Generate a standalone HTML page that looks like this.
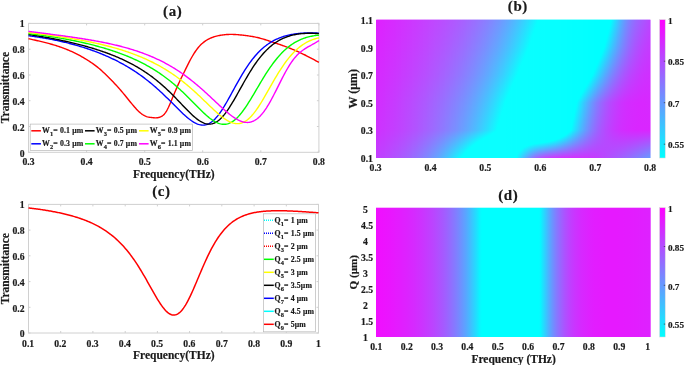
<!DOCTYPE html><html><head><meta charset="utf-8"><title>Figure</title><style>html,body{margin:0;padding:0;background:#fff;overflow:hidden}svg{display:block;will-change:transform}text{stroke:#1a1a1a;stroke-width:.18px;stroke-linejoin:round}</style></head><body><svg width="685" height="365" viewBox="0 0 685 365" style="display:block">
<rect width="685" height="365" fill="#fff"/>
<defs><linearGradient id="gd" x1="0" y1="0" x2="1" y2="0"><stop offset="0.0000" stop-color="#f10eff"/><stop offset="0.0071" stop-color="#f00fff"/><stop offset="0.0143" stop-color="#ef10ff"/><stop offset="0.0214" stop-color="#ee11ff"/><stop offset="0.0286" stop-color="#ed12ff"/><stop offset="0.0357" stop-color="#ec13ff"/><stop offset="0.0429" stop-color="#eb14ff"/><stop offset="0.0500" stop-color="#ea15ff"/><stop offset="0.0571" stop-color="#e817ff"/><stop offset="0.0643" stop-color="#e718ff"/><stop offset="0.0714" stop-color="#e51aff"/><stop offset="0.0786" stop-color="#e41bff"/><stop offset="0.0857" stop-color="#e31cff"/><stop offset="0.0929" stop-color="#e11eff"/><stop offset="0.1000" stop-color="#df20ff"/><stop offset="0.1071" stop-color="#de21ff"/><stop offset="0.1143" stop-color="#dc23ff"/><stop offset="0.1214" stop-color="#da25ff"/><stop offset="0.1286" stop-color="#d827ff"/><stop offset="0.1357" stop-color="#d629ff"/><stop offset="0.1429" stop-color="#d42bff"/><stop offset="0.1500" stop-color="#d12eff"/><stop offset="0.1571" stop-color="#cf30ff"/><stop offset="0.1643" stop-color="#cd32ff"/><stop offset="0.1714" stop-color="#ca35ff"/><stop offset="0.1786" stop-color="#c738ff"/><stop offset="0.1857" stop-color="#c43bff"/><stop offset="0.1929" stop-color="#c13eff"/><stop offset="0.2000" stop-color="#be41ff"/><stop offset="0.2071" stop-color="#bb44ff"/><stop offset="0.2143" stop-color="#b748ff"/><stop offset="0.2214" stop-color="#b34cff"/><stop offset="0.2286" stop-color="#af50ff"/><stop offset="0.2357" stop-color="#ab54ff"/><stop offset="0.2429" stop-color="#a758ff"/><stop offset="0.2500" stop-color="#a25dff"/><stop offset="0.2571" stop-color="#9d62ff"/><stop offset="0.2643" stop-color="#9768ff"/><stop offset="0.2714" stop-color="#926dff"/><stop offset="0.2786" stop-color="#8c73ff"/><stop offset="0.2857" stop-color="#8679ff"/><stop offset="0.2929" stop-color="#7f80ff"/><stop offset="0.3000" stop-color="#7887ff"/><stop offset="0.3071" stop-color="#708fff"/><stop offset="0.3143" stop-color="#6897ff"/><stop offset="0.3214" stop-color="#609fff"/><stop offset="0.3286" stop-color="#57a8ff"/><stop offset="0.3357" stop-color="#4db2ff"/><stop offset="0.3429" stop-color="#43bcff"/><stop offset="0.3500" stop-color="#38c7ff"/><stop offset="0.3571" stop-color="#2dd2ff"/><stop offset="0.3643" stop-color="#22ddff"/><stop offset="0.3714" stop-color="#15eaff"/><stop offset="0.3786" stop-color="#08f7ff"/><stop offset="0.3857" stop-color="#00ffff"/><stop offset="0.3929" stop-color="#00ffff"/><stop offset="0.4000" stop-color="#00ffff"/><stop offset="0.4071" stop-color="#00ffff"/><stop offset="0.4143" stop-color="#00ffff"/><stop offset="0.4214" stop-color="#00ffff"/><stop offset="0.4286" stop-color="#00ffff"/><stop offset="0.4357" stop-color="#00ffff"/><stop offset="0.4429" stop-color="#00ffff"/><stop offset="0.4500" stop-color="#00ffff"/><stop offset="0.4571" stop-color="#00ffff"/><stop offset="0.4643" stop-color="#00ffff"/><stop offset="0.4714" stop-color="#00ffff"/><stop offset="0.4786" stop-color="#00ffff"/><stop offset="0.4857" stop-color="#00ffff"/><stop offset="0.4929" stop-color="#00ffff"/><stop offset="0.5000" stop-color="#00ffff"/><stop offset="0.5071" stop-color="#00ffff"/><stop offset="0.5143" stop-color="#00ffff"/><stop offset="0.5214" stop-color="#00ffff"/><stop offset="0.5286" stop-color="#00ffff"/><stop offset="0.5357" stop-color="#00ffff"/><stop offset="0.5429" stop-color="#00ffff"/><stop offset="0.5500" stop-color="#00ffff"/><stop offset="0.5571" stop-color="#00ffff"/><stop offset="0.5643" stop-color="#00ffff"/><stop offset="0.5714" stop-color="#00ffff"/><stop offset="0.5786" stop-color="#00ffff"/><stop offset="0.5857" stop-color="#00ffff"/><stop offset="0.5929" stop-color="#00ffff"/><stop offset="0.6000" stop-color="#09f6ff"/><stop offset="0.6071" stop-color="#1ce3ff"/><stop offset="0.6143" stop-color="#2dd2ff"/><stop offset="0.6214" stop-color="#3ec1ff"/><stop offset="0.6286" stop-color="#4fb0ff"/><stop offset="0.6357" stop-color="#5ea1ff"/><stop offset="0.6429" stop-color="#6c93ff"/><stop offset="0.6500" stop-color="#7986ff"/><stop offset="0.6571" stop-color="#857aff"/><stop offset="0.6643" stop-color="#8f70ff"/><stop offset="0.6714" stop-color="#9966ff"/><stop offset="0.6786" stop-color="#a25dff"/><stop offset="0.6857" stop-color="#ab54ff"/><stop offset="0.6929" stop-color="#b24dff"/><stop offset="0.7000" stop-color="#b946ff"/><stop offset="0.7071" stop-color="#bf40ff"/><stop offset="0.7143" stop-color="#c43bff"/><stop offset="0.7214" stop-color="#c936ff"/><stop offset="0.7286" stop-color="#cd32ff"/><stop offset="0.7357" stop-color="#d02fff"/><stop offset="0.7429" stop-color="#d42bff"/><stop offset="0.7500" stop-color="#d728ff"/><stop offset="0.7571" stop-color="#d926ff"/><stop offset="0.7643" stop-color="#db24ff"/><stop offset="0.7714" stop-color="#dd22ff"/><stop offset="0.7786" stop-color="#df20ff"/><stop offset="0.7857" stop-color="#e01fff"/><stop offset="0.7929" stop-color="#e21dff"/><stop offset="0.8000" stop-color="#e31cff"/><stop offset="0.8071" stop-color="#e31cff"/><stop offset="0.8143" stop-color="#e41bff"/><stop offset="0.8214" stop-color="#e51aff"/><stop offset="0.8286" stop-color="#e51aff"/><stop offset="0.8357" stop-color="#e619ff"/><stop offset="0.8429" stop-color="#e619ff"/><stop offset="0.8500" stop-color="#e619ff"/><stop offset="0.8571" stop-color="#e619ff"/><stop offset="0.8643" stop-color="#e619ff"/><stop offset="0.8714" stop-color="#e619ff"/><stop offset="0.8786" stop-color="#e619ff"/><stop offset="0.8857" stop-color="#e51aff"/><stop offset="0.8929" stop-color="#e51aff"/><stop offset="0.9000" stop-color="#e51aff"/><stop offset="0.9071" stop-color="#e41bff"/><stop offset="0.9143" stop-color="#e41bff"/><stop offset="0.9214" stop-color="#e41bff"/><stop offset="0.9286" stop-color="#e31cff"/><stop offset="0.9357" stop-color="#e31cff"/><stop offset="0.9429" stop-color="#e21dff"/><stop offset="0.9500" stop-color="#e21dff"/><stop offset="0.9571" stop-color="#e11eff"/><stop offset="0.9643" stop-color="#e01fff"/><stop offset="0.9714" stop-color="#e01fff"/><stop offset="0.9786" stop-color="#df20ff"/><stop offset="0.9857" stop-color="#df20ff"/><stop offset="0.9929" stop-color="#de21ff"/><stop offset="1.0000" stop-color="#de21ff"/></linearGradient><linearGradient id="cb" x1="0" y1="0" x2="0" y2="1"><stop offset="0" stop-color="#ff00ff"/><stop offset="1" stop-color="#00ffff"/></linearGradient><linearGradient id="b0" x1="0" y1="0" x2="0" y2="1"><stop offset="0.000" stop-color="#df20ff"/><stop offset="0.200" stop-color="#da25ff"/><stop offset="0.400" stop-color="#d629ff"/><stop offset="0.600" stop-color="#d32cff"/><stop offset="0.800" stop-color="#ce31ff"/><stop offset="1.000" stop-color="#c23dff"/></linearGradient><linearGradient id="b1" x1="0" y1="0" x2="0" y2="1"><stop offset="0.000" stop-color="#df20ff"/><stop offset="0.200" stop-color="#da25ff"/><stop offset="0.400" stop-color="#d629ff"/><stop offset="0.600" stop-color="#d22dff"/><stop offset="0.800" stop-color="#cd32ff"/><stop offset="1.000" stop-color="#c13eff"/></linearGradient><linearGradient id="b2" x1="0" y1="0" x2="0" y2="1"><stop offset="0.000" stop-color="#de21ff"/><stop offset="0.200" stop-color="#d926ff"/><stop offset="0.400" stop-color="#d52aff"/><stop offset="0.600" stop-color="#d22dff"/><stop offset="0.800" stop-color="#cd32ff"/><stop offset="1.000" stop-color="#c03fff"/></linearGradient><linearGradient id="b3" x1="0" y1="0" x2="0" y2="1"><stop offset="0.000" stop-color="#de21ff"/><stop offset="0.200" stop-color="#d926ff"/><stop offset="0.400" stop-color="#d52aff"/><stop offset="0.600" stop-color="#d12eff"/><stop offset="0.800" stop-color="#cc33ff"/><stop offset="1.000" stop-color="#bf40ff"/></linearGradient><linearGradient id="b4" x1="0" y1="0" x2="0" y2="1"><stop offset="0.000" stop-color="#dd22ff"/><stop offset="0.200" stop-color="#d827ff"/><stop offset="0.400" stop-color="#d42bff"/><stop offset="0.600" stop-color="#d02fff"/><stop offset="0.800" stop-color="#cc33ff"/><stop offset="1.000" stop-color="#be41ff"/></linearGradient><linearGradient id="b5" x1="0" y1="0" x2="0" y2="1"><stop offset="0.000" stop-color="#dd22ff"/><stop offset="0.200" stop-color="#d827ff"/><stop offset="0.400" stop-color="#d42bff"/><stop offset="0.600" stop-color="#d02fff"/><stop offset="0.800" stop-color="#cb34ff"/><stop offset="1.000" stop-color="#bd42ff"/></linearGradient><linearGradient id="b6" x1="0" y1="0" x2="0" y2="1"><stop offset="0.000" stop-color="#dc23ff"/><stop offset="0.200" stop-color="#d728ff"/><stop offset="0.400" stop-color="#d32cff"/><stop offset="0.600" stop-color="#cf30ff"/><stop offset="0.800" stop-color="#ca35ff"/><stop offset="1.000" stop-color="#bc43ff"/></linearGradient><linearGradient id="b7" x1="0" y1="0" x2="0" y2="1"><stop offset="0.000" stop-color="#db24ff"/><stop offset="0.200" stop-color="#d728ff"/><stop offset="0.400" stop-color="#d32cff"/><stop offset="0.600" stop-color="#ce31ff"/><stop offset="0.800" stop-color="#ca35ff"/><stop offset="1.000" stop-color="#bc43ff"/></linearGradient><linearGradient id="b8" x1="0" y1="0" x2="0" y2="1"><stop offset="0.000" stop-color="#db24ff"/><stop offset="0.200" stop-color="#d629ff"/><stop offset="0.400" stop-color="#d22dff"/><stop offset="0.600" stop-color="#ce31ff"/><stop offset="0.800" stop-color="#c936ff"/><stop offset="1.000" stop-color="#bb44ff"/></linearGradient><linearGradient id="b9" x1="0" y1="0" x2="0" y2="1"><stop offset="0.000" stop-color="#da25ff"/><stop offset="0.200" stop-color="#d629ff"/><stop offset="0.400" stop-color="#d22dff"/><stop offset="0.600" stop-color="#cd32ff"/><stop offset="0.800" stop-color="#c936ff"/><stop offset="1.000" stop-color="#ba45ff"/></linearGradient><linearGradient id="b10" x1="0" y1="0" x2="0" y2="1"><stop offset="0.000" stop-color="#da25ff"/><stop offset="0.200" stop-color="#d52aff"/><stop offset="0.400" stop-color="#d12eff"/><stop offset="0.600" stop-color="#cc33ff"/><stop offset="0.800" stop-color="#c837ff"/><stop offset="1.000" stop-color="#b946ff"/></linearGradient><linearGradient id="b11" x1="0" y1="0" x2="0" y2="1"><stop offset="0.000" stop-color="#d926ff"/><stop offset="0.200" stop-color="#d52aff"/><stop offset="0.400" stop-color="#d12eff"/><stop offset="0.600" stop-color="#cb34ff"/><stop offset="0.800" stop-color="#c738ff"/><stop offset="1.000" stop-color="#b847ff"/></linearGradient><linearGradient id="b12" x1="0" y1="0" x2="0" y2="1"><stop offset="0.000" stop-color="#d926ff"/><stop offset="0.200" stop-color="#d42bff"/><stop offset="0.400" stop-color="#d02fff"/><stop offset="0.600" stop-color="#cb34ff"/><stop offset="0.800" stop-color="#c738ff"/><stop offset="1.000" stop-color="#b748ff"/></linearGradient><linearGradient id="b13" x1="0" y1="0" x2="0" y2="1"><stop offset="0.000" stop-color="#d827ff"/><stop offset="0.200" stop-color="#d42bff"/><stop offset="0.400" stop-color="#cf30ff"/><stop offset="0.600" stop-color="#ca35ff"/><stop offset="0.800" stop-color="#c639ff"/><stop offset="1.000" stop-color="#b649ff"/></linearGradient><linearGradient id="b14" x1="0" y1="0" x2="0" y2="1"><stop offset="0.000" stop-color="#d827ff"/><stop offset="0.200" stop-color="#d32cff"/><stop offset="0.400" stop-color="#cf30ff"/><stop offset="0.600" stop-color="#c936ff"/><stop offset="0.800" stop-color="#c53aff"/><stop offset="1.000" stop-color="#b54aff"/></linearGradient><linearGradient id="b15" x1="0" y1="0" x2="0" y2="1"><stop offset="0.000" stop-color="#d728ff"/><stop offset="0.200" stop-color="#d32cff"/><stop offset="0.400" stop-color="#ce31ff"/><stop offset="0.600" stop-color="#c936ff"/><stop offset="0.800" stop-color="#c43bff"/><stop offset="1.000" stop-color="#b44bff"/></linearGradient><linearGradient id="b16" x1="0" y1="0" x2="0" y2="1"><stop offset="0.000" stop-color="#d728ff"/><stop offset="0.200" stop-color="#d22dff"/><stop offset="0.400" stop-color="#ce31ff"/><stop offset="0.600" stop-color="#c837ff"/><stop offset="0.800" stop-color="#c43bff"/><stop offset="1.000" stop-color="#b24dff"/></linearGradient><linearGradient id="b17" x1="0" y1="0" x2="0" y2="1"><stop offset="0.000" stop-color="#d629ff"/><stop offset="0.200" stop-color="#d22dff"/><stop offset="0.400" stop-color="#cd32ff"/><stop offset="0.600" stop-color="#c738ff"/><stop offset="0.800" stop-color="#c33cff"/><stop offset="1.000" stop-color="#b14eff"/></linearGradient><linearGradient id="b18" x1="0" y1="0" x2="0" y2="1"><stop offset="0.000" stop-color="#d629ff"/><stop offset="0.200" stop-color="#d12eff"/><stop offset="0.400" stop-color="#cc33ff"/><stop offset="0.600" stop-color="#c639ff"/><stop offset="0.800" stop-color="#c23dff"/><stop offset="1.000" stop-color="#b04fff"/></linearGradient><linearGradient id="b19" x1="0" y1="0" x2="0" y2="1"><stop offset="0.000" stop-color="#d52aff"/><stop offset="0.200" stop-color="#d12eff"/><stop offset="0.400" stop-color="#cc33ff"/><stop offset="0.600" stop-color="#c639ff"/><stop offset="0.800" stop-color="#c13eff"/><stop offset="1.000" stop-color="#af50ff"/></linearGradient><linearGradient id="b20" x1="0" y1="0" x2="0" y2="1"><stop offset="0.000" stop-color="#d42bff"/><stop offset="0.200" stop-color="#d02fff"/><stop offset="0.400" stop-color="#cb34ff"/><stop offset="0.600" stop-color="#c53aff"/><stop offset="0.800" stop-color="#c13eff"/><stop offset="1.000" stop-color="#ae51ff"/></linearGradient><linearGradient id="b21" x1="0" y1="0" x2="0" y2="1"><stop offset="0.000" stop-color="#d42bff"/><stop offset="0.200" stop-color="#cf30ff"/><stop offset="0.400" stop-color="#cb34ff"/><stop offset="0.600" stop-color="#c43bff"/><stop offset="0.800" stop-color="#c03fff"/><stop offset="1.000" stop-color="#ad52ff"/></linearGradient><linearGradient id="b22" x1="0" y1="0" x2="0" y2="1"><stop offset="0.000" stop-color="#d32cff"/><stop offset="0.200" stop-color="#cf30ff"/><stop offset="0.400" stop-color="#ca35ff"/><stop offset="0.600" stop-color="#c33cff"/><stop offset="0.800" stop-color="#bf40ff"/><stop offset="1.000" stop-color="#ac53ff"/></linearGradient><linearGradient id="b23" x1="0" y1="0" x2="0" y2="1"><stop offset="0.000" stop-color="#d32cff"/><stop offset="0.200" stop-color="#ce31ff"/><stop offset="0.400" stop-color="#c936ff"/><stop offset="0.600" stop-color="#c23dff"/><stop offset="0.800" stop-color="#be41ff"/><stop offset="1.000" stop-color="#aa55ff"/></linearGradient><linearGradient id="b24" x1="0" y1="0" x2="0" y2="1"><stop offset="0.000" stop-color="#d22dff"/><stop offset="0.200" stop-color="#ce31ff"/><stop offset="0.400" stop-color="#c936ff"/><stop offset="0.600" stop-color="#c23dff"/><stop offset="0.800" stop-color="#bd42ff"/><stop offset="1.000" stop-color="#a956ff"/></linearGradient><linearGradient id="b25" x1="0" y1="0" x2="0" y2="1"><stop offset="0.000" stop-color="#d22dff"/><stop offset="0.200" stop-color="#cd32ff"/><stop offset="0.400" stop-color="#c837ff"/><stop offset="0.600" stop-color="#c13eff"/><stop offset="0.800" stop-color="#bd42ff"/><stop offset="1.000" stop-color="#a857ff"/></linearGradient><linearGradient id="b26" x1="0" y1="0" x2="0" y2="1"><stop offset="0.000" stop-color="#d12eff"/><stop offset="0.200" stop-color="#cc33ff"/><stop offset="0.400" stop-color="#c738ff"/><stop offset="0.600" stop-color="#c03fff"/><stop offset="0.800" stop-color="#bc43ff"/><stop offset="1.000" stop-color="#a659ff"/></linearGradient><linearGradient id="b27" x1="0" y1="0" x2="0" y2="1"><stop offset="0.000" stop-color="#d12eff"/><stop offset="0.200" stop-color="#cc33ff"/><stop offset="0.400" stop-color="#c639ff"/><stop offset="0.600" stop-color="#bf40ff"/><stop offset="0.800" stop-color="#bb44ff"/><stop offset="1.000" stop-color="#a55aff"/></linearGradient><linearGradient id="b28" x1="0" y1="0" x2="0" y2="1"><stop offset="0.000" stop-color="#d02fff"/><stop offset="0.200" stop-color="#cb34ff"/><stop offset="0.400" stop-color="#c639ff"/><stop offset="0.600" stop-color="#be41ff"/><stop offset="0.800" stop-color="#ba45ff"/><stop offset="1.000" stop-color="#a45bff"/></linearGradient><linearGradient id="b29" x1="0" y1="0" x2="0" y2="1"><stop offset="0.000" stop-color="#cf30ff"/><stop offset="0.200" stop-color="#cb34ff"/><stop offset="0.400" stop-color="#c53aff"/><stop offset="0.600" stop-color="#bd42ff"/><stop offset="0.800" stop-color="#b946ff"/><stop offset="1.000" stop-color="#a25dff"/></linearGradient><linearGradient id="b30" x1="0" y1="0" x2="0" y2="1"><stop offset="0.000" stop-color="#cf30ff"/><stop offset="0.200" stop-color="#ca35ff"/><stop offset="0.400" stop-color="#c43bff"/><stop offset="0.600" stop-color="#bc43ff"/><stop offset="0.800" stop-color="#b847ff"/><stop offset="1.000" stop-color="#a15eff"/></linearGradient><linearGradient id="b31" x1="0" y1="0" x2="0" y2="1"><stop offset="0.000" stop-color="#ce31ff"/><stop offset="0.200" stop-color="#c936ff"/><stop offset="0.400" stop-color="#c43bff"/><stop offset="0.600" stop-color="#bc43ff"/><stop offset="0.800" stop-color="#b748ff"/><stop offset="1.000" stop-color="#9f60ff"/></linearGradient><linearGradient id="b32" x1="0" y1="0" x2="0" y2="1"><stop offset="0.000" stop-color="#ce31ff"/><stop offset="0.200" stop-color="#c936ff"/><stop offset="0.400" stop-color="#c33cff"/><stop offset="0.600" stop-color="#bb44ff"/><stop offset="0.800" stop-color="#b649ff"/><stop offset="1.000" stop-color="#9e61ff"/></linearGradient><linearGradient id="b33" x1="0" y1="0" x2="0" y2="1"><stop offset="0.000" stop-color="#cd32ff"/><stop offset="0.200" stop-color="#c837ff"/><stop offset="0.400" stop-color="#c23dff"/><stop offset="0.600" stop-color="#ba45ff"/><stop offset="0.800" stop-color="#b54aff"/><stop offset="1.000" stop-color="#9c63ff"/></linearGradient><linearGradient id="b34" x1="0" y1="0" x2="0" y2="1"><stop offset="0.000" stop-color="#cd32ff"/><stop offset="0.200" stop-color="#c738ff"/><stop offset="0.400" stop-color="#c13eff"/><stop offset="0.600" stop-color="#b946ff"/><stop offset="0.800" stop-color="#b44bff"/><stop offset="1.000" stop-color="#9b64ff"/></linearGradient><linearGradient id="b35" x1="0" y1="0" x2="0" y2="1"><stop offset="0.000" stop-color="#cc33ff"/><stop offset="0.200" stop-color="#c738ff"/><stop offset="0.400" stop-color="#c13eff"/><stop offset="0.600" stop-color="#b847ff"/><stop offset="0.800" stop-color="#b34cff"/><stop offset="1.000" stop-color="#9966ff"/></linearGradient><linearGradient id="b36" x1="0" y1="0" x2="0" y2="1"><stop offset="0.000" stop-color="#cb34ff"/><stop offset="0.200" stop-color="#c639ff"/><stop offset="0.400" stop-color="#c03fff"/><stop offset="0.600" stop-color="#b748ff"/><stop offset="0.800" stop-color="#b24dff"/><stop offset="1.000" stop-color="#9768ff"/></linearGradient><linearGradient id="b37" x1="0" y1="0" x2="0" y2="1"><stop offset="0.000" stop-color="#cb34ff"/><stop offset="0.200" stop-color="#c53aff"/><stop offset="0.400" stop-color="#bf40ff"/><stop offset="0.600" stop-color="#b649ff"/><stop offset="0.800" stop-color="#b14eff"/><stop offset="1.000" stop-color="#956aff"/></linearGradient><linearGradient id="b38" x1="0" y1="0" x2="0" y2="1"><stop offset="0.000" stop-color="#ca35ff"/><stop offset="0.200" stop-color="#c53aff"/><stop offset="0.400" stop-color="#be41ff"/><stop offset="0.600" stop-color="#b54aff"/><stop offset="0.800" stop-color="#b04fff"/><stop offset="1.000" stop-color="#946bff"/></linearGradient><linearGradient id="b39" x1="0" y1="0" x2="0" y2="1"><stop offset="0.000" stop-color="#ca35ff"/><stop offset="0.200" stop-color="#c43bff"/><stop offset="0.400" stop-color="#bd42ff"/><stop offset="0.600" stop-color="#b44bff"/><stop offset="0.800" stop-color="#af50ff"/><stop offset="1.000" stop-color="#926dff"/></linearGradient><linearGradient id="b40" x1="0" y1="0" x2="0" y2="1"><stop offset="0.000" stop-color="#c936ff"/><stop offset="0.200" stop-color="#c33cff"/><stop offset="0.400" stop-color="#bd42ff"/><stop offset="0.600" stop-color="#b34cff"/><stop offset="0.800" stop-color="#ae51ff"/><stop offset="1.000" stop-color="#906fff"/></linearGradient><linearGradient id="b41" x1="0" y1="0" x2="0" y2="1"><stop offset="0.000" stop-color="#c837ff"/><stop offset="0.200" stop-color="#c33cff"/><stop offset="0.400" stop-color="#bc43ff"/><stop offset="0.600" stop-color="#b24dff"/><stop offset="0.800" stop-color="#ad52ff"/><stop offset="1.000" stop-color="#8e71ff"/></linearGradient><linearGradient id="b42" x1="0" y1="0" x2="0" y2="1"><stop offset="0.000" stop-color="#c837ff"/><stop offset="0.200" stop-color="#c23dff"/><stop offset="0.400" stop-color="#bb44ff"/><stop offset="0.600" stop-color="#b14eff"/><stop offset="0.800" stop-color="#ab54ff"/><stop offset="1.000" stop-color="#8c73ff"/></linearGradient><linearGradient id="b43" x1="0" y1="0" x2="0" y2="1"><stop offset="0.000" stop-color="#c738ff"/><stop offset="0.200" stop-color="#c13eff"/><stop offset="0.400" stop-color="#ba45ff"/><stop offset="0.600" stop-color="#b04fff"/><stop offset="0.800" stop-color="#aa55ff"/><stop offset="1.000" stop-color="#8a75ff"/></linearGradient><linearGradient id="b44" x1="0" y1="0" x2="0" y2="1"><stop offset="0.000" stop-color="#c738ff"/><stop offset="0.200" stop-color="#c03fff"/><stop offset="0.400" stop-color="#b946ff"/><stop offset="0.600" stop-color="#af50ff"/><stop offset="0.800" stop-color="#a956ff"/><stop offset="1.000" stop-color="#8877ff"/></linearGradient><linearGradient id="b45" x1="0" y1="0" x2="0" y2="1"><stop offset="0.000" stop-color="#c639ff"/><stop offset="0.200" stop-color="#c03fff"/><stop offset="0.400" stop-color="#b847ff"/><stop offset="0.600" stop-color="#ae51ff"/><stop offset="0.800" stop-color="#a857ff"/><stop offset="1.000" stop-color="#8679ff"/></linearGradient><linearGradient id="b46" x1="0" y1="0" x2="0" y2="1"><stop offset="0.000" stop-color="#c53aff"/><stop offset="0.200" stop-color="#bf40ff"/><stop offset="0.400" stop-color="#b748ff"/><stop offset="0.600" stop-color="#ad52ff"/><stop offset="0.800" stop-color="#a758ff"/><stop offset="1.000" stop-color="#847bff"/></linearGradient><linearGradient id="b47" x1="0" y1="0" x2="0" y2="1"><stop offset="0.000" stop-color="#c53aff"/><stop offset="0.200" stop-color="#be41ff"/><stop offset="0.400" stop-color="#b748ff"/><stop offset="0.600" stop-color="#ac53ff"/><stop offset="0.800" stop-color="#a55aff"/><stop offset="1.000" stop-color="#827dff"/></linearGradient><linearGradient id="b48" x1="0" y1="0" x2="0" y2="1"><stop offset="0.000" stop-color="#c43bff"/><stop offset="0.200" stop-color="#bd42ff"/><stop offset="0.400" stop-color="#b649ff"/><stop offset="0.600" stop-color="#ab54ff"/><stop offset="0.800" stop-color="#a45bff"/><stop offset="1.000" stop-color="#7f80ff"/></linearGradient><linearGradient id="b49" x1="0" y1="0" x2="0" y2="1"><stop offset="0.000" stop-color="#c33cff"/><stop offset="0.200" stop-color="#bd42ff"/><stop offset="0.400" stop-color="#b54aff"/><stop offset="0.600" stop-color="#aa55ff"/><stop offset="0.800" stop-color="#a35cff"/><stop offset="1.000" stop-color="#7d82ff"/></linearGradient><linearGradient id="b50" x1="0" y1="0" x2="0" y2="1"><stop offset="0.000" stop-color="#c33cff"/><stop offset="0.200" stop-color="#bc43ff"/><stop offset="0.400" stop-color="#b44bff"/><stop offset="0.600" stop-color="#a956ff"/><stop offset="0.800" stop-color="#a25dff"/><stop offset="1.000" stop-color="#7b84ff"/></linearGradient><linearGradient id="b51" x1="0" y1="0" x2="0" y2="1"><stop offset="0.000" stop-color="#c23dff"/><stop offset="0.200" stop-color="#bb44ff"/><stop offset="0.400" stop-color="#b34cff"/><stop offset="0.600" stop-color="#a758ff"/><stop offset="0.800" stop-color="#a05fff"/><stop offset="1.000" stop-color="#7887ff"/></linearGradient><linearGradient id="b52" x1="0" y1="0" x2="0" y2="1"><stop offset="0.000" stop-color="#c13eff"/><stop offset="0.200" stop-color="#ba45ff"/><stop offset="0.400" stop-color="#b24dff"/><stop offset="0.600" stop-color="#a659ff"/><stop offset="0.800" stop-color="#9f60ff"/><stop offset="1.000" stop-color="#7689ff"/></linearGradient><linearGradient id="b53" x1="0" y1="0" x2="0" y2="1"><stop offset="0.000" stop-color="#c13eff"/><stop offset="0.200" stop-color="#b946ff"/><stop offset="0.400" stop-color="#b14eff"/><stop offset="0.600" stop-color="#a55aff"/><stop offset="0.800" stop-color="#9e61ff"/><stop offset="1.000" stop-color="#738cff"/></linearGradient><linearGradient id="b54" x1="0" y1="0" x2="0" y2="1"><stop offset="0.000" stop-color="#c03fff"/><stop offset="0.200" stop-color="#b946ff"/><stop offset="0.400" stop-color="#b04fff"/><stop offset="0.600" stop-color="#a45bff"/><stop offset="0.800" stop-color="#9c63ff"/><stop offset="1.000" stop-color="#718eff"/></linearGradient><linearGradient id="b55" x1="0" y1="0" x2="0" y2="1"><stop offset="0.000" stop-color="#bf40ff"/><stop offset="0.200" stop-color="#b847ff"/><stop offset="0.400" stop-color="#af50ff"/><stop offset="0.600" stop-color="#a35cff"/><stop offset="0.800" stop-color="#9b64ff"/><stop offset="1.000" stop-color="#6e91ff"/></linearGradient><linearGradient id="b56" x1="0" y1="0" x2="0" y2="1"><stop offset="0.000" stop-color="#bf40ff"/><stop offset="0.200" stop-color="#b748ff"/><stop offset="0.400" stop-color="#ae51ff"/><stop offset="0.600" stop-color="#a25dff"/><stop offset="0.800" stop-color="#9a65ff"/><stop offset="1.000" stop-color="#6b94ff"/></linearGradient><linearGradient id="b57" x1="0" y1="0" x2="0" y2="1"><stop offset="0.000" stop-color="#be41ff"/><stop offset="0.200" stop-color="#b649ff"/><stop offset="0.400" stop-color="#ad52ff"/><stop offset="0.600" stop-color="#a05fff"/><stop offset="0.800" stop-color="#9867ff"/><stop offset="1.000" stop-color="#6996ff"/></linearGradient><linearGradient id="b58" x1="0" y1="0" x2="0" y2="1"><stop offset="0.000" stop-color="#bd42ff"/><stop offset="0.200" stop-color="#b54aff"/><stop offset="0.400" stop-color="#ac53ff"/><stop offset="0.600" stop-color="#9f60ff"/><stop offset="0.800" stop-color="#9768ff"/><stop offset="1.000" stop-color="#6699ff"/></linearGradient><linearGradient id="b59" x1="0" y1="0" x2="0" y2="1"><stop offset="0.000" stop-color="#bc43ff"/><stop offset="0.200" stop-color="#b44bff"/><stop offset="0.400" stop-color="#ab54ff"/><stop offset="0.600" stop-color="#9e61ff"/><stop offset="0.800" stop-color="#956aff"/><stop offset="1.000" stop-color="#639cff"/></linearGradient><linearGradient id="b60" x1="0" y1="0" x2="0" y2="1"><stop offset="0.000" stop-color="#bc43ff"/><stop offset="0.200" stop-color="#b34cff"/><stop offset="0.400" stop-color="#aa55ff"/><stop offset="0.600" stop-color="#9d62ff"/><stop offset="0.800" stop-color="#946bff"/><stop offset="1.000" stop-color="#609fff"/></linearGradient><linearGradient id="b61" x1="0" y1="0" x2="0" y2="1"><stop offset="0.000" stop-color="#bb44ff"/><stop offset="0.200" stop-color="#b34cff"/><stop offset="0.400" stop-color="#a956ff"/><stop offset="0.600" stop-color="#9b64ff"/><stop offset="0.800" stop-color="#926dff"/><stop offset="1.000" stop-color="#5da2ff"/></linearGradient><linearGradient id="b62" x1="0" y1="0" x2="0" y2="1"><stop offset="0.000" stop-color="#ba45ff"/><stop offset="0.200" stop-color="#b24dff"/><stop offset="0.400" stop-color="#a857ff"/><stop offset="0.600" stop-color="#9a65ff"/><stop offset="0.800" stop-color="#916eff"/><stop offset="1.000" stop-color="#5aa5ff"/></linearGradient><linearGradient id="b63" x1="0" y1="0" x2="0" y2="1"><stop offset="0.000" stop-color="#ba45ff"/><stop offset="0.200" stop-color="#b14eff"/><stop offset="0.400" stop-color="#a659ff"/><stop offset="0.600" stop-color="#9966ff"/><stop offset="0.800" stop-color="#8f70ff"/><stop offset="1.000" stop-color="#57a8ff"/></linearGradient><linearGradient id="b64" x1="0" y1="0" x2="0" y2="1"><stop offset="0.000" stop-color="#b946ff"/><stop offset="0.200" stop-color="#b04fff"/><stop offset="0.400" stop-color="#a55aff"/><stop offset="0.600" stop-color="#9768ff"/><stop offset="0.800" stop-color="#8d72ff"/><stop offset="1.000" stop-color="#54abff"/></linearGradient><linearGradient id="b65" x1="0" y1="0" x2="0" y2="1"><stop offset="0.000" stop-color="#b847ff"/><stop offset="0.200" stop-color="#af50ff"/><stop offset="0.400" stop-color="#a45bff"/><stop offset="0.600" stop-color="#9669ff"/><stop offset="0.800" stop-color="#8c73ff"/><stop offset="1.000" stop-color="#51aeff"/></linearGradient><linearGradient id="b66" x1="0" y1="0" x2="0" y2="1"><stop offset="0.000" stop-color="#b748ff"/><stop offset="0.200" stop-color="#ae51ff"/><stop offset="0.400" stop-color="#a35cff"/><stop offset="0.600" stop-color="#956aff"/><stop offset="0.800" stop-color="#8a75ff"/><stop offset="1.000" stop-color="#4db2ff"/></linearGradient><linearGradient id="b67" x1="0" y1="0" x2="0" y2="1"><stop offset="0.000" stop-color="#b649ff"/><stop offset="0.200" stop-color="#ad52ff"/><stop offset="0.400" stop-color="#a25dff"/><stop offset="0.600" stop-color="#936cff"/><stop offset="0.800" stop-color="#8976ff"/><stop offset="1.000" stop-color="#4ab5ff"/></linearGradient><linearGradient id="b68" x1="0" y1="0" x2="0" y2="1"><stop offset="0.000" stop-color="#b649ff"/><stop offset="0.200" stop-color="#ac53ff"/><stop offset="0.400" stop-color="#a15eff"/><stop offset="0.600" stop-color="#926dff"/><stop offset="0.800" stop-color="#8778ff"/><stop offset="1.000" stop-color="#46b9ff"/></linearGradient><linearGradient id="b69" x1="0" y1="0" x2="0" y2="1"><stop offset="0.000" stop-color="#b54aff"/><stop offset="0.200" stop-color="#ab54ff"/><stop offset="0.400" stop-color="#9f60ff"/><stop offset="0.600" stop-color="#906fff"/><stop offset="0.800" stop-color="#857aff"/><stop offset="1.000" stop-color="#42bdff"/></linearGradient><linearGradient id="b70" x1="0" y1="0" x2="0" y2="1"><stop offset="0.000" stop-color="#b44bff"/><stop offset="0.200" stop-color="#aa55ff"/><stop offset="0.400" stop-color="#9e61ff"/><stop offset="0.600" stop-color="#8f70ff"/><stop offset="0.800" stop-color="#837cff"/><stop offset="1.000" stop-color="#3ec1ff"/></linearGradient><linearGradient id="b71" x1="0" y1="0" x2="0" y2="1"><stop offset="0.000" stop-color="#b34cff"/><stop offset="0.200" stop-color="#a956ff"/><stop offset="0.400" stop-color="#9d62ff"/><stop offset="0.600" stop-color="#8d72ff"/><stop offset="0.800" stop-color="#827dff"/><stop offset="1.000" stop-color="#3ac5ff"/></linearGradient><linearGradient id="b72" x1="0" y1="0" x2="0" y2="1"><stop offset="0.000" stop-color="#b24dff"/><stop offset="0.200" stop-color="#a857ff"/><stop offset="0.400" stop-color="#9c63ff"/><stop offset="0.600" stop-color="#8c73ff"/><stop offset="0.800" stop-color="#807fff"/><stop offset="1.000" stop-color="#36c9ff"/></linearGradient><linearGradient id="b73" x1="0" y1="0" x2="0" y2="1"><stop offset="0.000" stop-color="#b14eff"/><stop offset="0.200" stop-color="#a758ff"/><stop offset="0.400" stop-color="#9a65ff"/><stop offset="0.600" stop-color="#8a75ff"/><stop offset="0.800" stop-color="#7e81ff"/><stop offset="1.000" stop-color="#32cdff"/></linearGradient><linearGradient id="b74" x1="0" y1="0" x2="0" y2="1"><stop offset="0.000" stop-color="#b04fff"/><stop offset="0.200" stop-color="#a659ff"/><stop offset="0.400" stop-color="#9966ff"/><stop offset="0.600" stop-color="#8976ff"/><stop offset="0.800" stop-color="#7c83ff"/><stop offset="1.000" stop-color="#2ed1ff"/></linearGradient><linearGradient id="b75" x1="0" y1="0" x2="0" y2="1"><stop offset="0.000" stop-color="#b04fff"/><stop offset="0.200" stop-color="#a55aff"/><stop offset="0.400" stop-color="#9867ff"/><stop offset="0.600" stop-color="#8778ff"/><stop offset="0.800" stop-color="#7a85ff"/><stop offset="1.000" stop-color="#2ad5ff"/></linearGradient><linearGradient id="b76" x1="0" y1="0" x2="0" y2="1"><stop offset="0.000" stop-color="#af50ff"/><stop offset="0.200" stop-color="#a35cff"/><stop offset="0.400" stop-color="#9768ff"/><stop offset="0.600" stop-color="#8679ff"/><stop offset="0.800" stop-color="#7887ff"/><stop offset="1.000" stop-color="#26d9ff"/></linearGradient><linearGradient id="b77" x1="0" y1="0" x2="0" y2="1"><stop offset="0.000" stop-color="#ae51ff"/><stop offset="0.200" stop-color="#a25dff"/><stop offset="0.400" stop-color="#956aff"/><stop offset="0.600" stop-color="#847bff"/><stop offset="0.800" stop-color="#7788ff"/><stop offset="1.000" stop-color="#21deff"/></linearGradient><linearGradient id="b78" x1="0" y1="0" x2="0" y2="1"><stop offset="0.000" stop-color="#ad52ff"/><stop offset="0.200" stop-color="#a15eff"/><stop offset="0.400" stop-color="#946bff"/><stop offset="0.600" stop-color="#837cff"/><stop offset="0.800" stop-color="#758aff"/><stop offset="1.000" stop-color="#1de2ff"/></linearGradient><linearGradient id="b79" x1="0" y1="0" x2="0" y2="1"><stop offset="0.000" stop-color="#ac53ff"/><stop offset="0.200" stop-color="#a05fff"/><stop offset="0.400" stop-color="#926dff"/><stop offset="0.600" stop-color="#817eff"/><stop offset="0.800" stop-color="#738cff"/><stop offset="1.000" stop-color="#19e6ff"/></linearGradient><linearGradient id="b80" x1="0" y1="0" x2="0" y2="1"><stop offset="0.000" stop-color="#ab54ff"/><stop offset="0.200" stop-color="#9f60ff"/><stop offset="0.400" stop-color="#916eff"/><stop offset="0.600" stop-color="#7f80ff"/><stop offset="0.800" stop-color="#718eff"/><stop offset="1.000" stop-color="#14ebff"/></linearGradient><linearGradient id="b81" x1="0" y1="0" x2="0" y2="1"><stop offset="0.000" stop-color="#aa55ff"/><stop offset="0.200" stop-color="#9e61ff"/><stop offset="0.400" stop-color="#906fff"/><stop offset="0.600" stop-color="#7e81ff"/><stop offset="0.800" stop-color="#6f90ff"/><stop offset="1.000" stop-color="#10efff"/></linearGradient><linearGradient id="b82" x1="0" y1="0" x2="0" y2="1"><stop offset="0.000" stop-color="#a956ff"/><stop offset="0.200" stop-color="#9d62ff"/><stop offset="0.400" stop-color="#8e71ff"/><stop offset="0.600" stop-color="#7c83ff"/><stop offset="0.800" stop-color="#6c93ff"/><stop offset="1.000" stop-color="#0cf3ff"/></linearGradient><linearGradient id="b83" x1="0" y1="0" x2="0" y2="1"><stop offset="0.000" stop-color="#a857ff"/><stop offset="0.200" stop-color="#9b64ff"/><stop offset="0.400" stop-color="#8d72ff"/><stop offset="0.600" stop-color="#7a85ff"/><stop offset="0.800" stop-color="#6a95ff"/><stop offset="1.000" stop-color="#07f8ff"/></linearGradient><linearGradient id="b84" x1="0" y1="0" x2="0" y2="1"><stop offset="0.000" stop-color="#a758ff"/><stop offset="0.200" stop-color="#9a65ff"/><stop offset="0.400" stop-color="#8b74ff"/><stop offset="0.600" stop-color="#7887ff"/><stop offset="0.800" stop-color="#6897ff"/><stop offset="1.000" stop-color="#02fdff"/></linearGradient><linearGradient id="b85" x1="0" y1="0" x2="0" y2="1"><stop offset="0.000" stop-color="#a659ff"/><stop offset="0.200" stop-color="#9966ff"/><stop offset="0.400" stop-color="#8a75ff"/><stop offset="0.600" stop-color="#7689ff"/><stop offset="0.800" stop-color="#6699ff"/><stop offset="0.996" stop-color="#00ffff"/><stop offset="1.000" stop-color="#00ffff"/></linearGradient><linearGradient id="b86" x1="0" y1="0" x2="0" y2="1"><stop offset="0.000" stop-color="#a55aff"/><stop offset="0.200" stop-color="#9867ff"/><stop offset="0.400" stop-color="#8877ff"/><stop offset="0.600" stop-color="#758aff"/><stop offset="0.800" stop-color="#649bff"/><stop offset="0.987" stop-color="#00ffff"/><stop offset="1.000" stop-color="#00ffff"/></linearGradient><linearGradient id="b87" x1="0" y1="0" x2="0" y2="1"><stop offset="0.000" stop-color="#a45bff"/><stop offset="0.200" stop-color="#9669ff"/><stop offset="0.400" stop-color="#8778ff"/><stop offset="0.600" stop-color="#738cff"/><stop offset="0.800" stop-color="#629dff"/><stop offset="0.978" stop-color="#00ffff"/><stop offset="1.000" stop-color="#00ffff"/></linearGradient><linearGradient id="b88" x1="0" y1="0" x2="0" y2="1"><stop offset="0.000" stop-color="#a35cff"/><stop offset="0.200" stop-color="#956aff"/><stop offset="0.400" stop-color="#857aff"/><stop offset="0.600" stop-color="#718eff"/><stop offset="0.800" stop-color="#5fa0ff"/><stop offset="0.970" stop-color="#00ffff"/><stop offset="1.000" stop-color="#00ffff"/></linearGradient><linearGradient id="b89" x1="0" y1="0" x2="0" y2="1"><stop offset="0.000" stop-color="#a15eff"/><stop offset="0.200" stop-color="#946bff"/><stop offset="0.400" stop-color="#837cff"/><stop offset="0.600" stop-color="#6f90ff"/><stop offset="0.800" stop-color="#5da2ff"/><stop offset="0.962" stop-color="#00ffff"/><stop offset="1.000" stop-color="#00ffff"/></linearGradient><linearGradient id="b90" x1="0" y1="0" x2="0" y2="1"><stop offset="0.000" stop-color="#a05fff"/><stop offset="0.200" stop-color="#926dff"/><stop offset="0.400" stop-color="#827dff"/><stop offset="0.600" stop-color="#6d92ff"/><stop offset="0.800" stop-color="#5ba4ff"/><stop offset="0.954" stop-color="#00ffff"/><stop offset="1.000" stop-color="#00ffff"/></linearGradient><linearGradient id="b91" x1="0" y1="0" x2="0" y2="1"><stop offset="0.000" stop-color="#9f60ff"/><stop offset="0.200" stop-color="#916eff"/><stop offset="0.400" stop-color="#807fff"/><stop offset="0.600" stop-color="#6b94ff"/><stop offset="0.800" stop-color="#58a7ff"/><stop offset="0.946" stop-color="#00ffff"/><stop offset="1.000" stop-color="#00ffff"/></linearGradient><linearGradient id="b92" x1="0" y1="0" x2="0" y2="1"><stop offset="0.000" stop-color="#9e61ff"/><stop offset="0.200" stop-color="#8f70ff"/><stop offset="0.400" stop-color="#7f80ff"/><stop offset="0.600" stop-color="#6996ff"/><stop offset="0.800" stop-color="#56a9ff"/><stop offset="0.939" stop-color="#00ffff"/><stop offset="1.000" stop-color="#00ffff"/></linearGradient><linearGradient id="b93" x1="0" y1="0" x2="0" y2="1"><stop offset="0.000" stop-color="#9d62ff"/><stop offset="0.200" stop-color="#8e71ff"/><stop offset="0.400" stop-color="#7d82ff"/><stop offset="0.600" stop-color="#6798ff"/><stop offset="0.800" stop-color="#53acff"/><stop offset="0.932" stop-color="#00ffff"/><stop offset="1.000" stop-color="#00ffff"/></linearGradient><linearGradient id="b94" x1="0" y1="0" x2="0" y2="1"><stop offset="0.000" stop-color="#9c63ff"/><stop offset="0.200" stop-color="#8d72ff"/><stop offset="0.400" stop-color="#7b84ff"/><stop offset="0.600" stop-color="#659aff"/><stop offset="0.800" stop-color="#51aeff"/><stop offset="0.926" stop-color="#00ffff"/><stop offset="1.000" stop-color="#00ffff"/></linearGradient><linearGradient id="b95" x1="0" y1="0" x2="0" y2="1"><stop offset="0.000" stop-color="#9a65ff"/><stop offset="0.200" stop-color="#8b74ff"/><stop offset="0.400" stop-color="#7986ff"/><stop offset="0.600" stop-color="#639cff"/><stop offset="0.800" stop-color="#4eb1ff"/><stop offset="0.919" stop-color="#00ffff"/><stop offset="1.000" stop-color="#00ffff"/></linearGradient><linearGradient id="b96" x1="0" y1="0" x2="0" y2="1"><stop offset="0.000" stop-color="#9966ff"/><stop offset="0.200" stop-color="#8a75ff"/><stop offset="0.400" stop-color="#7887ff"/><stop offset="0.600" stop-color="#609fff"/><stop offset="0.800" stop-color="#4cb3ff"/><stop offset="0.913" stop-color="#00ffff"/><stop offset="1.000" stop-color="#00ffff"/></linearGradient><linearGradient id="b97" x1="0" y1="0" x2="0" y2="1"><stop offset="0.000" stop-color="#9867ff"/><stop offset="0.200" stop-color="#8877ff"/><stop offset="0.400" stop-color="#7689ff"/><stop offset="0.600" stop-color="#5ea1ff"/><stop offset="0.800" stop-color="#49b6ff"/><stop offset="0.907" stop-color="#00ffff"/><stop offset="1.000" stop-color="#00ffff"/></linearGradient><linearGradient id="b98" x1="0" y1="0" x2="0" y2="1"><stop offset="0.000" stop-color="#9768ff"/><stop offset="0.200" stop-color="#8778ff"/><stop offset="0.400" stop-color="#748bff"/><stop offset="0.600" stop-color="#5ca3ff"/><stop offset="0.800" stop-color="#46b9ff"/><stop offset="0.902" stop-color="#00ffff"/><stop offset="1.000" stop-color="#00ffff"/></linearGradient><linearGradient id="b99" x1="0" y1="0" x2="0" y2="1"><stop offset="0.000" stop-color="#956aff"/><stop offset="0.200" stop-color="#857aff"/><stop offset="0.400" stop-color="#728dff"/><stop offset="0.600" stop-color="#5aa5ff"/><stop offset="0.800" stop-color="#44bbff"/><stop offset="0.896" stop-color="#00ffff"/><stop offset="1.000" stop-color="#00ffff"/></linearGradient><linearGradient id="b100" x1="0" y1="0" x2="0" y2="1"><stop offset="0.000" stop-color="#946bff"/><stop offset="0.200" stop-color="#837cff"/><stop offset="0.400" stop-color="#708fff"/><stop offset="0.600" stop-color="#57a8ff"/><stop offset="0.800" stop-color="#41beff"/><stop offset="0.891" stop-color="#00ffff"/><stop offset="1.000" stop-color="#00ffff"/></linearGradient><linearGradient id="b101" x1="0" y1="0" x2="0" y2="1"><stop offset="0.000" stop-color="#936cff"/><stop offset="0.200" stop-color="#827dff"/><stop offset="0.400" stop-color="#6e91ff"/><stop offset="0.600" stop-color="#55aaff"/><stop offset="0.800" stop-color="#3ec1ff"/><stop offset="0.886" stop-color="#00ffff"/><stop offset="1.000" stop-color="#00ffff"/></linearGradient><linearGradient id="b102" x1="0" y1="0" x2="0" y2="1"><stop offset="0.000" stop-color="#916eff"/><stop offset="0.200" stop-color="#807fff"/><stop offset="0.400" stop-color="#6c93ff"/><stop offset="0.600" stop-color="#52adff"/><stop offset="0.800" stop-color="#3bc4ff"/><stop offset="0.881" stop-color="#00ffff"/><stop offset="1.000" stop-color="#00ffff"/></linearGradient><linearGradient id="b103" x1="0" y1="0" x2="0" y2="1"><stop offset="0.000" stop-color="#906fff"/><stop offset="0.200" stop-color="#7f80ff"/><stop offset="0.400" stop-color="#6a95ff"/><stop offset="0.600" stop-color="#50afff"/><stop offset="0.800" stop-color="#38c7ff"/><stop offset="0.876" stop-color="#00ffff"/><stop offset="1.000" stop-color="#00ffff"/></linearGradient><linearGradient id="b104" x1="0" y1="0" x2="0" y2="1"><stop offset="0.000" stop-color="#8e71ff"/><stop offset="0.200" stop-color="#7d82ff"/><stop offset="0.400" stop-color="#6897ff"/><stop offset="0.600" stop-color="#4eb1ff"/><stop offset="0.800" stop-color="#35caff"/><stop offset="0.872" stop-color="#00ffff"/><stop offset="1.000" stop-color="#00ffff"/></linearGradient><linearGradient id="b105" x1="0" y1="0" x2="0" y2="1"><stop offset="0.000" stop-color="#8d72ff"/><stop offset="0.200" stop-color="#7b84ff"/><stop offset="0.400" stop-color="#6699ff"/><stop offset="0.600" stop-color="#4bb4ff"/><stop offset="0.800" stop-color="#33ccff"/><stop offset="0.868" stop-color="#00ffff"/><stop offset="1.000" stop-color="#00ffff"/></linearGradient><linearGradient id="b106" x1="0" y1="0" x2="0" y2="1"><stop offset="0.000" stop-color="#8b74ff"/><stop offset="0.200" stop-color="#7986ff"/><stop offset="0.400" stop-color="#649bff"/><stop offset="0.600" stop-color="#48b7ff"/><stop offset="0.800" stop-color="#2fd0ff"/><stop offset="0.863" stop-color="#00ffff"/><stop offset="1.000" stop-color="#00ffff"/></linearGradient><linearGradient id="b107" x1="0" y1="0" x2="0" y2="1"><stop offset="0.000" stop-color="#8a75ff"/><stop offset="0.200" stop-color="#7887ff"/><stop offset="0.400" stop-color="#629dff"/><stop offset="0.600" stop-color="#46b9ff"/><stop offset="0.800" stop-color="#2cd3ff"/><stop offset="0.859" stop-color="#00ffff"/><stop offset="1.000" stop-color="#00ffff"/></linearGradient><linearGradient id="b108" x1="0" y1="0" x2="0" y2="1"><stop offset="0.000" stop-color="#8877ff"/><stop offset="0.200" stop-color="#7689ff"/><stop offset="0.400" stop-color="#609fff"/><stop offset="0.600" stop-color="#43bcff"/><stop offset="0.800" stop-color="#29d6ff"/><stop offset="0.855" stop-color="#00ffff"/><stop offset="1.000" stop-color="#00ffff"/></linearGradient><linearGradient id="b109" x1="0" y1="0" x2="0" y2="1"><stop offset="0.000" stop-color="#8778ff"/><stop offset="0.200" stop-color="#748bff"/><stop offset="0.400" stop-color="#5da2ff"/><stop offset="0.600" stop-color="#40bfff"/><stop offset="0.800" stop-color="#26d9ff"/><stop offset="0.851" stop-color="#00ffff"/><stop offset="1.000" stop-color="#00ffff"/></linearGradient><linearGradient id="b110" x1="0" y1="0" x2="0" y2="1"><stop offset="0.000" stop-color="#857aff"/><stop offset="0.200" stop-color="#728dff"/><stop offset="0.400" stop-color="#5ba4ff"/><stop offset="0.600" stop-color="#3ec1ff"/><stop offset="0.800" stop-color="#23dcff"/><stop offset="0.848" stop-color="#00ffff"/><stop offset="1.000" stop-color="#00ffff"/></linearGradient><linearGradient id="b111" x1="0" y1="0" x2="0" y2="1"><stop offset="0.000" stop-color="#847bff"/><stop offset="0.200" stop-color="#708fff"/><stop offset="0.400" stop-color="#59a6ff"/><stop offset="0.600" stop-color="#3bc4ff"/><stop offset="0.800" stop-color="#20dfff"/><stop offset="0.844" stop-color="#00ffff"/><stop offset="1.000" stop-color="#00ffff"/></linearGradient><linearGradient id="b112" x1="0" y1="0" x2="0" y2="1"><stop offset="0.000" stop-color="#827dff"/><stop offset="0.200" stop-color="#6e91ff"/><stop offset="0.400" stop-color="#57a8ff"/><stop offset="0.600" stop-color="#38c7ff"/><stop offset="0.800" stop-color="#1ce3ff"/><stop offset="0.840" stop-color="#00ffff"/><stop offset="1.000" stop-color="#00ffff"/></linearGradient><linearGradient id="b113" x1="0" y1="0" x2="0" y2="1"><stop offset="0.000" stop-color="#807fff"/><stop offset="0.200" stop-color="#6c93ff"/><stop offset="0.400" stop-color="#54abff"/><stop offset="0.600" stop-color="#35caff"/><stop offset="0.800" stop-color="#19e6ff"/><stop offset="0.836" stop-color="#00ffff"/><stop offset="1.000" stop-color="#00ffff"/></linearGradient><linearGradient id="b114" x1="0" y1="0" x2="0" y2="1"><stop offset="0.000" stop-color="#7e81ff"/><stop offset="0.200" stop-color="#6a95ff"/><stop offset="0.400" stop-color="#52adff"/><stop offset="0.600" stop-color="#32cdff"/><stop offset="0.800" stop-color="#16e9ff"/><stop offset="0.831" stop-color="#00ffff"/><stop offset="1.000" stop-color="#00ffff"/></linearGradient><linearGradient id="b115" x1="0" y1="0" x2="0" y2="1"><stop offset="0.000" stop-color="#7d82ff"/><stop offset="0.200" stop-color="#6897ff"/><stop offset="0.400" stop-color="#4fb0ff"/><stop offset="0.600" stop-color="#2fd0ff"/><stop offset="0.800" stop-color="#12edff"/><stop offset="0.827" stop-color="#00ffff"/><stop offset="1.000" stop-color="#00ffff"/></linearGradient><linearGradient id="b116" x1="0" y1="0" x2="0" y2="1"><stop offset="0.000" stop-color="#7b84ff"/><stop offset="0.200" stop-color="#6699ff"/><stop offset="0.400" stop-color="#4db2ff"/><stop offset="0.600" stop-color="#2cd3ff"/><stop offset="0.800" stop-color="#0ff0ff"/><stop offset="0.822" stop-color="#00ffff"/><stop offset="1.000" stop-color="#00ffff"/></linearGradient><linearGradient id="b117" x1="0" y1="0" x2="0" y2="1"><stop offset="0.000" stop-color="#7986ff"/><stop offset="0.200" stop-color="#649bff"/><stop offset="0.400" stop-color="#4ab5ff"/><stop offset="0.600" stop-color="#29d6ff"/><stop offset="0.800" stop-color="#0bf4ff"/><stop offset="0.817" stop-color="#00ffff"/><stop offset="1.000" stop-color="#00ffff"/></linearGradient><linearGradient id="b118" x1="0" y1="0" x2="0" y2="1"><stop offset="0.000" stop-color="#7788ff"/><stop offset="0.200" stop-color="#629dff"/><stop offset="0.400" stop-color="#48b7ff"/><stop offset="0.600" stop-color="#25daff"/><stop offset="0.800" stop-color="#08f7ff"/><stop offset="0.812" stop-color="#00ffff"/><stop offset="1.000" stop-color="#00ffff"/></linearGradient><linearGradient id="b119" x1="0" y1="0" x2="0" y2="1"><stop offset="0.000" stop-color="#758aff"/><stop offset="0.200" stop-color="#609fff"/><stop offset="0.400" stop-color="#45baff"/><stop offset="0.600" stop-color="#22ddff"/><stop offset="0.800" stop-color="#04fbff"/><stop offset="0.806" stop-color="#00ffff"/><stop offset="1.000" stop-color="#00ffff"/></linearGradient><linearGradient id="b120" x1="0" y1="0" x2="0" y2="1"><stop offset="0.000" stop-color="#738cff"/><stop offset="0.200" stop-color="#5ea1ff"/><stop offset="0.400" stop-color="#43bcff"/><stop offset="0.600" stop-color="#1fe0ff"/><stop offset="0.800" stop-color="#00ffff"/><stop offset="0.800" stop-color="#00ffff"/><stop offset="1.000" stop-color="#00ffff"/></linearGradient><linearGradient id="b121" x1="0" y1="0" x2="0" y2="1"><stop offset="0.000" stop-color="#728dff"/><stop offset="0.200" stop-color="#5ca3ff"/><stop offset="0.400" stop-color="#40bfff"/><stop offset="0.600" stop-color="#1be4ff"/><stop offset="0.778" stop-color="#00ffff"/><stop offset="0.800" stop-color="#00ffff"/><stop offset="1.000" stop-color="#00ffff"/></linearGradient><linearGradient id="b122" x1="0" y1="0" x2="0" y2="1"><stop offset="0.000" stop-color="#708fff"/><stop offset="0.200" stop-color="#59a6ff"/><stop offset="0.400" stop-color="#3dc2ff"/><stop offset="0.600" stop-color="#18e7ff"/><stop offset="0.754" stop-color="#00ffff"/><stop offset="0.800" stop-color="#00ffff"/><stop offset="1.000" stop-color="#00ffff"/></linearGradient><linearGradient id="b123" x1="0" y1="0" x2="0" y2="1"><stop offset="0.000" stop-color="#6e91ff"/><stop offset="0.200" stop-color="#57a8ff"/><stop offset="0.400" stop-color="#3ac5ff"/><stop offset="0.600" stop-color="#14ebff"/><stop offset="0.730" stop-color="#00ffff"/><stop offset="0.800" stop-color="#00ffff"/><stop offset="1.000" stop-color="#00ffff"/></linearGradient><linearGradient id="b124" x1="0" y1="0" x2="0" y2="1"><stop offset="0.000" stop-color="#6c93ff"/><stop offset="0.200" stop-color="#55aaff"/><stop offset="0.400" stop-color="#37c8ff"/><stop offset="0.600" stop-color="#11eeff"/><stop offset="0.706" stop-color="#00ffff"/><stop offset="0.800" stop-color="#00ffff"/><stop offset="1.000" stop-color="#00ffff"/></linearGradient><linearGradient id="b125" x1="0" y1="0" x2="0" y2="1"><stop offset="0.000" stop-color="#6996ff"/><stop offset="0.200" stop-color="#52adff"/><stop offset="0.400" stop-color="#35caff"/><stop offset="0.600" stop-color="#0df2ff"/><stop offset="0.683" stop-color="#00ffff"/><stop offset="0.800" stop-color="#00ffff"/><stop offset="1.000" stop-color="#00ffff"/></linearGradient><linearGradient id="b126" x1="0" y1="0" x2="0" y2="1"><stop offset="0.000" stop-color="#6798ff"/><stop offset="0.200" stop-color="#50afff"/><stop offset="0.400" stop-color="#32cdff"/><stop offset="0.600" stop-color="#0af5ff"/><stop offset="0.660" stop-color="#00ffff"/><stop offset="0.800" stop-color="#00ffff"/><stop offset="1.000" stop-color="#00ffff"/></linearGradient><linearGradient id="b127" x1="0" y1="0" x2="0" y2="1"><stop offset="0.000" stop-color="#659aff"/><stop offset="0.200" stop-color="#4db2ff"/><stop offset="0.400" stop-color="#2fd0ff"/><stop offset="0.600" stop-color="#06f9ff"/><stop offset="0.636" stop-color="#00ffff"/><stop offset="0.800" stop-color="#00ffff"/><stop offset="1.000" stop-color="#00ffff"/></linearGradient><linearGradient id="b128" x1="0" y1="0" x2="0" y2="1"><stop offset="0.000" stop-color="#639cff"/><stop offset="0.200" stop-color="#4bb4ff"/><stop offset="0.400" stop-color="#2cd3ff"/><stop offset="0.600" stop-color="#02fdff"/><stop offset="0.613" stop-color="#00ffff"/><stop offset="0.800" stop-color="#00ffff"/><stop offset="1.000" stop-color="#00ffff"/></linearGradient><linearGradient id="b129" x1="0" y1="0" x2="0" y2="1"><stop offset="0.000" stop-color="#619eff"/><stop offset="0.200" stop-color="#48b7ff"/><stop offset="0.400" stop-color="#28d7ff"/><stop offset="0.592" stop-color="#00ffff"/><stop offset="0.600" stop-color="#00ffff"/><stop offset="0.800" stop-color="#00ffff"/><stop offset="1.000" stop-color="#00ffff"/></linearGradient><linearGradient id="b130" x1="0" y1="0" x2="0" y2="1"><stop offset="0.000" stop-color="#5ea1ff"/><stop offset="0.200" stop-color="#46b9ff"/><stop offset="0.400" stop-color="#25daff"/><stop offset="0.574" stop-color="#00ffff"/><stop offset="0.600" stop-color="#00ffff"/><stop offset="0.800" stop-color="#00ffff"/><stop offset="1.000" stop-color="#00ffff"/></linearGradient><linearGradient id="b131" x1="0" y1="0" x2="0" y2="1"><stop offset="0.000" stop-color="#5ca3ff"/><stop offset="0.200" stop-color="#43bcff"/><stop offset="0.400" stop-color="#22ddff"/><stop offset="0.556" stop-color="#00ffff"/><stop offset="0.600" stop-color="#00ffff"/><stop offset="0.800" stop-color="#00ffff"/><stop offset="1.000" stop-color="#00ffff"/></linearGradient><linearGradient id="b132" x1="0" y1="0" x2="0" y2="1"><stop offset="0.000" stop-color="#5aa5ff"/><stop offset="0.200" stop-color="#40bfff"/><stop offset="0.400" stop-color="#1fe0ff"/><stop offset="0.539" stop-color="#00ffff"/><stop offset="0.600" stop-color="#00ffff"/><stop offset="0.800" stop-color="#00ffff"/><stop offset="1.000" stop-color="#00ffff"/></linearGradient><linearGradient id="b133" x1="0" y1="0" x2="0" y2="1"><stop offset="0.000" stop-color="#57a8ff"/><stop offset="0.200" stop-color="#3ec1ff"/><stop offset="0.400" stop-color="#1be4ff"/><stop offset="0.522" stop-color="#00ffff"/><stop offset="0.600" stop-color="#00ffff"/><stop offset="0.800" stop-color="#00ffff"/><stop offset="1.000" stop-color="#00ffff"/></linearGradient><linearGradient id="b134" x1="0" y1="0" x2="0" y2="1"><stop offset="0.000" stop-color="#55aaff"/><stop offset="0.200" stop-color="#3bc4ff"/><stop offset="0.400" stop-color="#18e7ff"/><stop offset="0.505" stop-color="#00ffff"/><stop offset="0.600" stop-color="#00ffff"/><stop offset="0.800" stop-color="#00ffff"/><stop offset="1.000" stop-color="#00ffff"/></linearGradient><linearGradient id="b135" x1="0" y1="0" x2="0" y2="1"><stop offset="0.000" stop-color="#52adff"/><stop offset="0.200" stop-color="#38c7ff"/><stop offset="0.400" stop-color="#15eaff"/><stop offset="0.489" stop-color="#00ffff"/><stop offset="0.600" stop-color="#00ffff"/><stop offset="0.800" stop-color="#00ffff"/><stop offset="1.000" stop-color="#00ffff"/></linearGradient><linearGradient id="b136" x1="0" y1="0" x2="0" y2="1"><stop offset="0.000" stop-color="#50afff"/><stop offset="0.200" stop-color="#35caff"/><stop offset="0.400" stop-color="#11eeff"/><stop offset="0.473" stop-color="#00ffff"/><stop offset="0.600" stop-color="#00ffff"/><stop offset="0.800" stop-color="#00ffff"/><stop offset="1.000" stop-color="#00ffff"/></linearGradient><linearGradient id="b137" x1="0" y1="0" x2="0" y2="1"><stop offset="0.000" stop-color="#4db2ff"/><stop offset="0.200" stop-color="#32cdff"/><stop offset="0.400" stop-color="#0ef1ff"/><stop offset="0.457" stop-color="#00ffff"/><stop offset="0.600" stop-color="#00ffff"/><stop offset="0.800" stop-color="#00ffff"/><stop offset="1.000" stop-color="#00ffff"/></linearGradient><linearGradient id="b138" x1="0" y1="0" x2="0" y2="1"><stop offset="0.000" stop-color="#4bb4ff"/><stop offset="0.200" stop-color="#2fd0ff"/><stop offset="0.400" stop-color="#0af5ff"/><stop offset="0.441" stop-color="#00ffff"/><stop offset="0.600" stop-color="#00ffff"/><stop offset="0.800" stop-color="#00ffff"/><stop offset="1.000" stop-color="#00ffff"/></linearGradient><linearGradient id="b139" x1="0" y1="0" x2="0" y2="1"><stop offset="0.000" stop-color="#48b7ff"/><stop offset="0.200" stop-color="#2cd3ff"/><stop offset="0.400" stop-color="#06f9ff"/><stop offset="0.426" stop-color="#00ffff"/><stop offset="0.600" stop-color="#00ffff"/><stop offset="0.800" stop-color="#00ffff"/><stop offset="1.000" stop-color="#00ffff"/></linearGradient><linearGradient id="b140" x1="0" y1="0" x2="0" y2="1"><stop offset="0.000" stop-color="#45baff"/><stop offset="0.200" stop-color="#29d6ff"/><stop offset="0.400" stop-color="#03fcff"/><stop offset="0.411" stop-color="#00ffff"/><stop offset="0.600" stop-color="#00ffff"/><stop offset="0.800" stop-color="#00ffff"/><stop offset="0.986" stop-color="#00ffff"/><stop offset="1.000" stop-color="#06f9ff"/></linearGradient><linearGradient id="b141" x1="0" y1="0" x2="0" y2="1"><stop offset="0.000" stop-color="#43bcff"/><stop offset="0.200" stop-color="#26d9ff"/><stop offset="0.394" stop-color="#00ffff"/><stop offset="0.400" stop-color="#00ffff"/><stop offset="0.600" stop-color="#00ffff"/><stop offset="0.800" stop-color="#00ffff"/><stop offset="0.969" stop-color="#00ffff"/><stop offset="1.000" stop-color="#0ff0ff"/></linearGradient><linearGradient id="b142" x1="0" y1="0" x2="0" y2="1"><stop offset="0.000" stop-color="#40bfff"/><stop offset="0.200" stop-color="#23dcff"/><stop offset="0.375" stop-color="#00ffff"/><stop offset="0.400" stop-color="#00ffff"/><stop offset="0.600" stop-color="#00ffff"/><stop offset="0.800" stop-color="#00ffff"/><stop offset="0.957" stop-color="#00ffff"/><stop offset="1.000" stop-color="#19e6ff"/></linearGradient><linearGradient id="b143" x1="0" y1="0" x2="0" y2="1"><stop offset="0.000" stop-color="#3dc2ff"/><stop offset="0.200" stop-color="#20dfff"/><stop offset="0.357" stop-color="#00ffff"/><stop offset="0.400" stop-color="#00ffff"/><stop offset="0.600" stop-color="#00ffff"/><stop offset="0.800" stop-color="#00ffff"/><stop offset="0.947" stop-color="#00ffff"/><stop offset="1.000" stop-color="#21deff"/></linearGradient><linearGradient id="b144" x1="0" y1="0" x2="0" y2="1"><stop offset="0.000" stop-color="#3ac5ff"/><stop offset="0.200" stop-color="#1de2ff"/><stop offset="0.339" stop-color="#00ffff"/><stop offset="0.400" stop-color="#00ffff"/><stop offset="0.600" stop-color="#00ffff"/><stop offset="0.800" stop-color="#00ffff"/><stop offset="0.940" stop-color="#00ffff"/><stop offset="1.000" stop-color="#2ad5ff"/></linearGradient><linearGradient id="b145" x1="0" y1="0" x2="0" y2="1"><stop offset="0.000" stop-color="#37c8ff"/><stop offset="0.200" stop-color="#19e6ff"/><stop offset="0.321" stop-color="#00ffff"/><stop offset="0.400" stop-color="#00ffff"/><stop offset="0.600" stop-color="#00ffff"/><stop offset="0.800" stop-color="#00ffff"/><stop offset="0.933" stop-color="#00ffff"/><stop offset="1.000" stop-color="#33ccff"/></linearGradient><linearGradient id="b146" x1="0" y1="0" x2="0" y2="1"><stop offset="0.000" stop-color="#34cbff"/><stop offset="0.200" stop-color="#16e9ff"/><stop offset="0.303" stop-color="#00ffff"/><stop offset="0.400" stop-color="#00ffff"/><stop offset="0.600" stop-color="#00ffff"/><stop offset="0.800" stop-color="#00ffff"/><stop offset="0.928" stop-color="#00ffff"/><stop offset="1.000" stop-color="#3bc4ff"/></linearGradient><linearGradient id="b147" x1="0" y1="0" x2="0" y2="1"><stop offset="0.000" stop-color="#31ceff"/><stop offset="0.200" stop-color="#13ecff"/><stop offset="0.286" stop-color="#00ffff"/><stop offset="0.400" stop-color="#00ffff"/><stop offset="0.600" stop-color="#00ffff"/><stop offset="0.800" stop-color="#00ffff"/><stop offset="0.923" stop-color="#00ffff"/><stop offset="1.000" stop-color="#44bbff"/></linearGradient><linearGradient id="b148" x1="0" y1="0" x2="0" y2="1"><stop offset="0.000" stop-color="#2ed1ff"/><stop offset="0.200" stop-color="#0ff0ff"/><stop offset="0.269" stop-color="#00ffff"/><stop offset="0.400" stop-color="#00ffff"/><stop offset="0.600" stop-color="#00ffff"/><stop offset="0.800" stop-color="#00ffff"/><stop offset="0.919" stop-color="#00ffff"/><stop offset="1.000" stop-color="#4cb3ff"/></linearGradient><linearGradient id="b149" x1="0" y1="0" x2="0" y2="1"><stop offset="0.000" stop-color="#2bd4ff"/><stop offset="0.200" stop-color="#0cf3ff"/><stop offset="0.252" stop-color="#00ffff"/><stop offset="0.400" stop-color="#00ffff"/><stop offset="0.600" stop-color="#00ffff"/><stop offset="0.800" stop-color="#00ffff"/><stop offset="0.916" stop-color="#00ffff"/><stop offset="1.000" stop-color="#55aaff"/></linearGradient><linearGradient id="b150" x1="0" y1="0" x2="0" y2="1"><stop offset="0.000" stop-color="#28d7ff"/><stop offset="0.200" stop-color="#08f7ff"/><stop offset="0.236" stop-color="#00ffff"/><stop offset="0.400" stop-color="#00ffff"/><stop offset="0.600" stop-color="#00ffff"/><stop offset="0.800" stop-color="#00ffff"/><stop offset="0.913" stop-color="#00ffff"/><stop offset="1.000" stop-color="#5da2ff"/></linearGradient><linearGradient id="b151" x1="0" y1="0" x2="0" y2="1"><stop offset="0.000" stop-color="#25daff"/><stop offset="0.200" stop-color="#05faff"/><stop offset="0.220" stop-color="#00ffff"/><stop offset="0.400" stop-color="#00ffff"/><stop offset="0.600" stop-color="#00ffff"/><stop offset="0.800" stop-color="#00ffff"/><stop offset="0.910" stop-color="#00ffff"/><stop offset="1.000" stop-color="#659aff"/></linearGradient><linearGradient id="b152" x1="0" y1="0" x2="0" y2="1"><stop offset="0.000" stop-color="#22ddff"/><stop offset="0.200" stop-color="#01feff"/><stop offset="0.204" stop-color="#00ffff"/><stop offset="0.400" stop-color="#00ffff"/><stop offset="0.600" stop-color="#00ffff"/><stop offset="0.800" stop-color="#00ffff"/><stop offset="0.907" stop-color="#00ffff"/><stop offset="1.000" stop-color="#6d92ff"/></linearGradient><linearGradient id="b153" x1="0" y1="0" x2="0" y2="1"><stop offset="0.000" stop-color="#1ee1ff"/><stop offset="0.184" stop-color="#00ffff"/><stop offset="0.200" stop-color="#00ffff"/><stop offset="0.400" stop-color="#00ffff"/><stop offset="0.600" stop-color="#00ffff"/><stop offset="0.800" stop-color="#00ffff"/><stop offset="0.905" stop-color="#00ffff"/><stop offset="1.000" stop-color="#758aff"/></linearGradient><linearGradient id="b154" x1="0" y1="0" x2="0" y2="1"><stop offset="0.000" stop-color="#1be4ff"/><stop offset="0.162" stop-color="#00ffff"/><stop offset="0.200" stop-color="#00ffff"/><stop offset="0.400" stop-color="#00ffff"/><stop offset="0.600" stop-color="#00ffff"/><stop offset="0.800" stop-color="#00ffff"/><stop offset="0.903" stop-color="#00ffff"/><stop offset="1.000" stop-color="#7c83ff"/></linearGradient><linearGradient id="b155" x1="0" y1="0" x2="0" y2="1"><stop offset="0.000" stop-color="#18e7ff"/><stop offset="0.140" stop-color="#00ffff"/><stop offset="0.200" stop-color="#00ffff"/><stop offset="0.400" stop-color="#00ffff"/><stop offset="0.600" stop-color="#00ffff"/><stop offset="0.800" stop-color="#00ffff"/><stop offset="0.901" stop-color="#00ffff"/><stop offset="1.000" stop-color="#837cff"/></linearGradient><linearGradient id="b156" x1="0" y1="0" x2="0" y2="1"><stop offset="0.000" stop-color="#14ebff"/><stop offset="0.119" stop-color="#00ffff"/><stop offset="0.200" stop-color="#00ffff"/><stop offset="0.400" stop-color="#00ffff"/><stop offset="0.600" stop-color="#00ffff"/><stop offset="0.800" stop-color="#00ffff"/><stop offset="0.900" stop-color="#00ffff"/><stop offset="1.000" stop-color="#8a75ff"/></linearGradient><linearGradient id="b157" x1="0" y1="0" x2="0" y2="1"><stop offset="0.000" stop-color="#11eeff"/><stop offset="0.097" stop-color="#00ffff"/><stop offset="0.200" stop-color="#00ffff"/><stop offset="0.400" stop-color="#00ffff"/><stop offset="0.600" stop-color="#00ffff"/><stop offset="0.800" stop-color="#00ffff"/><stop offset="0.898" stop-color="#00ffff"/><stop offset="1.000" stop-color="#906fff"/></linearGradient><linearGradient id="b158" x1="0" y1="0" x2="0" y2="1"><stop offset="0.000" stop-color="#0df2ff"/><stop offset="0.076" stop-color="#00ffff"/><stop offset="0.200" stop-color="#00ffff"/><stop offset="0.400" stop-color="#00ffff"/><stop offset="0.600" stop-color="#00ffff"/><stop offset="0.800" stop-color="#00ffff"/><stop offset="0.897" stop-color="#00ffff"/><stop offset="1.000" stop-color="#9669ff"/></linearGradient><linearGradient id="b159" x1="0" y1="0" x2="0" y2="1"><stop offset="0.000" stop-color="#0af5ff"/><stop offset="0.055" stop-color="#00ffff"/><stop offset="0.200" stop-color="#00ffff"/><stop offset="0.400" stop-color="#00ffff"/><stop offset="0.600" stop-color="#00ffff"/><stop offset="0.800" stop-color="#00ffff"/><stop offset="0.896" stop-color="#00ffff"/><stop offset="1.000" stop-color="#9c63ff"/></linearGradient><linearGradient id="b160" x1="0" y1="0" x2="0" y2="1"><stop offset="0.000" stop-color="#06f9ff"/><stop offset="0.035" stop-color="#00ffff"/><stop offset="0.200" stop-color="#00ffff"/><stop offset="0.400" stop-color="#00ffff"/><stop offset="0.600" stop-color="#00ffff"/><stop offset="0.800" stop-color="#00ffff"/><stop offset="0.895" stop-color="#00ffff"/><stop offset="1.000" stop-color="#a15eff"/></linearGradient><linearGradient id="b161" x1="0" y1="0" x2="0" y2="1"><stop offset="0.000" stop-color="#03fcff"/><stop offset="0.014" stop-color="#00ffff"/><stop offset="0.200" stop-color="#00ffff"/><stop offset="0.400" stop-color="#00ffff"/><stop offset="0.600" stop-color="#00ffff"/><stop offset="0.800" stop-color="#00ffff"/><stop offset="0.894" stop-color="#00ffff"/><stop offset="1.000" stop-color="#a659ff"/></linearGradient><linearGradient id="b162" x1="0" y1="0" x2="0" y2="1"><stop offset="0.000" stop-color="#00ffff"/><stop offset="0.200" stop-color="#00ffff"/><stop offset="0.400" stop-color="#00ffff"/><stop offset="0.600" stop-color="#00ffff"/><stop offset="0.800" stop-color="#00ffff"/><stop offset="0.893" stop-color="#00ffff"/><stop offset="1.000" stop-color="#aa55ff"/></linearGradient><linearGradient id="b163" x1="0" y1="0" x2="0" y2="1"><stop offset="0.000" stop-color="#00ffff"/><stop offset="0.200" stop-color="#00ffff"/><stop offset="0.400" stop-color="#00ffff"/><stop offset="0.600" stop-color="#00ffff"/><stop offset="0.800" stop-color="#00ffff"/><stop offset="0.892" stop-color="#00ffff"/><stop offset="1.000" stop-color="#ae51ff"/></linearGradient><linearGradient id="b164" x1="0" y1="0" x2="0" y2="1"><stop offset="0.000" stop-color="#00ffff"/><stop offset="0.200" stop-color="#00ffff"/><stop offset="0.400" stop-color="#00ffff"/><stop offset="0.600" stop-color="#00ffff"/><stop offset="0.800" stop-color="#00ffff"/><stop offset="0.891" stop-color="#00ffff"/><stop offset="1.000" stop-color="#b24dff"/></linearGradient><linearGradient id="b165" x1="0" y1="0" x2="0" y2="1"><stop offset="0.000" stop-color="#00ffff"/><stop offset="0.200" stop-color="#00ffff"/><stop offset="0.400" stop-color="#00ffff"/><stop offset="0.600" stop-color="#00ffff"/><stop offset="0.800" stop-color="#00ffff"/><stop offset="0.890" stop-color="#00ffff"/><stop offset="1.000" stop-color="#b54aff"/></linearGradient><linearGradient id="b166" x1="0" y1="0" x2="0" y2="1"><stop offset="0.000" stop-color="#00ffff"/><stop offset="0.200" stop-color="#00ffff"/><stop offset="0.400" stop-color="#00ffff"/><stop offset="0.600" stop-color="#00ffff"/><stop offset="0.800" stop-color="#00ffff"/><stop offset="0.889" stop-color="#00ffff"/><stop offset="1.000" stop-color="#b847ff"/></linearGradient><linearGradient id="b167" x1="0" y1="0" x2="0" y2="1"><stop offset="0.000" stop-color="#00ffff"/><stop offset="0.200" stop-color="#00ffff"/><stop offset="0.400" stop-color="#00ffff"/><stop offset="0.600" stop-color="#00ffff"/><stop offset="0.800" stop-color="#00ffff"/><stop offset="0.888" stop-color="#00ffff"/><stop offset="1.000" stop-color="#bb44ff"/></linearGradient><linearGradient id="b168" x1="0" y1="0" x2="0" y2="1"><stop offset="0.000" stop-color="#00ffff"/><stop offset="0.200" stop-color="#00ffff"/><stop offset="0.400" stop-color="#00ffff"/><stop offset="0.600" stop-color="#00ffff"/><stop offset="0.800" stop-color="#00ffff"/><stop offset="0.887" stop-color="#00ffff"/><stop offset="1.000" stop-color="#be41ff"/></linearGradient><linearGradient id="b169" x1="0" y1="0" x2="0" y2="1"><stop offset="0.000" stop-color="#00ffff"/><stop offset="0.200" stop-color="#00ffff"/><stop offset="0.400" stop-color="#00ffff"/><stop offset="0.600" stop-color="#00ffff"/><stop offset="0.800" stop-color="#00ffff"/><stop offset="0.885" stop-color="#00ffff"/><stop offset="1.000" stop-color="#c03fff"/></linearGradient><linearGradient id="b170" x1="0" y1="0" x2="0" y2="1"><stop offset="0.000" stop-color="#00ffff"/><stop offset="0.200" stop-color="#00ffff"/><stop offset="0.400" stop-color="#00ffff"/><stop offset="0.600" stop-color="#00ffff"/><stop offset="0.800" stop-color="#00ffff"/><stop offset="0.884" stop-color="#00ffff"/><stop offset="1.000" stop-color="#c23dff"/></linearGradient><linearGradient id="b171" x1="0" y1="0" x2="0" y2="1"><stop offset="0.000" stop-color="#00ffff"/><stop offset="0.200" stop-color="#00ffff"/><stop offset="0.400" stop-color="#00ffff"/><stop offset="0.600" stop-color="#00ffff"/><stop offset="0.800" stop-color="#00ffff"/><stop offset="0.883" stop-color="#00ffff"/><stop offset="1.000" stop-color="#c43bff"/></linearGradient><linearGradient id="b172" x1="0" y1="0" x2="0" y2="1"><stop offset="0.000" stop-color="#00ffff"/><stop offset="0.200" stop-color="#00ffff"/><stop offset="0.400" stop-color="#00ffff"/><stop offset="0.600" stop-color="#00ffff"/><stop offset="0.800" stop-color="#00ffff"/><stop offset="0.881" stop-color="#00ffff"/><stop offset="1.000" stop-color="#c639ff"/></linearGradient><linearGradient id="b173" x1="0" y1="0" x2="0" y2="1"><stop offset="0.000" stop-color="#00ffff"/><stop offset="0.200" stop-color="#00ffff"/><stop offset="0.400" stop-color="#00ffff"/><stop offset="0.600" stop-color="#00ffff"/><stop offset="0.800" stop-color="#00ffff"/><stop offset="0.880" stop-color="#00ffff"/><stop offset="1.000" stop-color="#c837ff"/></linearGradient><linearGradient id="b174" x1="0" y1="0" x2="0" y2="1"><stop offset="0.000" stop-color="#00ffff"/><stop offset="0.200" stop-color="#00ffff"/><stop offset="0.400" stop-color="#00ffff"/><stop offset="0.600" stop-color="#00ffff"/><stop offset="0.800" stop-color="#00ffff"/><stop offset="0.878" stop-color="#00ffff"/><stop offset="1.000" stop-color="#c936ff"/></linearGradient><linearGradient id="b175" x1="0" y1="0" x2="0" y2="1"><stop offset="0.000" stop-color="#00ffff"/><stop offset="0.200" stop-color="#00ffff"/><stop offset="0.400" stop-color="#00ffff"/><stop offset="0.600" stop-color="#00ffff"/><stop offset="0.800" stop-color="#00ffff"/><stop offset="0.876" stop-color="#00ffff"/><stop offset="1.000" stop-color="#ca35ff"/></linearGradient><linearGradient id="b176" x1="0" y1="0" x2="0" y2="1"><stop offset="0.000" stop-color="#00ffff"/><stop offset="0.200" stop-color="#00ffff"/><stop offset="0.400" stop-color="#00ffff"/><stop offset="0.600" stop-color="#00ffff"/><stop offset="0.800" stop-color="#00ffff"/><stop offset="0.874" stop-color="#00ffff"/><stop offset="1.000" stop-color="#cc33ff"/></linearGradient><linearGradient id="b177" x1="0" y1="0" x2="0" y2="1"><stop offset="0.000" stop-color="#00ffff"/><stop offset="0.200" stop-color="#00ffff"/><stop offset="0.400" stop-color="#00ffff"/><stop offset="0.600" stop-color="#00ffff"/><stop offset="0.800" stop-color="#00ffff"/><stop offset="0.872" stop-color="#00ffff"/><stop offset="1.000" stop-color="#cd32ff"/></linearGradient><linearGradient id="b178" x1="0" y1="0" x2="0" y2="1"><stop offset="0.000" stop-color="#00ffff"/><stop offset="0.200" stop-color="#00ffff"/><stop offset="0.400" stop-color="#00ffff"/><stop offset="0.600" stop-color="#00ffff"/><stop offset="0.800" stop-color="#00ffff"/><stop offset="0.870" stop-color="#00ffff"/><stop offset="1.000" stop-color="#ce31ff"/></linearGradient><linearGradient id="b179" x1="0" y1="0" x2="0" y2="1"><stop offset="0.000" stop-color="#00ffff"/><stop offset="0.200" stop-color="#00ffff"/><stop offset="0.400" stop-color="#00ffff"/><stop offset="0.600" stop-color="#00ffff"/><stop offset="0.800" stop-color="#00ffff"/><stop offset="0.868" stop-color="#00ffff"/><stop offset="1.000" stop-color="#cf30ff"/></linearGradient><linearGradient id="b180" x1="0" y1="0" x2="0" y2="1"><stop offset="0.000" stop-color="#00ffff"/><stop offset="0.200" stop-color="#00ffff"/><stop offset="0.400" stop-color="#00ffff"/><stop offset="0.600" stop-color="#00ffff"/><stop offset="0.800" stop-color="#00ffff"/><stop offset="0.865" stop-color="#00ffff"/><stop offset="1.000" stop-color="#cf30ff"/></linearGradient><linearGradient id="b181" x1="0" y1="0" x2="0" y2="1"><stop offset="0.000" stop-color="#00ffff"/><stop offset="0.200" stop-color="#00ffff"/><stop offset="0.400" stop-color="#00ffff"/><stop offset="0.600" stop-color="#00ffff"/><stop offset="0.800" stop-color="#00ffff"/><stop offset="0.862" stop-color="#00ffff"/><stop offset="1.000" stop-color="#d02fff"/></linearGradient><linearGradient id="b182" x1="0" y1="0" x2="0" y2="1"><stop offset="0.000" stop-color="#00ffff"/><stop offset="0.200" stop-color="#00ffff"/><stop offset="0.400" stop-color="#00ffff"/><stop offset="0.600" stop-color="#00ffff"/><stop offset="0.800" stop-color="#00ffff"/><stop offset="0.859" stop-color="#00ffff"/><stop offset="1.000" stop-color="#d12eff"/></linearGradient><linearGradient id="b183" x1="0" y1="0" x2="0" y2="1"><stop offset="0.000" stop-color="#00ffff"/><stop offset="0.200" stop-color="#00ffff"/><stop offset="0.400" stop-color="#00ffff"/><stop offset="0.600" stop-color="#00ffff"/><stop offset="0.800" stop-color="#00ffff"/><stop offset="0.856" stop-color="#00ffff"/><stop offset="1.000" stop-color="#d12eff"/></linearGradient><linearGradient id="b184" x1="0" y1="0" x2="0" y2="1"><stop offset="0.000" stop-color="#00ffff"/><stop offset="0.200" stop-color="#00ffff"/><stop offset="0.400" stop-color="#00ffff"/><stop offset="0.600" stop-color="#00ffff"/><stop offset="0.800" stop-color="#00ffff"/><stop offset="0.852" stop-color="#00ffff"/><stop offset="1.000" stop-color="#d22dff"/></linearGradient><linearGradient id="b185" x1="0" y1="0" x2="0" y2="1"><stop offset="0.000" stop-color="#00ffff"/><stop offset="0.200" stop-color="#00ffff"/><stop offset="0.400" stop-color="#00ffff"/><stop offset="0.600" stop-color="#00ffff"/><stop offset="0.800" stop-color="#00ffff"/><stop offset="0.848" stop-color="#00ffff"/><stop offset="1.000" stop-color="#d22dff"/></linearGradient><linearGradient id="b186" x1="0" y1="0" x2="0" y2="1"><stop offset="0.000" stop-color="#00ffff"/><stop offset="0.200" stop-color="#00ffff"/><stop offset="0.400" stop-color="#00ffff"/><stop offset="0.600" stop-color="#00ffff"/><stop offset="0.800" stop-color="#00ffff"/><stop offset="0.844" stop-color="#00ffff"/><stop offset="1.000" stop-color="#d32cff"/></linearGradient><linearGradient id="b187" x1="0" y1="0" x2="0" y2="1"><stop offset="0.000" stop-color="#00ffff"/><stop offset="0.200" stop-color="#00ffff"/><stop offset="0.400" stop-color="#00ffff"/><stop offset="0.600" stop-color="#00ffff"/><stop offset="0.800" stop-color="#00ffff"/><stop offset="0.840" stop-color="#00ffff"/><stop offset="1.000" stop-color="#d32cff"/></linearGradient><linearGradient id="b188" x1="0" y1="0" x2="0" y2="1"><stop offset="0.000" stop-color="#00ffff"/><stop offset="0.200" stop-color="#00ffff"/><stop offset="0.400" stop-color="#00ffff"/><stop offset="0.600" stop-color="#00ffff"/><stop offset="0.800" stop-color="#00ffff"/><stop offset="0.835" stop-color="#00ffff"/><stop offset="1.000" stop-color="#d32cff"/></linearGradient><linearGradient id="b189" x1="0" y1="0" x2="0" y2="1"><stop offset="0.000" stop-color="#00ffff"/><stop offset="0.200" stop-color="#00ffff"/><stop offset="0.400" stop-color="#00ffff"/><stop offset="0.600" stop-color="#00ffff"/><stop offset="0.800" stop-color="#00ffff"/><stop offset="0.830" stop-color="#00ffff"/><stop offset="1.000" stop-color="#d32cff"/></linearGradient><linearGradient id="b190" x1="0" y1="0" x2="0" y2="1"><stop offset="0.000" stop-color="#00ffff"/><stop offset="0.200" stop-color="#00ffff"/><stop offset="0.400" stop-color="#00ffff"/><stop offset="0.600" stop-color="#00ffff"/><stop offset="0.800" stop-color="#00ffff"/><stop offset="0.825" stop-color="#00ffff"/><stop offset="1.000" stop-color="#d32cff"/></linearGradient><linearGradient id="b191" x1="0" y1="0" x2="0" y2="1"><stop offset="0.000" stop-color="#00ffff"/><stop offset="0.200" stop-color="#00ffff"/><stop offset="0.400" stop-color="#00ffff"/><stop offset="0.600" stop-color="#00ffff"/><stop offset="0.800" stop-color="#00ffff"/><stop offset="0.819" stop-color="#00ffff"/><stop offset="1.000" stop-color="#d32cff"/></linearGradient><linearGradient id="b192" x1="0" y1="0" x2="0" y2="1"><stop offset="0.000" stop-color="#00ffff"/><stop offset="0.200" stop-color="#00ffff"/><stop offset="0.400" stop-color="#00ffff"/><stop offset="0.600" stop-color="#00ffff"/><stop offset="0.800" stop-color="#00ffff"/><stop offset="0.813" stop-color="#00ffff"/><stop offset="1.000" stop-color="#d32cff"/></linearGradient><linearGradient id="b193" x1="0" y1="0" x2="0" y2="1"><stop offset="0.000" stop-color="#00ffff"/><stop offset="0.200" stop-color="#00ffff"/><stop offset="0.400" stop-color="#00ffff"/><stop offset="0.600" stop-color="#00ffff"/><stop offset="0.800" stop-color="#00ffff"/><stop offset="0.807" stop-color="#00ffff"/><stop offset="1.000" stop-color="#d32cff"/></linearGradient><linearGradient id="b194" x1="0" y1="0" x2="0" y2="1"><stop offset="0.000" stop-color="#00ffff"/><stop offset="0.200" stop-color="#00ffff"/><stop offset="0.400" stop-color="#00ffff"/><stop offset="0.600" stop-color="#00ffff"/><stop offset="0.799" stop-color="#00ffff"/><stop offset="0.800" stop-color="#00ffff"/><stop offset="1.000" stop-color="#d32cff"/></linearGradient><linearGradient id="b195" x1="0" y1="0" x2="0" y2="1"><stop offset="0.000" stop-color="#00ffff"/><stop offset="0.200" stop-color="#00ffff"/><stop offset="0.400" stop-color="#00ffff"/><stop offset="0.600" stop-color="#00ffff"/><stop offset="0.764" stop-color="#00ffff"/><stop offset="0.800" stop-color="#08f7ff"/><stop offset="1.000" stop-color="#d32cff"/></linearGradient><linearGradient id="b196" x1="0" y1="0" x2="0" y2="1"><stop offset="0.000" stop-color="#00ffff"/><stop offset="0.200" stop-color="#00ffff"/><stop offset="0.400" stop-color="#00ffff"/><stop offset="0.600" stop-color="#00ffff"/><stop offset="0.730" stop-color="#00ffff"/><stop offset="0.800" stop-color="#10efff"/><stop offset="1.000" stop-color="#d32cff"/></linearGradient><linearGradient id="b197" x1="0" y1="0" x2="0" y2="1"><stop offset="0.000" stop-color="#00ffff"/><stop offset="0.200" stop-color="#00ffff"/><stop offset="0.400" stop-color="#00ffff"/><stop offset="0.600" stop-color="#00ffff"/><stop offset="0.696" stop-color="#00ffff"/><stop offset="0.800" stop-color="#17e8ff"/><stop offset="1.000" stop-color="#d22dff"/></linearGradient><linearGradient id="b198" x1="0" y1="0" x2="0" y2="1"><stop offset="0.000" stop-color="#00ffff"/><stop offset="0.200" stop-color="#00ffff"/><stop offset="0.400" stop-color="#00ffff"/><stop offset="0.600" stop-color="#00ffff"/><stop offset="0.662" stop-color="#00ffff"/><stop offset="0.800" stop-color="#1fe0ff"/><stop offset="1.000" stop-color="#d22dff"/></linearGradient><linearGradient id="b199" x1="0" y1="0" x2="0" y2="1"><stop offset="0.000" stop-color="#00ffff"/><stop offset="0.200" stop-color="#00ffff"/><stop offset="0.400" stop-color="#00ffff"/><stop offset="0.600" stop-color="#00ffff"/><stop offset="0.628" stop-color="#00ffff"/><stop offset="0.800" stop-color="#26d9ff"/><stop offset="1.000" stop-color="#d22dff"/></linearGradient><linearGradient id="b200" x1="0" y1="0" x2="0" y2="1"><stop offset="0.000" stop-color="#00ffff"/><stop offset="0.200" stop-color="#00ffff"/><stop offset="0.400" stop-color="#00ffff"/><stop offset="0.597" stop-color="#00ffff"/><stop offset="0.600" stop-color="#01feff"/><stop offset="0.800" stop-color="#2dd2ff"/><stop offset="1.000" stop-color="#d12eff"/></linearGradient><linearGradient id="b201" x1="0" y1="0" x2="0" y2="1"><stop offset="0.000" stop-color="#00ffff"/><stop offset="0.200" stop-color="#00ffff"/><stop offset="0.400" stop-color="#00ffff"/><stop offset="0.583" stop-color="#00ffff"/><stop offset="0.600" stop-color="#09f6ff"/><stop offset="0.800" stop-color="#34cbff"/><stop offset="1.000" stop-color="#d12eff"/></linearGradient><linearGradient id="b202" x1="0" y1="0" x2="0" y2="1"><stop offset="0.000" stop-color="#00ffff"/><stop offset="0.200" stop-color="#00ffff"/><stop offset="0.400" stop-color="#00ffff"/><stop offset="0.569" stop-color="#00ffff"/><stop offset="0.600" stop-color="#10efff"/><stop offset="0.800" stop-color="#3bc4ff"/><stop offset="1.000" stop-color="#d02fff"/></linearGradient><linearGradient id="b203" x1="0" y1="0" x2="0" y2="1"><stop offset="0.000" stop-color="#00ffff"/><stop offset="0.200" stop-color="#00ffff"/><stop offset="0.400" stop-color="#00ffff"/><stop offset="0.556" stop-color="#00ffff"/><stop offset="0.600" stop-color="#18e7ff"/><stop offset="0.800" stop-color="#42bdff"/><stop offset="1.000" stop-color="#d02fff"/></linearGradient><linearGradient id="b204" x1="0" y1="0" x2="0" y2="1"><stop offset="0.000" stop-color="#00ffff"/><stop offset="0.200" stop-color="#00ffff"/><stop offset="0.400" stop-color="#00ffff"/><stop offset="0.543" stop-color="#00ffff"/><stop offset="0.600" stop-color="#1fe0ff"/><stop offset="0.800" stop-color="#49b6ff"/><stop offset="1.000" stop-color="#cf30ff"/></linearGradient><linearGradient id="b205" x1="0" y1="0" x2="0" y2="1"><stop offset="0.000" stop-color="#00ffff"/><stop offset="0.200" stop-color="#00ffff"/><stop offset="0.400" stop-color="#00ffff"/><stop offset="0.531" stop-color="#00ffff"/><stop offset="0.600" stop-color="#26d9ff"/><stop offset="0.800" stop-color="#4fb0ff"/><stop offset="1.000" stop-color="#cf30ff"/></linearGradient><linearGradient id="b206" x1="0" y1="0" x2="0" y2="1"><stop offset="0.000" stop-color="#00ffff"/><stop offset="0.200" stop-color="#00ffff"/><stop offset="0.400" stop-color="#00ffff"/><stop offset="0.518" stop-color="#00ffff"/><stop offset="0.600" stop-color="#2ed1ff"/><stop offset="0.800" stop-color="#55aaff"/><stop offset="1.000" stop-color="#ce31ff"/></linearGradient><linearGradient id="b207" x1="0" y1="0" x2="0" y2="1"><stop offset="0.000" stop-color="#00ffff"/><stop offset="0.200" stop-color="#00ffff"/><stop offset="0.400" stop-color="#00ffff"/><stop offset="0.506" stop-color="#00ffff"/><stop offset="0.600" stop-color="#35caff"/><stop offset="0.800" stop-color="#5ba4ff"/><stop offset="1.000" stop-color="#cd32ff"/></linearGradient><linearGradient id="b208" x1="0" y1="0" x2="0" y2="1"><stop offset="0.000" stop-color="#00ffff"/><stop offset="0.200" stop-color="#00ffff"/><stop offset="0.400" stop-color="#00ffff"/><stop offset="0.494" stop-color="#00ffff"/><stop offset="0.600" stop-color="#3cc3ff"/><stop offset="0.800" stop-color="#619eff"/><stop offset="1.000" stop-color="#cd32ff"/></linearGradient><linearGradient id="b209" x1="0" y1="0" x2="0" y2="1"><stop offset="0.000" stop-color="#00ffff"/><stop offset="0.200" stop-color="#00ffff"/><stop offset="0.400" stop-color="#00ffff"/><stop offset="0.482" stop-color="#00ffff"/><stop offset="0.600" stop-color="#42bdff"/><stop offset="0.800" stop-color="#6798ff"/><stop offset="1.000" stop-color="#cc33ff"/></linearGradient><linearGradient id="b210" x1="0" y1="0" x2="0" y2="1"><stop offset="0.000" stop-color="#00ffff"/><stop offset="0.200" stop-color="#00ffff"/><stop offset="0.400" stop-color="#00ffff"/><stop offset="0.470" stop-color="#00ffff"/><stop offset="0.600" stop-color="#49b6ff"/><stop offset="0.800" stop-color="#6d92ff"/><stop offset="1.000" stop-color="#cc33ff"/></linearGradient><linearGradient id="b211" x1="0" y1="0" x2="0" y2="1"><stop offset="0.000" stop-color="#00ffff"/><stop offset="0.200" stop-color="#00ffff"/><stop offset="0.400" stop-color="#00ffff"/><stop offset="0.457" stop-color="#00ffff"/><stop offset="0.600" stop-color="#50afff"/><stop offset="0.800" stop-color="#728dff"/><stop offset="1.000" stop-color="#cb34ff"/></linearGradient><linearGradient id="b212" x1="0" y1="0" x2="0" y2="1"><stop offset="0.000" stop-color="#00ffff"/><stop offset="0.200" stop-color="#00ffff"/><stop offset="0.400" stop-color="#00ffff"/><stop offset="0.445" stop-color="#00ffff"/><stop offset="0.600" stop-color="#56a9ff"/><stop offset="0.800" stop-color="#7788ff"/><stop offset="1.000" stop-color="#ca35ff"/></linearGradient><linearGradient id="b213" x1="0" y1="0" x2="0" y2="1"><stop offset="0.000" stop-color="#00ffff"/><stop offset="0.200" stop-color="#00ffff"/><stop offset="0.400" stop-color="#00ffff"/><stop offset="0.432" stop-color="#00ffff"/><stop offset="0.600" stop-color="#5ca3ff"/><stop offset="0.800" stop-color="#7c83ff"/><stop offset="1.000" stop-color="#c936ff"/></linearGradient><linearGradient id="b214" x1="0" y1="0" x2="0" y2="1"><stop offset="0.000" stop-color="#00ffff"/><stop offset="0.200" stop-color="#00ffff"/><stop offset="0.400" stop-color="#00ffff"/><stop offset="0.420" stop-color="#00ffff"/><stop offset="0.600" stop-color="#629dff"/><stop offset="0.800" stop-color="#817eff"/><stop offset="1.000" stop-color="#c837ff"/></linearGradient><linearGradient id="b215" x1="0" y1="0" x2="0" y2="1"><stop offset="0.000" stop-color="#00ffff"/><stop offset="0.200" stop-color="#00ffff"/><stop offset="0.400" stop-color="#00ffff"/><stop offset="0.407" stop-color="#00ffff"/><stop offset="0.600" stop-color="#6897ff"/><stop offset="0.800" stop-color="#8679ff"/><stop offset="1.000" stop-color="#c837ff"/></linearGradient><linearGradient id="b216" x1="0" y1="0" x2="0" y2="1"><stop offset="0.000" stop-color="#00ffff"/><stop offset="0.200" stop-color="#00ffff"/><stop offset="0.391" stop-color="#00ffff"/><stop offset="0.400" stop-color="#04fbff"/><stop offset="0.600" stop-color="#6e91ff"/><stop offset="0.800" stop-color="#8b74ff"/><stop offset="1.000" stop-color="#c738ff"/></linearGradient><linearGradient id="b217" x1="0" y1="0" x2="0" y2="1"><stop offset="0.000" stop-color="#00ffff"/><stop offset="0.200" stop-color="#00ffff"/><stop offset="0.374" stop-color="#00ffff"/><stop offset="0.400" stop-color="#0bf4ff"/><stop offset="0.600" stop-color="#738cff"/><stop offset="0.800" stop-color="#8f70ff"/><stop offset="1.000" stop-color="#c639ff"/></linearGradient><linearGradient id="b218" x1="0" y1="0" x2="0" y2="1"><stop offset="0.000" stop-color="#00ffff"/><stop offset="0.200" stop-color="#00ffff"/><stop offset="0.357" stop-color="#00ffff"/><stop offset="0.400" stop-color="#12edff"/><stop offset="0.600" stop-color="#7986ff"/><stop offset="0.800" stop-color="#936cff"/><stop offset="1.000" stop-color="#c43bff"/></linearGradient><linearGradient id="b219" x1="0" y1="0" x2="0" y2="1"><stop offset="0.000" stop-color="#00ffff"/><stop offset="0.200" stop-color="#00ffff"/><stop offset="0.340" stop-color="#00ffff"/><stop offset="0.400" stop-color="#19e6ff"/><stop offset="0.600" stop-color="#7e81ff"/><stop offset="0.800" stop-color="#9768ff"/><stop offset="1.000" stop-color="#c33cff"/></linearGradient><linearGradient id="b220" x1="0" y1="0" x2="0" y2="1"><stop offset="0.000" stop-color="#00ffff"/><stop offset="0.200" stop-color="#00ffff"/><stop offset="0.324" stop-color="#00ffff"/><stop offset="0.400" stop-color="#20dfff"/><stop offset="0.600" stop-color="#837cff"/><stop offset="0.800" stop-color="#9b64ff"/><stop offset="1.000" stop-color="#c23dff"/></linearGradient><linearGradient id="b221" x1="0" y1="0" x2="0" y2="1"><stop offset="0.000" stop-color="#00ffff"/><stop offset="0.200" stop-color="#00ffff"/><stop offset="0.307" stop-color="#00ffff"/><stop offset="0.400" stop-color="#27d8ff"/><stop offset="0.600" stop-color="#8877ff"/><stop offset="0.800" stop-color="#9f60ff"/><stop offset="1.000" stop-color="#c13eff"/></linearGradient><linearGradient id="b222" x1="0" y1="0" x2="0" y2="1"><stop offset="0.000" stop-color="#00ffff"/><stop offset="0.200" stop-color="#00ffff"/><stop offset="0.290" stop-color="#00ffff"/><stop offset="0.400" stop-color="#2dd2ff"/><stop offset="0.600" stop-color="#8c73ff"/><stop offset="0.800" stop-color="#a25dff"/><stop offset="1.000" stop-color="#c03fff"/></linearGradient><linearGradient id="b223" x1="0" y1="0" x2="0" y2="1"><stop offset="0.000" stop-color="#00ffff"/><stop offset="0.200" stop-color="#00ffff"/><stop offset="0.273" stop-color="#00ffff"/><stop offset="0.400" stop-color="#34cbff"/><stop offset="0.600" stop-color="#916eff"/><stop offset="0.800" stop-color="#a55aff"/><stop offset="1.000" stop-color="#be41ff"/></linearGradient><linearGradient id="b224" x1="0" y1="0" x2="0" y2="1"><stop offset="0.000" stop-color="#00ffff"/><stop offset="0.200" stop-color="#00ffff"/><stop offset="0.256" stop-color="#00ffff"/><stop offset="0.400" stop-color="#3bc4ff"/><stop offset="0.600" stop-color="#956aff"/><stop offset="0.800" stop-color="#a956ff"/><stop offset="1.000" stop-color="#bd42ff"/></linearGradient><linearGradient id="b225" x1="0" y1="0" x2="0" y2="1"><stop offset="0.000" stop-color="#00ffff"/><stop offset="0.200" stop-color="#00ffff"/><stop offset="0.238" stop-color="#00ffff"/><stop offset="0.400" stop-color="#41beff"/><stop offset="0.600" stop-color="#9966ff"/><stop offset="0.800" stop-color="#ac53ff"/><stop offset="1.000" stop-color="#bc43ff"/></linearGradient><linearGradient id="b226" x1="0" y1="0" x2="0" y2="1"><stop offset="0.000" stop-color="#00ffff"/><stop offset="0.200" stop-color="#00ffff"/><stop offset="0.220" stop-color="#00ffff"/><stop offset="0.400" stop-color="#47b8ff"/><stop offset="0.600" stop-color="#9d62ff"/><stop offset="0.800" stop-color="#af50ff"/><stop offset="1.000" stop-color="#ba45ff"/></linearGradient><linearGradient id="b227" x1="0" y1="0" x2="0" y2="1"><stop offset="0.000" stop-color="#00ffff"/><stop offset="0.200" stop-color="#00ffff"/><stop offset="0.201" stop-color="#00ffff"/><stop offset="0.400" stop-color="#4eb1ff"/><stop offset="0.600" stop-color="#a15eff"/><stop offset="0.800" stop-color="#b14eff"/><stop offset="1.000" stop-color="#b946ff"/></linearGradient><linearGradient id="b228" x1="0" y1="0" x2="0" y2="1"><stop offset="0.000" stop-color="#00ffff"/><stop offset="0.176" stop-color="#00ffff"/><stop offset="0.200" stop-color="#07f8ff"/><stop offset="0.400" stop-color="#54abff"/><stop offset="0.600" stop-color="#a45bff"/><stop offset="0.800" stop-color="#b44bff"/><stop offset="1.000" stop-color="#b847ff"/></linearGradient><linearGradient id="b229" x1="0" y1="0" x2="0" y2="1"><stop offset="0.000" stop-color="#00ffff"/><stop offset="0.150" stop-color="#00ffff"/><stop offset="0.200" stop-color="#0ef1ff"/><stop offset="0.400" stop-color="#5aa5ff"/><stop offset="0.600" stop-color="#a857ff"/><stop offset="0.800" stop-color="#b748ff"/><stop offset="1.000" stop-color="#b649ff"/></linearGradient><linearGradient id="b230" x1="0" y1="0" x2="0" y2="1"><stop offset="0.000" stop-color="#00ffff"/><stop offset="0.124" stop-color="#00ffff"/><stop offset="0.200" stop-color="#16e9ff"/><stop offset="0.400" stop-color="#5fa0ff"/><stop offset="0.600" stop-color="#ab54ff"/><stop offset="0.800" stop-color="#b946ff"/><stop offset="1.000" stop-color="#b54aff"/></linearGradient><linearGradient id="b231" x1="0" y1="0" x2="0" y2="1"><stop offset="0.000" stop-color="#00ffff"/><stop offset="0.097" stop-color="#00ffff"/><stop offset="0.200" stop-color="#1de2ff"/><stop offset="0.400" stop-color="#659aff"/><stop offset="0.600" stop-color="#ae51ff"/><stop offset="0.800" stop-color="#bb44ff"/><stop offset="1.000" stop-color="#b34cff"/></linearGradient><linearGradient id="b232" x1="0" y1="0" x2="0" y2="1"><stop offset="0.000" stop-color="#00ffff"/><stop offset="0.070" stop-color="#00ffff"/><stop offset="0.200" stop-color="#24dbff"/><stop offset="0.400" stop-color="#6a95ff"/><stop offset="0.600" stop-color="#b14eff"/><stop offset="0.800" stop-color="#bd42ff"/><stop offset="1.000" stop-color="#b24dff"/></linearGradient><linearGradient id="b233" x1="0" y1="0" x2="0" y2="1"><stop offset="0.000" stop-color="#00ffff"/><stop offset="0.041" stop-color="#00ffff"/><stop offset="0.200" stop-color="#2bd4ff"/><stop offset="0.400" stop-color="#708fff"/><stop offset="0.600" stop-color="#b44bff"/><stop offset="0.800" stop-color="#bf40ff"/><stop offset="1.000" stop-color="#b14eff"/></linearGradient><linearGradient id="b234" x1="0" y1="0" x2="0" y2="1"><stop offset="0.000" stop-color="#00ffff"/><stop offset="0.010" stop-color="#00ffff"/><stop offset="0.200" stop-color="#32cdff"/><stop offset="0.400" stop-color="#758aff"/><stop offset="0.600" stop-color="#b748ff"/><stop offset="0.800" stop-color="#c13eff"/><stop offset="1.000" stop-color="#af50ff"/></linearGradient><linearGradient id="b235" x1="0" y1="0" x2="0" y2="1"><stop offset="0.000" stop-color="#06f9ff"/><stop offset="0.200" stop-color="#39c6ff"/><stop offset="0.400" stop-color="#7a85ff"/><stop offset="0.600" stop-color="#b946ff"/><stop offset="0.800" stop-color="#c33cff"/><stop offset="1.000" stop-color="#ae51ff"/></linearGradient><linearGradient id="b236" x1="0" y1="0" x2="0" y2="1"><stop offset="0.000" stop-color="#0ef1ff"/><stop offset="0.200" stop-color="#40bfff"/><stop offset="0.400" stop-color="#7f80ff"/><stop offset="0.600" stop-color="#bc43ff"/><stop offset="0.800" stop-color="#c53aff"/><stop offset="1.000" stop-color="#ac53ff"/></linearGradient><linearGradient id="b237" x1="0" y1="0" x2="0" y2="1"><stop offset="0.000" stop-color="#17e8ff"/><stop offset="0.200" stop-color="#47b8ff"/><stop offset="0.400" stop-color="#837cff"/><stop offset="0.600" stop-color="#be41ff"/><stop offset="0.800" stop-color="#c738ff"/><stop offset="1.000" stop-color="#ab54ff"/></linearGradient><linearGradient id="b238" x1="0" y1="0" x2="0" y2="1"><stop offset="0.000" stop-color="#1fe0ff"/><stop offset="0.200" stop-color="#4db2ff"/><stop offset="0.400" stop-color="#8877ff"/><stop offset="0.600" stop-color="#c03fff"/><stop offset="0.800" stop-color="#c837ff"/><stop offset="1.000" stop-color="#a956ff"/></linearGradient><linearGradient id="b239" x1="0" y1="0" x2="0" y2="1"><stop offset="0.000" stop-color="#27d8ff"/><stop offset="0.200" stop-color="#53acff"/><stop offset="0.400" stop-color="#8c73ff"/><stop offset="0.600" stop-color="#c23dff"/><stop offset="0.800" stop-color="#ca35ff"/><stop offset="1.000" stop-color="#a857ff"/></linearGradient><linearGradient id="b240" x1="0" y1="0" x2="0" y2="1"><stop offset="0.000" stop-color="#2fd0ff"/><stop offset="0.200" stop-color="#5aa5ff"/><stop offset="0.400" stop-color="#906fff"/><stop offset="0.600" stop-color="#c43bff"/><stop offset="0.800" stop-color="#cb34ff"/><stop offset="1.000" stop-color="#a659ff"/></linearGradient><linearGradient id="b241" x1="0" y1="0" x2="0" y2="1"><stop offset="0.000" stop-color="#37c8ff"/><stop offset="0.200" stop-color="#609fff"/><stop offset="0.400" stop-color="#946bff"/><stop offset="0.600" stop-color="#c639ff"/><stop offset="0.800" stop-color="#cc33ff"/><stop offset="1.000" stop-color="#a55aff"/></linearGradient><linearGradient id="b242" x1="0" y1="0" x2="0" y2="1"><stop offset="0.000" stop-color="#3fc0ff"/><stop offset="0.200" stop-color="#659aff"/><stop offset="0.400" stop-color="#9867ff"/><stop offset="0.600" stop-color="#c837ff"/><stop offset="0.800" stop-color="#ce31ff"/><stop offset="1.000" stop-color="#a35cff"/></linearGradient><linearGradient id="b243" x1="0" y1="0" x2="0" y2="1"><stop offset="0.000" stop-color="#46b9ff"/><stop offset="0.200" stop-color="#6b94ff"/><stop offset="0.400" stop-color="#9c63ff"/><stop offset="0.600" stop-color="#c936ff"/><stop offset="0.800" stop-color="#cf30ff"/><stop offset="1.000" stop-color="#a25dff"/></linearGradient><linearGradient id="b244" x1="0" y1="0" x2="0" y2="1"><stop offset="0.000" stop-color="#4eb1ff"/><stop offset="0.200" stop-color="#708fff"/><stop offset="0.400" stop-color="#9f60ff"/><stop offset="0.600" stop-color="#cb34ff"/><stop offset="0.800" stop-color="#d02fff"/><stop offset="1.000" stop-color="#a05fff"/></linearGradient><linearGradient id="b245" x1="0" y1="0" x2="0" y2="1"><stop offset="0.000" stop-color="#54abff"/><stop offset="0.200" stop-color="#7689ff"/><stop offset="0.400" stop-color="#a35cff"/><stop offset="0.600" stop-color="#cc33ff"/><stop offset="0.800" stop-color="#d12eff"/><stop offset="1.000" stop-color="#9f60ff"/></linearGradient><linearGradient id="b246" x1="0" y1="0" x2="0" y2="1"><stop offset="0.000" stop-color="#5ba4ff"/><stop offset="0.200" stop-color="#7b84ff"/><stop offset="0.400" stop-color="#a659ff"/><stop offset="0.600" stop-color="#ce31ff"/><stop offset="0.800" stop-color="#d22dff"/><stop offset="1.000" stop-color="#9d62ff"/></linearGradient><linearGradient id="b247" x1="0" y1="0" x2="0" y2="1"><stop offset="0.000" stop-color="#629dff"/><stop offset="0.200" stop-color="#807fff"/><stop offset="0.400" stop-color="#a956ff"/><stop offset="0.600" stop-color="#cf30ff"/><stop offset="0.800" stop-color="#d32cff"/><stop offset="1.000" stop-color="#9b64ff"/></linearGradient><linearGradient id="b248" x1="0" y1="0" x2="0" y2="1"><stop offset="0.000" stop-color="#6897ff"/><stop offset="0.200" stop-color="#847bff"/><stop offset="0.400" stop-color="#ac53ff"/><stop offset="0.600" stop-color="#d02fff"/><stop offset="0.800" stop-color="#d32cff"/><stop offset="1.000" stop-color="#9a65ff"/></linearGradient><linearGradient id="b249" x1="0" y1="0" x2="0" y2="1"><stop offset="0.000" stop-color="#6d92ff"/><stop offset="0.200" stop-color="#8976ff"/><stop offset="0.400" stop-color="#af50ff"/><stop offset="0.600" stop-color="#d12eff"/><stop offset="0.800" stop-color="#d42bff"/><stop offset="1.000" stop-color="#9867ff"/></linearGradient><linearGradient id="b250" x1="0" y1="0" x2="0" y2="1"><stop offset="0.000" stop-color="#738cff"/><stop offset="0.200" stop-color="#8d72ff"/><stop offset="0.400" stop-color="#b14eff"/><stop offset="0.600" stop-color="#d22dff"/><stop offset="0.800" stop-color="#d52aff"/><stop offset="1.000" stop-color="#9669ff"/></linearGradient><linearGradient id="b251" x1="0" y1="0" x2="0" y2="1"><stop offset="0.000" stop-color="#7887ff"/><stop offset="0.200" stop-color="#926dff"/><stop offset="0.400" stop-color="#b44bff"/><stop offset="0.600" stop-color="#d32cff"/><stop offset="0.800" stop-color="#d52aff"/><stop offset="1.000" stop-color="#946bff"/></linearGradient><linearGradient id="b252" x1="0" y1="0" x2="0" y2="1"><stop offset="0.000" stop-color="#7d82ff"/><stop offset="0.200" stop-color="#9669ff"/><stop offset="0.400" stop-color="#b649ff"/><stop offset="0.600" stop-color="#d32cff"/><stop offset="0.800" stop-color="#d629ff"/><stop offset="1.000" stop-color="#926dff"/></linearGradient><linearGradient id="b253" x1="0" y1="0" x2="0" y2="1"><stop offset="0.000" stop-color="#817eff"/><stop offset="0.200" stop-color="#9966ff"/><stop offset="0.400" stop-color="#b946ff"/><stop offset="0.600" stop-color="#d42bff"/><stop offset="0.800" stop-color="#d629ff"/><stop offset="1.000" stop-color="#916eff"/></linearGradient><linearGradient id="b254" x1="0" y1="0" x2="0" y2="1"><stop offset="0.000" stop-color="#8679ff"/><stop offset="0.200" stop-color="#9d62ff"/><stop offset="0.400" stop-color="#bb44ff"/><stop offset="0.600" stop-color="#d52aff"/><stop offset="0.800" stop-color="#d728ff"/><stop offset="1.000" stop-color="#8f70ff"/></linearGradient><linearGradient id="b255" x1="0" y1="0" x2="0" y2="1"><stop offset="0.000" stop-color="#8a75ff"/><stop offset="0.200" stop-color="#a05fff"/><stop offset="0.400" stop-color="#bd42ff"/><stop offset="0.600" stop-color="#d52aff"/><stop offset="0.800" stop-color="#d728ff"/><stop offset="1.000" stop-color="#8d72ff"/></linearGradient><linearGradient id="b256" x1="0" y1="0" x2="0" y2="1"><stop offset="0.000" stop-color="#8d72ff"/><stop offset="0.200" stop-color="#a45bff"/><stop offset="0.400" stop-color="#bf40ff"/><stop offset="0.600" stop-color="#d629ff"/><stop offset="0.800" stop-color="#d827ff"/><stop offset="1.000" stop-color="#8b74ff"/></linearGradient><linearGradient id="b257" x1="0" y1="0" x2="0" y2="1"><stop offset="0.000" stop-color="#916eff"/><stop offset="0.200" stop-color="#a758ff"/><stop offset="0.400" stop-color="#c03fff"/><stop offset="0.600" stop-color="#d629ff"/><stop offset="0.800" stop-color="#d827ff"/><stop offset="1.000" stop-color="#8976ff"/></linearGradient><linearGradient id="b258" x1="0" y1="0" x2="0" y2="1"><stop offset="0.000" stop-color="#946bff"/><stop offset="0.200" stop-color="#aa55ff"/><stop offset="0.400" stop-color="#c23dff"/><stop offset="0.600" stop-color="#d728ff"/><stop offset="0.800" stop-color="#d827ff"/><stop offset="1.000" stop-color="#8778ff"/></linearGradient><linearGradient id="b259" x1="0" y1="0" x2="0" y2="1"><stop offset="0.000" stop-color="#9768ff"/><stop offset="0.200" stop-color="#ad52ff"/><stop offset="0.400" stop-color="#c43bff"/><stop offset="0.600" stop-color="#d728ff"/><stop offset="0.800" stop-color="#d926ff"/><stop offset="1.000" stop-color="#857aff"/></linearGradient><linearGradient id="b260" x1="0" y1="0" x2="0" y2="1"><stop offset="0.000" stop-color="#9a65ff"/><stop offset="0.200" stop-color="#af50ff"/><stop offset="0.400" stop-color="#c53aff"/><stop offset="0.600" stop-color="#d728ff"/><stop offset="0.800" stop-color="#d926ff"/><stop offset="1.000" stop-color="#837cff"/></linearGradient><linearGradient id="b261" x1="0" y1="0" x2="0" y2="1"><stop offset="0.000" stop-color="#9c63ff"/><stop offset="0.200" stop-color="#b24dff"/><stop offset="0.400" stop-color="#c639ff"/><stop offset="0.600" stop-color="#d827ff"/><stop offset="0.800" stop-color="#d926ff"/><stop offset="1.000" stop-color="#817eff"/></linearGradient><linearGradient id="b262" x1="0" y1="0" x2="0" y2="1"><stop offset="0.000" stop-color="#9f60ff"/><stop offset="0.200" stop-color="#b44bff"/><stop offset="0.400" stop-color="#c837ff"/><stop offset="0.600" stop-color="#d827ff"/><stop offset="0.800" stop-color="#d926ff"/><stop offset="1.000" stop-color="#7f80ff"/></linearGradient><linearGradient id="b263" x1="0" y1="0" x2="0" y2="1"><stop offset="0.000" stop-color="#a15eff"/><stop offset="0.200" stop-color="#b649ff"/><stop offset="0.400" stop-color="#c936ff"/><stop offset="0.600" stop-color="#d827ff"/><stop offset="0.800" stop-color="#d926ff"/><stop offset="1.000" stop-color="#7c83ff"/></linearGradient><linearGradient id="b264" x1="0" y1="0" x2="0" y2="1"><stop offset="0.000" stop-color="#a45bff"/><stop offset="0.200" stop-color="#b847ff"/><stop offset="0.400" stop-color="#ca35ff"/><stop offset="0.600" stop-color="#d827ff"/><stop offset="0.800" stop-color="#d926ff"/><stop offset="1.000" stop-color="#7a85ff"/></linearGradient><linearGradient id="b265" x1="0" y1="0" x2="0" y2="1"><stop offset="0.000" stop-color="#a659ff"/><stop offset="0.200" stop-color="#ba45ff"/><stop offset="0.400" stop-color="#cb34ff"/><stop offset="0.600" stop-color="#d827ff"/><stop offset="0.800" stop-color="#d926ff"/><stop offset="1.000" stop-color="#7887ff"/></linearGradient><linearGradient id="b266" x1="0" y1="0" x2="0" y2="1"><stop offset="0.000" stop-color="#a857ff"/><stop offset="0.200" stop-color="#bc43ff"/><stop offset="0.400" stop-color="#cc33ff"/><stop offset="0.600" stop-color="#d827ff"/><stop offset="0.800" stop-color="#d926ff"/><stop offset="1.000" stop-color="#7689ff"/></linearGradient><linearGradient id="b267" x1="0" y1="0" x2="0" y2="1"><stop offset="0.000" stop-color="#ab54ff"/><stop offset="0.200" stop-color="#be41ff"/><stop offset="0.400" stop-color="#cd32ff"/><stop offset="0.600" stop-color="#d827ff"/><stop offset="0.800" stop-color="#d926ff"/><stop offset="1.000" stop-color="#748bff"/></linearGradient><linearGradient id="b268" x1="0" y1="0" x2="0" y2="1"><stop offset="0.000" stop-color="#ad52ff"/><stop offset="0.200" stop-color="#bf40ff"/><stop offset="0.400" stop-color="#ce31ff"/><stop offset="0.600" stop-color="#d827ff"/><stop offset="0.800" stop-color="#d926ff"/><stop offset="1.000" stop-color="#718eff"/></linearGradient><linearGradient id="b269" x1="0" y1="0" x2="0" y2="1"><stop offset="0.000" stop-color="#af50ff"/><stop offset="0.200" stop-color="#c13eff"/><stop offset="0.400" stop-color="#ce31ff"/><stop offset="0.600" stop-color="#d827ff"/><stop offset="0.800" stop-color="#d926ff"/><stop offset="1.000" stop-color="#6f90ff"/></linearGradient><linearGradient id="b270" x1="0" y1="0" x2="0" y2="1"><stop offset="0.000" stop-color="#b24dff"/><stop offset="0.200" stop-color="#c23dff"/><stop offset="0.400" stop-color="#cf30ff"/><stop offset="0.600" stop-color="#d728ff"/><stop offset="0.800" stop-color="#d926ff"/><stop offset="1.000" stop-color="#6d92ff"/></linearGradient><linearGradient id="b271" x1="0" y1="0" x2="0" y2="1"><stop offset="0.000" stop-color="#b44bff"/><stop offset="0.200" stop-color="#c33cff"/><stop offset="0.400" stop-color="#cf30ff"/><stop offset="0.600" stop-color="#d728ff"/><stop offset="0.800" stop-color="#d926ff"/><stop offset="1.000" stop-color="#6a95ff"/></linearGradient><linearGradient id="b272" x1="0" y1="0" x2="0" y2="1"><stop offset="0.000" stop-color="#b748ff"/><stop offset="0.200" stop-color="#c43bff"/><stop offset="0.400" stop-color="#d02fff"/><stop offset="0.600" stop-color="#d728ff"/><stop offset="0.800" stop-color="#d926ff"/><stop offset="1.000" stop-color="#6897ff"/></linearGradient><linearGradient id="b273" x1="0" y1="0" x2="0" y2="1"><stop offset="0.000" stop-color="#ba45ff"/><stop offset="0.200" stop-color="#c53aff"/><stop offset="0.400" stop-color="#d02fff"/><stop offset="0.600" stop-color="#d728ff"/><stop offset="0.800" stop-color="#d926ff"/><stop offset="1.000" stop-color="#6699ff"/></linearGradient></defs>
<g font-family='"Liberation Serif", "DejaVu Serif", serif' font-weight="bold" fill="#1a1a1a">
<rect x="28.5" y="23.4" width="290.4" height="128.9" fill="none" stroke="#d0d0d0" stroke-width="1"/><path d="M28.5 152.3v-2.0M28.5 23.4v2.0M86.6 152.3v-2.0M86.6 23.4v2.0M144.7 152.3v-2.0M144.7 23.4v2.0M202.7 152.3v-2.0M202.7 23.4v2.0M260.8 152.3v-2.0M260.8 23.4v2.0M318.9 152.3v-2.0M318.9 23.4v2.0M28.5 152.3h2.0M318.9 152.3h-2.0M28.5 126.5h2.0M318.9 126.5h-2.0M28.5 100.7h2.0M318.9 100.7h-2.0M28.5 75.0h2.0M318.9 75.0h-2.0M28.5 49.2h2.0M318.9 49.2h-2.0M28.5 23.4h2.0M318.9 23.4h-2.0" stroke="#d0d0d0" stroke-width="1" fill="none"/>
<g fill="none" stroke-width="1.4" stroke-linejoin="round">
<path d="M28.5 38.72 L29.5 38.94 L30.5 39.15 L31.5 39.37 L32.5 39.59 L33.5 39.81 L34.5 40.03 L35.5 40.25 L36.5 40.47 L37.5 40.70 L38.5 40.93 L39.5 41.16 L40.5 41.39 L41.5 41.63 L42.5 41.87 L43.5 42.11 L44.5 42.36 L45.5 42.61 L46.5 42.87 L47.5 43.13 L48.5 43.40 L49.5 43.68 L50.5 43.95 L51.5 44.24 L52.5 44.53 L53.5 44.83 L54.5 45.13 L55.5 45.44 L56.5 45.76 L57.5 46.09 L58.5 46.42 L59.5 46.76 L60.5 47.10 L61.5 47.46 L62.5 47.82 L63.5 48.19 L64.5 48.57 L65.5 48.96 L66.5 49.36 L67.5 49.77 L68.5 50.18 L69.5 50.60 L70.5 51.04 L71.5 51.48 L72.5 51.94 L73.5 52.40 L74.5 52.88 L75.5 53.36 L76.5 53.86 L77.5 54.37 L78.5 54.90 L79.5 55.43 L80.5 55.98 L81.5 56.54 L82.5 57.11 L83.5 57.69 L84.5 58.29 L85.5 58.90 L86.5 59.51 L87.5 60.14 L88.5 60.78 L89.5 61.43 L90.5 62.08 L91.5 62.75 L92.5 63.43 L93.5 64.13 L94.5 64.85 L95.5 65.58 L96.5 66.34 L97.5 67.12 L98.5 67.93 L99.5 68.77 L100.5 69.64 L101.5 70.53 L102.5 71.45 L103.5 72.39 L104.5 73.34 L105.5 74.31 L106.5 75.30 L107.5 76.29 L108.5 77.28 L109.5 78.29 L110.5 79.29 L111.5 80.30 L112.5 81.32 L113.5 82.35 L114.5 83.39 L115.5 84.45 L116.5 85.52 L117.5 86.61 L118.5 87.73 L119.5 88.86 L120.5 90.02 L121.5 91.19 L122.5 92.38 L123.5 93.58 L124.5 94.80 L125.5 96.02 L126.5 97.25 L127.5 98.49 L128.5 99.73 L129.5 100.97 L130.5 102.20 L131.5 103.42 L132.5 104.62 L133.5 105.80 L134.5 106.96 L135.5 108.08 L136.5 109.17 L137.5 110.21 L138.5 111.20 L139.5 112.14 L140.5 113.01 L141.5 113.81 L142.5 114.53 L143.5 115.16 L144.5 115.70 L145.5 116.16 L146.5 116.55 L147.5 116.85 L148.5 117.09 L149.5 117.27 L150.5 117.41 L151.5 117.53 L152.5 117.64 L153.5 117.73 L154.5 117.80 L155.5 117.83 L156.5 117.81 L157.5 117.72 L158.5 117.55 L159.5 117.29 L160.5 116.93 L161.5 116.44 L162.5 115.81 L163.5 114.99 L164.5 113.94 L165.5 112.62 L166.5 111.06 L167.5 109.26 L168.5 107.24 L169.5 105.02 L170.5 102.67 L171.5 100.25 L172.5 97.83 L173.5 95.43 L174.5 93.06 L175.5 90.72 L176.5 88.40 L177.5 86.12 L178.5 83.87 L179.5 81.69 L180.5 79.57 L181.5 77.52 L182.5 75.49 L183.5 73.48 L184.5 71.45 L185.5 69.41 L186.5 67.37 L187.5 65.35 L188.5 63.37 L189.5 61.42 L190.5 59.53 L191.5 57.72 L192.5 55.98 L193.5 54.32 L194.5 52.74 L195.5 51.24 L196.5 49.83 L197.5 48.51 L198.5 47.27 L199.5 46.13 L200.5 45.07 L201.5 44.09 L202.5 43.20 L203.5 42.37 L204.5 41.61 L205.5 40.91 L206.5 40.27 L207.5 39.68 L208.5 39.14 L209.5 38.64 L210.5 38.18 L211.5 37.75 L212.5 37.37 L213.5 37.01 L214.5 36.69 L215.5 36.40 L216.5 36.13 L217.5 35.89 L218.5 35.67 L219.5 35.47 L220.5 35.29 L221.5 35.13 L222.5 34.98 L223.5 34.85 L224.5 34.74 L225.5 34.65 L226.5 34.57 L227.5 34.50 L228.5 34.46 L229.5 34.42 L230.5 34.40 L231.5 34.40 L232.5 34.41 L233.5 34.44 L234.5 34.48 L235.5 34.52 L236.5 34.59 L237.5 34.66 L238.5 34.74 L239.5 34.83 L240.5 34.93 L241.5 35.03 L242.5 35.15 L243.5 35.27 L244.5 35.39 L245.5 35.52 L246.5 35.65 L247.5 35.79 L248.5 35.93 L249.5 36.08 L250.5 36.23 L251.5 36.39 L252.5 36.55 L253.5 36.73 L254.5 36.92 L255.5 37.12 L256.5 37.33 L257.5 37.55 L258.5 37.79 L259.5 38.05 L260.5 38.31 L261.5 38.58 L262.5 38.87 L263.5 39.16 L264.5 39.46 L265.5 39.77 L266.5 40.09 L267.5 40.41 L268.5 40.73 L269.5 41.06 L270.5 41.39 L271.5 41.73 L272.5 42.06 L273.5 42.40 L274.5 42.73 L275.5 43.07 L276.5 43.41 L277.5 43.74 L278.5 44.09 L279.5 44.43 L280.5 44.77 L281.5 45.12 L282.5 45.48 L283.5 45.83 L284.5 46.19 L285.5 46.56 L286.5 46.93 L287.5 47.31 L288.5 47.69 L289.5 48.08 L290.5 48.48 L291.5 48.88 L292.5 49.29 L293.5 49.71 L294.5 50.13 L295.5 50.56 L296.5 51.00 L297.5 51.45 L298.5 51.90 L299.5 52.36 L300.5 52.82 L301.5 53.29 L302.5 53.77 L303.5 54.26 L304.5 54.75 L305.5 55.25 L306.5 55.76 L307.5 56.27 L308.5 56.79 L309.5 57.31 L310.5 57.84 L311.5 58.37 L312.5 58.91 L313.5 59.45 L314.5 59.99 L315.5 60.54 L316.5 61.08 L317.5 61.63 L318.5 62.18 L318.9 62.40" stroke="#ff0000"/>
<path d="M28.5 35.78 L29.5 35.90 L30.5 36.03 L31.5 36.16 L32.5 36.29 L33.5 36.43 L34.5 36.57 L35.5 36.71 L36.5 36.85 L37.5 37.00 L38.5 37.15 L39.5 37.30 L40.5 37.46 L41.5 37.62 L42.5 37.78 L43.5 37.95 L44.5 38.12 L45.5 38.29 L46.5 38.47 L47.5 38.65 L48.5 38.83 L49.5 39.02 L50.5 39.20 L51.5 39.40 L52.5 39.59 L53.5 39.79 L54.5 39.99 L55.5 40.20 L56.5 40.41 L57.5 40.62 L58.5 40.84 L59.5 41.05 L60.5 41.28 L61.5 41.50 L62.5 41.73 L63.5 41.97 L64.5 42.20 L65.5 42.44 L66.5 42.69 L67.5 42.94 L68.5 43.19 L69.5 43.45 L70.5 43.70 L71.5 43.97 L72.5 44.24 L73.5 44.51 L74.5 44.78 L75.5 45.06 L76.5 45.35 L77.5 45.63 L78.5 45.93 L79.5 46.22 L80.5 46.52 L81.5 46.83 L82.5 47.14 L83.5 47.45 L84.5 47.77 L85.5 48.09 L86.5 48.42 L87.5 48.75 L88.5 49.08 L89.5 49.43 L90.5 49.77 L91.5 50.12 L92.5 50.48 L93.5 50.84 L94.5 51.21 L95.5 51.58 L96.5 51.95 L97.5 52.34 L98.5 52.72 L99.5 53.12 L100.5 53.52 L101.5 53.92 L102.5 54.33 L103.5 54.75 L104.5 55.17 L105.5 55.60 L106.5 56.03 L107.5 56.47 L108.5 56.92 L109.5 57.37 L110.5 57.83 L111.5 58.29 L112.5 58.77 L113.5 59.25 L114.5 59.73 L115.5 60.23 L116.5 60.73 L117.5 61.23 L118.5 61.75 L119.5 62.27 L120.5 62.80 L121.5 63.34 L122.5 63.89 L123.5 64.44 L124.5 65.00 L125.5 65.58 L126.5 66.15 L127.5 66.74 L128.5 67.34 L129.5 67.94 L130.5 68.56 L131.5 69.18 L132.5 69.81 L133.5 70.45 L134.5 71.11 L135.5 71.77 L136.5 72.44 L137.5 73.12 L138.5 73.81 L139.5 74.51 L140.5 75.22 L141.5 75.94 L142.5 76.67 L143.5 77.41 L144.5 78.16 L145.5 78.93 L146.5 79.70 L147.5 80.48 L148.5 81.28 L149.5 82.09 L150.5 82.90 L151.5 83.73 L152.5 84.57 L153.5 85.42 L154.5 86.28 L155.5 87.15 L156.5 88.03 L157.5 88.92 L158.5 89.83 L159.5 90.74 L160.5 91.66 L161.5 92.59 L162.5 93.53 L163.5 94.48 L164.5 95.44 L165.5 96.41 L166.5 97.38 L167.5 98.36 L168.5 99.35 L169.5 100.34 L170.5 101.34 L171.5 102.34 L172.5 103.34 L173.5 104.34 L174.5 105.35 L175.5 106.35 L176.5 107.35 L177.5 108.35 L178.5 109.34 L179.5 110.32 L180.5 111.30 L181.5 112.26 L182.5 113.21 L183.5 114.15 L184.5 115.07 L185.5 115.96 L186.5 116.84 L187.5 117.68 L188.5 118.50 L189.5 119.29 L190.5 120.04 L191.5 120.76 L192.5 121.43 L193.5 122.06 L194.5 122.63 L195.5 123.16 L196.5 123.63 L197.5 124.05 L198.5 124.40 L199.5 124.68 L200.5 124.90 L201.5 125.05 L202.5 125.12 L203.5 125.11 L204.5 125.02 L205.5 124.85 L206.5 124.60 L207.5 124.26 L208.5 123.84 L209.5 123.32 L210.5 122.72 L211.5 122.03 L212.5 121.25 L213.5 120.39 L214.5 119.44 L215.5 118.40 L216.5 117.29 L217.5 116.10 L218.5 114.83 L219.5 113.49 L220.5 112.08 L221.5 110.61 L222.5 109.08 L223.5 107.50 L224.5 105.87 L225.5 104.20 L226.5 102.48 L227.5 100.74 L228.5 98.96 L229.5 97.17 L230.5 95.35 L231.5 93.53 L232.5 91.70 L233.5 89.86 L234.5 88.03 L235.5 86.21 L236.5 84.39 L237.5 82.59 L238.5 80.81 L239.5 79.06 L240.5 77.32 L241.5 75.62 L242.5 73.94 L243.5 72.30 L244.5 70.69 L245.5 69.11 L246.5 67.58 L247.5 66.08 L248.5 64.62 L249.5 63.20 L250.5 61.82 L251.5 60.49 L252.5 59.19 L253.5 57.94 L254.5 56.72 L255.5 55.55 L256.5 54.42 L257.5 53.33 L258.5 52.27 L259.5 51.26 L260.5 50.28 L261.5 49.35 L262.5 48.45 L263.5 47.58 L264.5 46.75 L265.5 45.96 L266.5 45.19 L267.5 44.46 L268.5 43.77 L269.5 43.10 L270.5 42.46 L271.5 41.86 L272.5 41.28 L273.5 40.72 L274.5 40.20 L275.5 39.70 L276.5 39.22 L277.5 38.77 L278.5 38.34 L279.5 37.93 L280.5 37.54 L281.5 37.18 L282.5 36.83 L283.5 36.51 L284.5 36.20 L285.5 35.91 L286.5 35.64 L287.5 35.38 L288.5 35.14 L289.5 34.92 L290.5 34.71 L291.5 34.51 L292.5 34.33 L293.5 34.16 L294.5 34.01 L295.5 33.86 L296.5 33.73 L297.5 33.61 L298.5 33.50 L299.5 33.40 L300.5 33.32 L301.5 33.24 L302.5 33.17 L303.5 33.11 L304.5 33.06 L305.5 33.02 L306.5 32.99 L307.5 32.96 L308.5 32.94 L309.5 32.93 L310.5 32.93 L311.5 32.93 L312.5 32.94 L313.5 32.96 L314.5 32.98 L315.5 33.01 L316.5 33.04 L317.5 33.08 L318.5 33.13 L318.9 33.15" stroke="#0000ff"/>
<path d="M28.5 34.47 L29.5 34.62 L30.5 34.78 L31.5 34.93 L32.5 35.09 L33.5 35.24 L34.5 35.40 L35.5 35.56 L36.5 35.73 L37.5 35.89 L38.5 36.06 L39.5 36.22 L40.5 36.39 L41.5 36.56 L42.5 36.73 L43.5 36.91 L44.5 37.08 L45.5 37.26 L46.5 37.44 L47.5 37.62 L48.5 37.81 L49.5 37.99 L50.5 38.18 L51.5 38.37 L52.5 38.56 L53.5 38.75 L54.5 38.95 L55.5 39.15 L56.5 39.35 L57.5 39.55 L58.5 39.75 L59.5 39.96 L60.5 40.17 L61.5 40.38 L62.5 40.59 L63.5 40.81 L64.5 41.02 L65.5 41.24 L66.5 41.47 L67.5 41.69 L68.5 41.92 L69.5 42.15 L70.5 42.38 L71.5 42.61 L72.5 42.85 L73.5 43.09 L74.5 43.34 L75.5 43.58 L76.5 43.83 L77.5 44.08 L78.5 44.34 L79.5 44.59 L80.5 44.85 L81.5 45.12 L82.5 45.39 L83.5 45.65 L84.5 45.93 L85.5 46.20 L86.5 46.48 L87.5 46.77 L88.5 47.05 L89.5 47.34 L90.5 47.64 L91.5 47.94 L92.5 48.24 L93.5 48.54 L94.5 48.85 L95.5 49.16 L96.5 49.48 L97.5 49.80 L98.5 50.13 L99.5 50.46 L100.5 50.79 L101.5 51.13 L102.5 51.47 L103.5 51.82 L104.5 52.17 L105.5 52.53 L106.5 52.89 L107.5 53.26 L108.5 53.63 L109.5 54.01 L110.5 54.39 L111.5 54.78 L112.5 55.17 L113.5 55.57 L114.5 55.97 L115.5 56.38 L116.5 56.80 L117.5 57.22 L118.5 57.65 L119.5 58.09 L120.5 58.53 L121.5 58.98 L122.5 59.44 L123.5 59.90 L124.5 60.37 L125.5 60.85 L126.5 61.33 L127.5 61.83 L128.5 62.33 L129.5 62.84 L130.5 63.35 L131.5 63.88 L132.5 64.41 L133.5 64.95 L134.5 65.50 L135.5 66.07 L136.5 66.64 L137.5 67.21 L138.5 67.80 L139.5 68.40 L140.5 69.01 L141.5 69.63 L142.5 70.26 L143.5 70.90 L144.5 71.55 L145.5 72.22 L146.5 72.89 L147.5 73.57 L148.5 74.27 L149.5 74.98 L150.5 75.70 L151.5 76.43 L152.5 77.18 L153.5 77.94 L154.5 78.71 L155.5 79.49 L156.5 80.29 L157.5 81.10 L158.5 81.92 L159.5 82.76 L160.5 83.61 L161.5 84.47 L162.5 85.35 L163.5 86.24 L164.5 87.14 L165.5 88.05 L166.5 88.98 L167.5 89.92 L168.5 90.87 L169.5 91.84 L170.5 92.82 L171.5 93.80 L172.5 94.80 L173.5 95.81 L174.5 96.82 L175.5 97.85 L176.5 98.88 L177.5 99.92 L178.5 100.96 L179.5 102.01 L180.5 103.06 L181.5 104.11 L182.5 105.16 L183.5 106.21 L184.5 107.25 L185.5 108.29 L186.5 109.32 L187.5 110.35 L188.5 111.35 L189.5 112.35 L190.5 113.32 L191.5 114.27 L192.5 115.20 L193.5 116.11 L194.5 116.98 L195.5 117.82 L196.5 118.62 L197.5 119.38 L198.5 120.10 L199.5 120.77 L200.5 121.39 L201.5 121.96 L202.5 122.47 L203.5 122.92 L204.5 123.30 L205.5 123.61 L206.5 123.86 L207.5 124.03 L208.5 124.13 L209.5 124.14 L210.5 124.08 L211.5 123.93 L212.5 123.70 L213.5 123.39 L214.5 122.99 L215.5 122.50 L216.5 121.92 L217.5 121.26 L218.5 120.52 L219.5 119.69 L220.5 118.78 L221.5 117.79 L222.5 116.72 L223.5 115.57 L224.5 114.35 L225.5 113.07 L226.5 111.71 L227.5 110.30 L228.5 108.83 L229.5 107.31 L230.5 105.74 L231.5 104.12 L232.5 102.47 L233.5 100.78 L234.5 99.06 L235.5 97.32 L236.5 95.55 L237.5 93.77 L238.5 91.99 L239.5 90.19 L240.5 88.39 L241.5 86.60 L242.5 84.81 L243.5 83.03 L244.5 81.27 L245.5 79.52 L246.5 77.79 L247.5 76.08 L248.5 74.40 L249.5 72.74 L250.5 71.12 L251.5 69.53 L252.5 67.97 L253.5 66.44 L254.5 64.95 L255.5 63.50 L256.5 62.09 L257.5 60.71 L258.5 59.37 L259.5 58.08 L260.5 56.82 L261.5 55.61 L262.5 54.43 L263.5 53.30 L264.5 52.20 L265.5 51.14 L266.5 50.13 L267.5 49.15 L268.5 48.21 L269.5 47.31 L270.5 46.44 L271.5 45.61 L272.5 44.82 L273.5 44.06 L274.5 43.33 L275.5 42.64 L276.5 41.98 L277.5 41.36 L278.5 40.76 L279.5 40.19 L280.5 39.65 L281.5 39.14 L282.5 38.66 L283.5 38.21 L284.5 37.78 L285.5 37.37 L286.5 36.99 L287.5 36.63 L288.5 36.30 L289.5 35.98 L290.5 35.69 L291.5 35.42 L292.5 35.17 L293.5 34.93 L294.5 34.72 L295.5 34.52 L296.5 34.34 L297.5 34.18 L298.5 34.03 L299.5 33.90 L300.5 33.78 L301.5 33.67 L302.5 33.58 L303.5 33.50 L304.5 33.44 L305.5 33.39 L306.5 33.35 L307.5 33.32 L308.5 33.30 L309.5 33.29 L310.5 33.29 L311.5 33.30 L312.5 33.32 L313.5 33.35 L314.5 33.39 L315.5 33.43 L316.5 33.49 L317.5 33.55 L318.5 33.62 L318.9 33.65" stroke="#000000"/>
<path d="M28.5 33.61 L29.5 33.72 L30.5 33.84 L31.5 33.96 L32.5 34.08 L33.5 34.21 L34.5 34.33 L35.5 34.46 L36.5 34.58 L37.5 34.71 L38.5 34.84 L39.5 34.98 L40.5 35.11 L41.5 35.25 L42.5 35.38 L43.5 35.52 L44.5 35.66 L45.5 35.81 L46.5 35.95 L47.5 36.10 L48.5 36.25 L49.5 36.40 L50.5 36.55 L51.5 36.70 L52.5 36.86 L53.5 37.02 L54.5 37.18 L55.5 37.34 L56.5 37.50 L57.5 37.67 L58.5 37.83 L59.5 38.00 L60.5 38.17 L61.5 38.35 L62.5 38.52 L63.5 38.70 L64.5 38.88 L65.5 39.06 L66.5 39.25 L67.5 39.44 L68.5 39.63 L69.5 39.82 L70.5 40.01 L71.5 40.21 L72.5 40.41 L73.5 40.61 L74.5 40.81 L75.5 41.02 L76.5 41.22 L77.5 41.43 L78.5 41.65 L79.5 41.86 L80.5 42.08 L81.5 42.30 L82.5 42.53 L83.5 42.75 L84.5 42.98 L85.5 43.22 L86.5 43.45 L87.5 43.69 L88.5 43.93 L89.5 44.18 L90.5 44.42 L91.5 44.67 L92.5 44.93 L93.5 45.18 L94.5 45.44 L95.5 45.71 L96.5 45.97 L97.5 46.24 L98.5 46.52 L99.5 46.80 L100.5 47.08 L101.5 47.36 L102.5 47.65 L103.5 47.94 L104.5 48.24 L105.5 48.54 L106.5 48.84 L107.5 49.15 L108.5 49.46 L109.5 49.77 L110.5 50.09 L111.5 50.42 L112.5 50.75 L113.5 51.08 L114.5 51.42 L115.5 51.76 L116.5 52.11 L117.5 52.46 L118.5 52.82 L119.5 53.18 L120.5 53.55 L121.5 53.92 L122.5 54.30 L123.5 54.68 L124.5 55.07 L125.5 55.46 L126.5 55.86 L127.5 56.27 L128.5 56.68 L129.5 57.10 L130.5 57.52 L131.5 57.95 L132.5 58.39 L133.5 58.83 L134.5 59.28 L135.5 59.74 L136.5 60.21 L137.5 60.68 L138.5 61.16 L139.5 61.64 L140.5 62.14 L141.5 62.64 L142.5 63.15 L143.5 63.67 L144.5 64.19 L145.5 64.73 L146.5 65.27 L147.5 65.82 L148.5 66.38 L149.5 66.95 L150.5 67.53 L151.5 68.12 L152.5 68.72 L153.5 69.33 L154.5 69.94 L155.5 70.57 L156.5 71.21 L157.5 71.86 L158.5 72.52 L159.5 73.19 L160.5 73.87 L161.5 74.56 L162.5 75.27 L163.5 75.98 L164.5 76.71 L165.5 77.45 L166.5 78.20 L167.5 78.96 L168.5 79.74 L169.5 80.52 L170.5 81.32 L171.5 82.13 L172.5 82.96 L173.5 83.79 L174.5 84.64 L175.5 85.50 L176.5 86.37 L177.5 87.26 L178.5 88.15 L179.5 89.06 L180.5 89.98 L181.5 90.91 L182.5 91.85 L183.5 92.80 L184.5 93.76 L185.5 94.73 L186.5 95.70 L187.5 96.69 L188.5 97.68 L189.5 98.68 L190.5 99.69 L191.5 100.70 L192.5 101.71 L193.5 102.73 L194.5 103.75 L195.5 104.76 L196.5 105.78 L197.5 106.79 L198.5 107.80 L199.5 108.80 L200.5 109.79 L201.5 110.77 L202.5 111.73 L203.5 112.68 L204.5 113.62 L205.5 114.53 L206.5 115.42 L207.5 116.28 L208.5 117.12 L209.5 117.93 L210.5 118.70 L211.5 119.43 L212.5 120.13 L213.5 120.78 L214.5 121.39 L215.5 121.94 L216.5 122.45 L217.5 122.90 L218.5 123.30 L219.5 123.63 L220.5 123.90 L221.5 124.11 L222.5 124.25 L223.5 124.32 L224.5 124.32 L225.5 124.24 L226.5 124.09 L227.5 123.87 L228.5 123.57 L229.5 123.19 L230.5 122.73 L231.5 122.20 L232.5 121.59 L233.5 120.90 L234.5 120.14 L235.5 119.30 L236.5 118.39 L237.5 117.41 L238.5 116.36 L239.5 115.24 L240.5 114.06 L241.5 112.82 L242.5 111.53 L243.5 110.17 L244.5 108.77 L245.5 107.32 L246.5 105.83 L247.5 104.30 L248.5 102.74 L249.5 101.14 L250.5 99.52 L251.5 97.87 L252.5 96.20 L253.5 94.52 L254.5 92.83 L255.5 91.13 L256.5 89.43 L257.5 87.73 L258.5 86.03 L259.5 84.34 L260.5 82.66 L261.5 80.99 L262.5 79.33 L263.5 77.70 L264.5 76.09 L265.5 74.49 L266.5 72.93 L267.5 71.39 L268.5 69.87 L269.5 68.39 L270.5 66.94 L271.5 65.53 L272.5 64.14 L273.5 62.79 L274.5 61.48 L275.5 60.20 L276.5 58.96 L277.5 57.75 L278.5 56.58 L279.5 55.45 L280.5 54.35 L281.5 53.29 L282.5 52.27 L283.5 51.28 L284.5 50.33 L285.5 49.42 L286.5 48.54 L287.5 47.70 L288.5 46.89 L289.5 46.11 L290.5 45.37 L291.5 44.66 L292.5 43.98 L293.5 43.33 L294.5 42.71 L295.5 42.13 L296.5 41.57 L297.5 41.04 L298.5 40.54 L299.5 40.06 L300.5 39.61 L301.5 39.19 L302.5 38.79 L303.5 38.41 L304.5 38.06 L305.5 37.73 L306.5 37.43 L307.5 37.14 L308.5 36.88 L309.5 36.63 L310.5 36.40 L311.5 36.20 L312.5 36.01 L313.5 35.84 L314.5 35.68 L315.5 35.54 L316.5 35.42 L317.5 35.31 L318.5 35.22 L318.9 35.19" stroke="#00ff00"/>
<path d="M28.5 32.58 L29.5 32.69 L30.5 32.81 L31.5 32.92 L32.5 33.04 L33.5 33.16 L34.5 33.28 L35.5 33.40 L36.5 33.52 L37.5 33.64 L38.5 33.77 L39.5 33.89 L40.5 34.02 L41.5 34.14 L42.5 34.27 L43.5 34.40 L44.5 34.53 L45.5 34.66 L46.5 34.79 L47.5 34.92 L48.5 35.06 L49.5 35.19 L50.5 35.33 L51.5 35.47 L52.5 35.61 L53.5 35.75 L54.5 35.89 L55.5 36.03 L56.5 36.18 L57.5 36.32 L58.5 36.47 L59.5 36.62 L60.5 36.77 L61.5 36.92 L62.5 37.07 L63.5 37.22 L64.5 37.38 L65.5 37.54 L66.5 37.70 L67.5 37.86 L68.5 38.02 L69.5 38.18 L70.5 38.35 L71.5 38.51 L72.5 38.68 L73.5 38.85 L74.5 39.03 L75.5 39.20 L76.5 39.38 L77.5 39.55 L78.5 39.73 L79.5 39.92 L80.5 40.10 L81.5 40.29 L82.5 40.47 L83.5 40.66 L84.5 40.86 L85.5 41.05 L86.5 41.25 L87.5 41.45 L88.5 41.65 L89.5 41.85 L90.5 42.06 L91.5 42.27 L92.5 42.48 L93.5 42.69 L94.5 42.91 L95.5 43.13 L96.5 43.35 L97.5 43.58 L98.5 43.80 L99.5 44.03 L100.5 44.27 L101.5 44.50 L102.5 44.74 L103.5 44.98 L104.5 45.23 L105.5 45.48 L106.5 45.73 L107.5 45.99 L108.5 46.25 L109.5 46.51 L110.5 46.77 L111.5 47.04 L112.5 47.32 L113.5 47.59 L114.5 47.87 L115.5 48.16 L116.5 48.45 L117.5 48.74 L118.5 49.04 L119.5 49.34 L120.5 49.64 L121.5 49.95 L122.5 50.27 L123.5 50.59 L124.5 50.91 L125.5 51.24 L126.5 51.57 L127.5 51.91 L128.5 52.25 L129.5 52.60 L130.5 52.95 L131.5 53.31 L132.5 53.68 L133.5 54.04 L134.5 54.42 L135.5 54.80 L136.5 55.19 L137.5 55.58 L138.5 55.98 L139.5 56.38 L140.5 56.79 L141.5 57.21 L142.5 57.63 L143.5 58.06 L144.5 58.50 L145.5 58.94 L146.5 59.39 L147.5 59.85 L148.5 60.32 L149.5 60.79 L150.5 61.27 L151.5 61.75 L152.5 62.25 L153.5 62.75 L154.5 63.26 L155.5 63.78 L156.5 64.31 L157.5 64.84 L158.5 65.39 L159.5 65.94 L160.5 66.50 L161.5 67.07 L162.5 67.65 L163.5 68.24 L164.5 68.84 L165.5 69.44 L166.5 70.06 L167.5 70.69 L168.5 71.32 L169.5 71.97 L170.5 72.62 L171.5 73.29 L172.5 73.96 L173.5 74.65 L174.5 75.35 L175.5 76.05 L176.5 76.77 L177.5 77.50 L178.5 78.24 L179.5 78.99 L180.5 79.75 L181.5 80.52 L182.5 81.30 L183.5 82.09 L184.5 82.89 L185.5 83.71 L186.5 84.53 L187.5 85.36 L188.5 86.21 L189.5 87.06 L190.5 87.93 L191.5 88.80 L192.5 89.68 L193.5 90.58 L194.5 91.48 L195.5 92.39 L196.5 93.31 L197.5 94.23 L198.5 95.17 L199.5 96.11 L200.5 97.05 L201.5 98.00 L202.5 98.96 L203.5 99.92 L204.5 100.88 L205.5 101.85 L206.5 102.81 L207.5 103.78 L208.5 104.74 L209.5 105.70 L210.5 106.66 L211.5 107.62 L212.5 108.56 L213.5 109.50 L214.5 110.43 L215.5 111.34 L216.5 112.25 L217.5 113.13 L218.5 114.00 L219.5 114.85 L220.5 115.67 L221.5 116.47 L222.5 117.25 L223.5 117.99 L224.5 118.70 L225.5 119.37 L226.5 120.00 L227.5 120.60 L228.5 121.15 L229.5 121.65 L230.5 122.10 L231.5 122.50 L232.5 122.84 L233.5 123.13 L234.5 123.35 L235.5 123.51 L236.5 123.60 L237.5 123.63 L238.5 123.58 L239.5 123.46 L240.5 123.27 L241.5 122.99 L242.5 122.64 L243.5 122.22 L244.5 121.71 L245.5 121.12 L246.5 120.46 L247.5 119.71 L248.5 118.89 L249.5 117.98 L250.5 117.01 L251.5 115.96 L252.5 114.83 L253.5 113.64 L254.5 112.38 L255.5 111.06 L256.5 109.68 L257.5 108.24 L258.5 106.75 L259.5 105.21 L260.5 103.63 L261.5 102.00 L262.5 100.35 L263.5 98.66 L264.5 96.95 L265.5 95.22 L266.5 93.47 L267.5 91.71 L268.5 89.94 L269.5 88.17 L270.5 86.40 L271.5 84.64 L272.5 82.88 L273.5 81.14 L274.5 79.41 L275.5 77.71 L276.5 76.02 L277.5 74.36 L278.5 72.73 L279.5 71.13 L280.5 69.56 L281.5 68.02 L282.5 66.52 L283.5 65.06 L284.5 63.64 L285.5 62.25 L286.5 60.90 L287.5 59.60 L288.5 58.33 L289.5 57.11 L290.5 55.93 L291.5 54.79 L292.5 53.69 L293.5 52.63 L294.5 51.62 L295.5 50.64 L296.5 49.71 L297.5 48.81 L298.5 47.95 L299.5 47.14 L300.5 46.36 L301.5 45.62 L302.5 44.91 L303.5 44.24 L304.5 43.61 L305.5 43.01 L306.5 42.44 L307.5 41.91 L308.5 41.41 L309.5 40.93 L310.5 40.49 L311.5 40.08 L312.5 39.70 L313.5 39.34 L314.5 39.01 L315.5 38.71 L316.5 38.43 L317.5 38.18 L318.5 37.95 L318.9 37.86" stroke="#ffff00"/>
<path d="M28.5 31.35 L29.5 31.48 L30.5 31.61 L31.5 31.74 L32.5 31.86 L33.5 31.99 L34.5 32.12 L35.5 32.25 L36.5 32.38 L37.5 32.51 L38.5 32.64 L39.5 32.77 L40.5 32.89 L41.5 33.02 L42.5 33.15 L43.5 33.28 L44.5 33.41 L45.5 33.54 L46.5 33.67 L47.5 33.80 L48.5 33.93 L49.5 34.06 L50.5 34.19 L51.5 34.32 L52.5 34.45 L53.5 34.58 L54.5 34.71 L55.5 34.85 L56.5 34.98 L57.5 35.11 L58.5 35.25 L59.5 35.38 L60.5 35.52 L61.5 35.65 L62.5 35.79 L63.5 35.93 L64.5 36.06 L65.5 36.20 L66.5 36.34 L67.5 36.48 L68.5 36.62 L69.5 36.77 L70.5 36.91 L71.5 37.05 L72.5 37.20 L73.5 37.34 L74.5 37.49 L75.5 37.64 L76.5 37.79 L77.5 37.94 L78.5 38.09 L79.5 38.24 L80.5 38.40 L81.5 38.55 L82.5 38.71 L83.5 38.87 L84.5 39.03 L85.5 39.19 L86.5 39.36 L87.5 39.52 L88.5 39.69 L89.5 39.86 L90.5 40.03 L91.5 40.20 L92.5 40.38 L93.5 40.55 L94.5 40.73 L95.5 40.91 L96.5 41.09 L97.5 41.28 L98.5 41.47 L99.5 41.66 L100.5 41.85 L101.5 42.04 L102.5 42.24 L103.5 42.44 L104.5 42.64 L105.5 42.85 L106.5 43.05 L107.5 43.26 L108.5 43.48 L109.5 43.69 L110.5 43.91 L111.5 44.13 L112.5 44.36 L113.5 44.59 L114.5 44.82 L115.5 45.06 L116.5 45.30 L117.5 45.54 L118.5 45.79 L119.5 46.04 L120.5 46.29 L121.5 46.55 L122.5 46.81 L123.5 47.08 L124.5 47.35 L125.5 47.62 L126.5 47.90 L127.5 48.18 L128.5 48.47 L129.5 48.76 L130.5 49.06 L131.5 49.36 L132.5 49.67 L133.5 49.98 L134.5 50.30 L135.5 50.62 L136.5 50.95 L137.5 51.28 L138.5 51.62 L139.5 51.97 L140.5 52.32 L141.5 52.67 L142.5 53.03 L143.5 53.40 L144.5 53.78 L145.5 54.16 L146.5 54.54 L147.5 54.94 L148.5 55.34 L149.5 55.74 L150.5 56.16 L151.5 56.58 L152.5 57.01 L153.5 57.44 L154.5 57.88 L155.5 58.33 L156.5 58.79 L157.5 59.26 L158.5 59.73 L159.5 60.21 L160.5 60.70 L161.5 61.20 L162.5 61.70 L163.5 62.22 L164.5 62.74 L165.5 63.27 L166.5 63.81 L167.5 64.36 L168.5 64.92 L169.5 65.49 L170.5 66.06 L171.5 66.65 L172.5 67.24 L173.5 67.85 L174.5 68.46 L175.5 69.09 L176.5 69.72 L177.5 70.36 L178.5 71.02 L179.5 71.68 L180.5 72.36 L181.5 73.04 L182.5 73.73 L183.5 74.44 L184.5 75.15 L185.5 75.88 L186.5 76.61 L187.5 77.36 L188.5 78.11 L189.5 78.88 L190.5 79.65 L191.5 80.44 L192.5 81.23 L193.5 82.04 L194.5 82.85 L195.5 83.67 L196.5 84.51 L197.5 85.35 L198.5 86.20 L199.5 87.06 L200.5 87.93 L201.5 88.81 L202.5 89.70 L203.5 90.59 L204.5 91.49 L205.5 92.40 L206.5 93.31 L207.5 94.23 L208.5 95.15 L209.5 96.08 L210.5 97.01 L211.5 97.95 L212.5 98.89 L213.5 99.82 L214.5 100.77 L215.5 101.71 L216.5 102.64 L217.5 103.58 L218.5 104.52 L219.5 105.44 L220.5 106.37 L221.5 107.28 L222.5 108.19 L223.5 109.09 L224.5 109.98 L225.5 110.85 L226.5 111.71 L227.5 112.55 L228.5 113.38 L229.5 114.18 L230.5 114.96 L231.5 115.72 L232.5 116.45 L233.5 117.15 L234.5 117.81 L235.5 118.45 L236.5 119.05 L237.5 119.60 L238.5 120.12 L239.5 120.59 L240.5 121.02 L241.5 121.39 L242.5 121.72 L243.5 121.98 L244.5 122.19 L245.5 122.34 L246.5 122.42 L247.5 122.44 L248.5 122.39 L249.5 122.27 L250.5 122.07 L251.5 121.80 L252.5 121.45 L253.5 121.01 L254.5 120.50 L255.5 119.90 L256.5 119.22 L257.5 118.46 L258.5 117.61 L259.5 116.67 L260.5 115.65 L261.5 114.54 L262.5 113.35 L263.5 112.07 L264.5 110.72 L265.5 109.28 L266.5 107.78 L267.5 106.20 L268.5 104.55 L269.5 102.84 L270.5 101.08 L271.5 99.26 L272.5 97.39 L273.5 95.49 L274.5 93.55 L275.5 91.58 L276.5 89.59 L277.5 87.59 L278.5 85.59 L279.5 83.58 L280.5 81.59 L281.5 79.61 L282.5 77.66 L283.5 75.74 L284.5 73.86 L285.5 72.02 L286.5 70.22 L287.5 68.49 L288.5 66.81 L289.5 65.20 L290.5 63.65 L291.5 62.17 L292.5 60.77 L293.5 59.43 L294.5 58.17 L295.5 56.97 L296.5 55.85 L297.5 54.80 L298.5 53.81 L299.5 52.89 L300.5 52.02 L301.5 51.21 L302.5 50.45 L303.5 49.73 L304.5 49.06 L305.5 48.42 L306.5 47.81 L307.5 47.22 L308.5 46.65 L309.5 46.10 L310.5 45.55 L311.5 45.00 L312.5 44.45 L313.5 43.89 L314.5 43.32 L315.5 42.73 L316.5 42.11 L317.5 41.48 L318.5 40.81 L318.9 40.54" stroke="#ff00ff"/>
</g>
<text x="28.5" y="165.3" font-size="9.7" text-anchor="middle" >0.3</text>
<text x="86.6" y="165.3" font-size="9.7" text-anchor="middle" >0.4</text>
<text x="144.7" y="165.3" font-size="9.7" text-anchor="middle" >0.5</text>
<text x="202.7" y="165.3" font-size="9.7" text-anchor="middle" >0.6</text>
<text x="260.8" y="165.3" font-size="9.7" text-anchor="middle" >0.7</text>
<text x="318.9" y="165.3" font-size="9.7" text-anchor="middle" >0.8</text>
<text x="24.6" y="156.5" font-size="9.7" text-anchor="end" >0</text>
<text x="24.6" y="130.7" font-size="9.7" text-anchor="end" >0.2</text>
<text x="24.6" y="104.9" font-size="9.7" text-anchor="end" >0.4</text>
<text x="24.6" y="79.2" font-size="9.7" text-anchor="end" >0.6</text>
<text x="24.6" y="53.4" font-size="9.7" text-anchor="end" >0.8</text>
<text x="24.6" y="26.6" font-size="9.7" text-anchor="end" >1</text>
<text x="172.7" y="15.8" font-size="15" text-anchor="middle" letter-spacing="0.6">(a)</text>
<text x="173.8" y="178.1" font-size="11.5" text-anchor="middle" >Frequency(THz)</text>
<text transform="translate(9.2 87.6) rotate(-90)" font-size="11.5" text-anchor="middle">Transmittance</text>
<rect x="30.2" y="124.1" width="162.2" height="26.3" fill="#fff" stroke="#b8b8b8" stroke-width="0.7"/>
<path d="M31.3 130.8h9.6" stroke="#ff0000" stroke-width="1.5" fill="none"/><text x="42.1" y="132.7" font-size="7.8" letter-spacing="0.12">W<tspan font-size="6.4" dy="3.4">1</tspan><tspan dy="-3.4">= 0.1 μm</tspan></text>
<path d="M31.3 143.8h9.6" stroke="#0000ff" stroke-width="1.5" fill="none"/><text x="42.1" y="145.7" font-size="7.8" letter-spacing="0.12">W<tspan font-size="6.4" dy="3.4">2</tspan><tspan dy="-3.4">= 0.3 μm</tspan></text>
<path d="M85.0 130.8h9.6" stroke="#000000" stroke-width="1.5" fill="none"/><text x="95.8" y="132.7" font-size="7.8" letter-spacing="0.12">W<tspan font-size="6.4" dy="3.4">3</tspan><tspan dy="-3.4">= 0.5 μm</tspan></text>
<path d="M85.0 143.8h9.6" stroke="#00ff00" stroke-width="1.5" fill="none"/><text x="95.8" y="145.7" font-size="7.8" letter-spacing="0.12">W<tspan font-size="6.4" dy="3.4">4</tspan><tspan dy="-3.4">= 0.7 μm</tspan></text>
<path d="M139.0 130.8h9.6" stroke="#ffff00" stroke-width="1.5" fill="none"/><text x="149.8" y="132.7" font-size="7.8" letter-spacing="0.12">W<tspan font-size="6.4" dy="3.4">5</tspan><tspan dy="-3.4">= 0.9 μm</tspan></text>
<path d="M139.0 143.8h9.6" stroke="#ff00ff" stroke-width="1.5" fill="none"/><text x="149.8" y="145.7" font-size="7.8" letter-spacing="0.12">W<tspan font-size="6.4" dy="3.4">6</tspan><tspan dy="-3.4">= 1.1 μm</tspan></text>
<rect x="28.5" y="204.4" width="290.0" height="128.6" fill="none" stroke="#d0d0d0" stroke-width="1"/><path d="M28.5 333.0v-2.0M28.5 204.4v2.0M60.7 333.0v-2.0M60.7 204.4v2.0M92.9 333.0v-2.0M92.9 204.4v2.0M125.2 333.0v-2.0M125.2 204.4v2.0M157.4 333.0v-2.0M157.4 204.4v2.0M189.6 333.0v-2.0M189.6 204.4v2.0M221.8 333.0v-2.0M221.8 204.4v2.0M254.1 333.0v-2.0M254.1 204.4v2.0M286.3 333.0v-2.0M286.3 204.4v2.0M318.5 333.0v-2.0M318.5 204.4v2.0M28.5 333.0h2.0M318.5 333.0h-2.0M28.5 307.3h2.0M318.5 307.3h-2.0M28.5 281.6h2.0M318.5 281.6h-2.0M28.5 255.8h2.0M318.5 255.8h-2.0M28.5 230.1h2.0M318.5 230.1h-2.0M28.5 204.4h2.0M318.5 204.4h-2.0" stroke="#d0d0d0" stroke-width="1" fill="none"/>
<path d="M28.5 207.89 L29.5 208.01 L30.5 208.14 L31.5 208.26 L32.5 208.39 L33.5 208.51 L34.5 208.64 L35.5 208.78 L36.5 208.91 L37.5 209.05 L38.5 209.19 L39.5 209.33 L40.5 209.48 L41.5 209.63 L42.5 209.78 L43.5 209.93 L44.5 210.09 L45.5 210.25 L46.5 210.41 L47.5 210.58 L48.5 210.75 L49.5 210.92 L50.5 211.10 L51.5 211.28 L52.5 211.46 L53.5 211.65 L54.5 211.84 L55.5 212.03 L56.5 212.23 L57.5 212.43 L58.5 212.64 L59.5 212.85 L60.5 213.07 L61.5 213.29 L62.5 213.51 L63.5 213.74 L64.5 213.98 L65.5 214.22 L66.5 214.46 L67.5 214.72 L68.5 214.97 L69.5 215.24 L70.5 215.50 L71.5 215.78 L72.5 216.06 L73.5 216.35 L74.5 216.64 L75.5 216.95 L76.5 217.26 L77.5 217.57 L78.5 217.90 L79.5 218.23 L80.5 218.57 L81.5 218.92 L82.5 219.28 L83.5 219.64 L84.5 220.02 L85.5 220.40 L86.5 220.80 L87.5 221.21 L88.5 221.62 L89.5 222.05 L90.5 222.49 L91.5 222.94 L92.5 223.40 L93.5 223.87 L94.5 224.36 L95.5 224.86 L96.5 225.38 L97.5 225.90 L98.5 226.45 L99.5 227.01 L100.5 227.58 L101.5 228.17 L102.5 228.77 L103.5 229.40 L104.5 230.04 L105.5 230.70 L106.5 231.37 L107.5 232.07 L108.5 232.79 L109.5 233.53 L110.5 234.28 L111.5 235.07 L112.5 235.87 L113.5 236.69 L114.5 237.54 L115.5 238.42 L116.5 239.32 L117.5 240.24 L118.5 241.19 L119.5 242.17 L120.5 243.18 L121.5 244.21 L122.5 245.27 L123.5 246.36 L124.5 247.49 L125.5 248.64 L126.5 249.82 L127.5 251.04 L128.5 252.28 L129.5 253.56 L130.5 254.87 L131.5 256.22 L132.5 257.59 L133.5 259.00 L134.5 260.44 L135.5 261.92 L136.5 263.42 L137.5 264.96 L138.5 266.52 L139.5 268.12 L140.5 269.74 L141.5 271.39 L142.5 273.07 L143.5 274.77 L144.5 276.49 L145.5 278.23 L146.5 279.99 L147.5 281.76 L148.5 283.54 L149.5 285.33 L150.5 287.11 L151.5 288.90 L152.5 290.68 L153.5 292.45 L154.5 294.20 L155.5 295.92 L156.5 297.62 L157.5 299.28 L158.5 300.90 L159.5 302.46 L160.5 303.97 L161.5 305.42 L162.5 306.79 L163.5 308.09 L164.5 309.30 L165.5 310.41 L166.5 311.42 L167.5 312.32 L168.5 313.11 L169.5 313.77 L170.5 314.31 L171.5 314.71 L172.5 314.97 L173.5 315.09 L174.5 315.06 L175.5 314.88 L176.5 314.56 L177.5 314.08 L178.5 313.45 L179.5 312.68 L180.5 311.76 L181.5 310.69 L182.5 309.48 L183.5 308.14 L184.5 306.67 L185.5 305.08 L186.5 303.38 L187.5 301.56 L188.5 299.65 L189.5 297.65 L190.5 295.58 L191.5 293.43 L192.5 291.22 L193.5 288.95 L194.5 286.65 L195.5 284.31 L196.5 281.96 L197.5 279.58 L198.5 277.20 L199.5 274.83 L200.5 272.46 L201.5 270.11 L202.5 267.78 L203.5 265.49 L204.5 263.23 L205.5 261.00 L206.5 258.82 L207.5 256.69 L208.5 254.61 L209.5 252.59 L210.5 250.62 L211.5 248.71 L212.5 246.86 L213.5 245.07 L214.5 243.34 L215.5 241.67 L216.5 240.06 L217.5 238.51 L218.5 237.03 L219.5 235.60 L220.5 234.23 L221.5 232.92 L222.5 231.67 L223.5 230.48 L224.5 229.33 L225.5 228.24 L226.5 227.20 L227.5 226.21 L228.5 225.27 L229.5 224.38 L230.5 223.52 L231.5 222.72 L232.5 221.95 L233.5 221.22 L234.5 220.53 L235.5 219.88 L236.5 219.26 L237.5 218.67 L238.5 218.12 L239.5 217.60 L240.5 217.10 L241.5 216.64 L242.5 216.20 L243.5 215.78 L244.5 215.39 L245.5 215.03 L246.5 214.68 L247.5 214.36 L248.5 214.06 L249.5 213.77 L250.5 213.51 L251.5 213.26 L252.5 213.02 L253.5 212.81 L254.5 212.60 L255.5 212.41 L256.5 212.24 L257.5 212.08 L258.5 211.93 L259.5 211.79 L260.5 211.66 L261.5 211.54 L262.5 211.43 L263.5 211.34 L264.5 211.25 L265.5 211.17 L266.5 211.09 L267.5 211.03 L268.5 210.97 L269.5 210.92 L270.5 210.88 L271.5 210.84 L272.5 210.81 L273.5 210.78 L274.5 210.76 L275.5 210.75 L276.5 210.74 L277.5 210.73 L278.5 210.73 L279.5 210.73 L280.5 210.74 L281.5 210.75 L282.5 210.77 L283.5 210.79 L284.5 210.81 L285.5 210.83 L286.5 210.86 L287.5 210.89 L288.5 210.93 L289.5 210.97 L290.5 211.00 L291.5 211.05 L292.5 211.09 L293.5 211.14 L294.5 211.19 L295.5 211.24 L296.5 211.29 L297.5 211.35 L298.5 211.40 L299.5 211.46 L300.5 211.52 L301.5 211.58 L302.5 211.65 L303.5 211.71 L304.5 211.78 L305.5 211.85 L306.5 211.92 L307.5 211.99 L308.5 212.06 L309.5 212.13 L310.5 212.20 L311.5 212.28 L312.5 212.35 L313.5 212.43 L314.5 212.51 L315.5 212.59 L316.5 212.67 L317.5 212.75 L318.5 212.83" stroke="#ff0000" stroke-width="1.5" fill="none" stroke-linejoin="round"/>
<text x="28.1" y="346.6" font-size="9.7" text-anchor="middle" >0.1</text>
<text x="60.3" y="346.6" font-size="9.7" text-anchor="middle" >0.2</text>
<text x="92.6" y="346.6" font-size="9.7" text-anchor="middle" >0.3</text>
<text x="124.9" y="346.6" font-size="9.7" text-anchor="middle" >0.4</text>
<text x="157.1" y="346.6" font-size="9.7" text-anchor="middle" >0.5</text>
<text x="189.4" y="346.6" font-size="9.7" text-anchor="middle" >0.6</text>
<text x="221.7" y="346.6" font-size="9.7" text-anchor="middle" >0.7</text>
<text x="254.0" y="346.6" font-size="9.7" text-anchor="middle" >0.8</text>
<text x="286.2" y="346.6" font-size="9.7" text-anchor="middle" >0.9</text>
<text x="318.5" y="346.6" font-size="9.7" text-anchor="middle" >1</text>
<text x="24.6" y="337.3" font-size="9.7" text-anchor="end" >0</text>
<text x="24.6" y="311.6" font-size="9.7" text-anchor="end" >0.2</text>
<text x="24.6" y="285.9" font-size="9.7" text-anchor="end" >0.4</text>
<text x="24.6" y="260.1" font-size="9.7" text-anchor="end" >0.6</text>
<text x="24.6" y="234.4" font-size="9.7" text-anchor="end" >0.8</text>
<text x="24.6" y="207.7" font-size="9.7" text-anchor="end" >1</text>
<text x="161.5" y="196.3" font-size="15" text-anchor="middle" letter-spacing="0.6">(c)</text>
<text x="173.8" y="359.3" font-size="11.5" text-anchor="middle" >Frequency(THz)</text>
<text transform="translate(9.4 268.7) rotate(-90)" font-size="11.5" text-anchor="middle">Transmittance</text>
<rect x="263.4" y="213.8" width="52.1" height="118.0" fill="#fff" stroke="#b8b8b8" stroke-width="0.7"/>
<path d="M264.0 220.3h9.8" stroke="#00ffff" stroke-width="1.5" fill="none" stroke-dasharray="1 1"/><text x="274.6" y="222.9" font-size="7.8" letter-spacing="0.12">Q<tspan font-size="6.4" dy="3.4">1</tspan><tspan dy="-3.4">= 1 μm</tspan></text>
<path d="M264.0 233.3h9.8" stroke="#0000ff" stroke-width="1.5" fill="none" stroke-dasharray="1 1"/><text x="274.6" y="235.9" font-size="7.8" letter-spacing="0.12">Q<tspan font-size="6.4" dy="3.4">1</tspan><tspan dy="-3.4">= 1.5 μm</tspan></text>
<path d="M264.0 246.3h9.8" stroke="#ff0000" stroke-width="1.5" fill="none" stroke-dasharray="1 1"/><text x="274.6" y="248.9" font-size="7.8" letter-spacing="0.12">Q<tspan font-size="6.4" dy="3.4">3</tspan><tspan dy="-3.4">= 2 μm</tspan></text>
<path d="M264.0 259.3h9.8" stroke="#00ff00" stroke-width="1.5" fill="none"/><text x="274.6" y="261.9" font-size="7.8" letter-spacing="0.12">Q<tspan font-size="6.4" dy="3.4">4</tspan><tspan dy="-3.4">= 2.5 μm</tspan></text>
<path d="M264.0 272.3h9.8" stroke="#ffff00" stroke-width="1.5" fill="none"/><text x="274.6" y="274.9" font-size="7.8" letter-spacing="0.12">Q<tspan font-size="6.4" dy="3.4">5</tspan><tspan dy="-3.4">= 3 μm</tspan></text>
<path d="M264.0 285.3h9.8" stroke="#000000" stroke-width="1.5" fill="none"/><text x="274.6" y="287.9" font-size="7.8" letter-spacing="0.12">Q<tspan font-size="6.4" dy="3.4">6</tspan><tspan dy="-3.4">= 3.5μm</tspan></text>
<path d="M264.0 298.3h9.8" stroke="#0000ff" stroke-width="1.5" fill="none"/><text x="274.6" y="300.9" font-size="7.8" letter-spacing="0.12">Q<tspan font-size="6.4" dy="3.4">7</tspan><tspan dy="-3.4">= 4 μm</tspan></text>
<path d="M264.0 311.3h9.8" stroke="#00ffff" stroke-width="1.5" fill="none"/><text x="274.6" y="313.9" font-size="7.8" letter-spacing="0.12">Q<tspan font-size="6.4" dy="3.4">8</tspan><tspan dy="-3.4">= 4.5 μm</tspan></text>
<path d="M264.0 324.3h9.8" stroke="#ff0000" stroke-width="1.5" fill="none"/><text x="274.6" y="326.9" font-size="7.8" letter-spacing="0.12">Q<tspan font-size="6.4" dy="3.4">9</tspan><tspan dy="-3.4">= 5μm</tspan></text>
<rect x="376.00" y="19.7" width="1.60" height="138.3" fill="url(#b0)"/><rect x="377.00" y="19.7" width="1.60" height="138.3" fill="url(#b1)"/><rect x="378.00" y="19.7" width="1.60" height="138.3" fill="url(#b2)"/><rect x="379.01" y="19.7" width="1.60" height="138.3" fill="url(#b3)"/><rect x="380.01" y="19.7" width="1.60" height="138.3" fill="url(#b4)"/><rect x="381.01" y="19.7" width="1.60" height="138.3" fill="url(#b5)"/><rect x="382.01" y="19.7" width="1.60" height="138.3" fill="url(#b6)"/><rect x="383.01" y="19.7" width="1.60" height="138.3" fill="url(#b7)"/><rect x="384.01" y="19.7" width="1.60" height="138.3" fill="url(#b8)"/><rect x="385.02" y="19.7" width="1.60" height="138.3" fill="url(#b9)"/><rect x="386.02" y="19.7" width="1.60" height="138.3" fill="url(#b10)"/><rect x="387.02" y="19.7" width="1.60" height="138.3" fill="url(#b11)"/><rect x="388.02" y="19.7" width="1.60" height="138.3" fill="url(#b12)"/><rect x="389.02" y="19.7" width="1.60" height="138.3" fill="url(#b13)"/><rect x="390.03" y="19.7" width="1.60" height="138.3" fill="url(#b14)"/><rect x="391.03" y="19.7" width="1.60" height="138.3" fill="url(#b15)"/><rect x="392.03" y="19.7" width="1.60" height="138.3" fill="url(#b16)"/><rect x="393.03" y="19.7" width="1.60" height="138.3" fill="url(#b17)"/><rect x="394.03" y="19.7" width="1.60" height="138.3" fill="url(#b18)"/><rect x="395.03" y="19.7" width="1.60" height="138.3" fill="url(#b19)"/><rect x="396.04" y="19.7" width="1.60" height="138.3" fill="url(#b20)"/><rect x="397.04" y="19.7" width="1.60" height="138.3" fill="url(#b21)"/><rect x="398.04" y="19.7" width="1.60" height="138.3" fill="url(#b22)"/><rect x="399.04" y="19.7" width="1.60" height="138.3" fill="url(#b23)"/><rect x="400.04" y="19.7" width="1.60" height="138.3" fill="url(#b24)"/><rect x="401.05" y="19.7" width="1.60" height="138.3" fill="url(#b25)"/><rect x="402.05" y="19.7" width="1.60" height="138.3" fill="url(#b26)"/><rect x="403.05" y="19.7" width="1.60" height="138.3" fill="url(#b27)"/><rect x="404.05" y="19.7" width="1.60" height="138.3" fill="url(#b28)"/><rect x="405.05" y="19.7" width="1.60" height="138.3" fill="url(#b29)"/><rect x="406.05" y="19.7" width="1.60" height="138.3" fill="url(#b30)"/><rect x="407.06" y="19.7" width="1.60" height="138.3" fill="url(#b31)"/><rect x="408.06" y="19.7" width="1.60" height="138.3" fill="url(#b32)"/><rect x="409.06" y="19.7" width="1.60" height="138.3" fill="url(#b33)"/><rect x="410.06" y="19.7" width="1.60" height="138.3" fill="url(#b34)"/><rect x="411.06" y="19.7" width="1.60" height="138.3" fill="url(#b35)"/><rect x="412.07" y="19.7" width="1.60" height="138.3" fill="url(#b36)"/><rect x="413.07" y="19.7" width="1.60" height="138.3" fill="url(#b37)"/><rect x="414.07" y="19.7" width="1.60" height="138.3" fill="url(#b38)"/><rect x="415.07" y="19.7" width="1.60" height="138.3" fill="url(#b39)"/><rect x="416.07" y="19.7" width="1.60" height="138.3" fill="url(#b40)"/><rect x="417.07" y="19.7" width="1.60" height="138.3" fill="url(#b41)"/><rect x="418.08" y="19.7" width="1.60" height="138.3" fill="url(#b42)"/><rect x="419.08" y="19.7" width="1.60" height="138.3" fill="url(#b43)"/><rect x="420.08" y="19.7" width="1.60" height="138.3" fill="url(#b44)"/><rect x="421.08" y="19.7" width="1.60" height="138.3" fill="url(#b45)"/><rect x="422.08" y="19.7" width="1.60" height="138.3" fill="url(#b46)"/><rect x="423.09" y="19.7" width="1.60" height="138.3" fill="url(#b47)"/><rect x="424.09" y="19.7" width="1.60" height="138.3" fill="url(#b48)"/><rect x="425.09" y="19.7" width="1.60" height="138.3" fill="url(#b49)"/><rect x="426.09" y="19.7" width="1.60" height="138.3" fill="url(#b50)"/><rect x="427.09" y="19.7" width="1.60" height="138.3" fill="url(#b51)"/><rect x="428.09" y="19.7" width="1.60" height="138.3" fill="url(#b52)"/><rect x="429.10" y="19.7" width="1.60" height="138.3" fill="url(#b53)"/><rect x="430.10" y="19.7" width="1.60" height="138.3" fill="url(#b54)"/><rect x="431.10" y="19.7" width="1.60" height="138.3" fill="url(#b55)"/><rect x="432.10" y="19.7" width="1.60" height="138.3" fill="url(#b56)"/><rect x="433.10" y="19.7" width="1.60" height="138.3" fill="url(#b57)"/><rect x="434.11" y="19.7" width="1.60" height="138.3" fill="url(#b58)"/><rect x="435.11" y="19.7" width="1.60" height="138.3" fill="url(#b59)"/><rect x="436.11" y="19.7" width="1.60" height="138.3" fill="url(#b60)"/><rect x="437.11" y="19.7" width="1.60" height="138.3" fill="url(#b61)"/><rect x="438.11" y="19.7" width="1.60" height="138.3" fill="url(#b62)"/><rect x="439.11" y="19.7" width="1.60" height="138.3" fill="url(#b63)"/><rect x="440.12" y="19.7" width="1.60" height="138.3" fill="url(#b64)"/><rect x="441.12" y="19.7" width="1.60" height="138.3" fill="url(#b65)"/><rect x="442.12" y="19.7" width="1.60" height="138.3" fill="url(#b66)"/><rect x="443.12" y="19.7" width="1.60" height="138.3" fill="url(#b67)"/><rect x="444.12" y="19.7" width="1.60" height="138.3" fill="url(#b68)"/><rect x="445.13" y="19.7" width="1.60" height="138.3" fill="url(#b69)"/><rect x="446.13" y="19.7" width="1.60" height="138.3" fill="url(#b70)"/><rect x="447.13" y="19.7" width="1.60" height="138.3" fill="url(#b71)"/><rect x="448.13" y="19.7" width="1.60" height="138.3" fill="url(#b72)"/><rect x="449.13" y="19.7" width="1.60" height="138.3" fill="url(#b73)"/><rect x="450.14" y="19.7" width="1.60" height="138.3" fill="url(#b74)"/><rect x="451.14" y="19.7" width="1.60" height="138.3" fill="url(#b75)"/><rect x="452.14" y="19.7" width="1.60" height="138.3" fill="url(#b76)"/><rect x="453.14" y="19.7" width="1.60" height="138.3" fill="url(#b77)"/><rect x="454.14" y="19.7" width="1.60" height="138.3" fill="url(#b78)"/><rect x="455.14" y="19.7" width="1.60" height="138.3" fill="url(#b79)"/><rect x="456.15" y="19.7" width="1.60" height="138.3" fill="url(#b80)"/><rect x="457.15" y="19.7" width="1.60" height="138.3" fill="url(#b81)"/><rect x="458.15" y="19.7" width="1.60" height="138.3" fill="url(#b82)"/><rect x="459.15" y="19.7" width="1.60" height="138.3" fill="url(#b83)"/><rect x="460.15" y="19.7" width="1.60" height="138.3" fill="url(#b84)"/><rect x="461.16" y="19.7" width="1.60" height="138.3" fill="url(#b85)"/><rect x="462.16" y="19.7" width="1.60" height="138.3" fill="url(#b86)"/><rect x="463.16" y="19.7" width="1.60" height="138.3" fill="url(#b87)"/><rect x="464.16" y="19.7" width="1.60" height="138.3" fill="url(#b88)"/><rect x="465.16" y="19.7" width="1.60" height="138.3" fill="url(#b89)"/><rect x="466.16" y="19.7" width="1.60" height="138.3" fill="url(#b90)"/><rect x="467.17" y="19.7" width="1.60" height="138.3" fill="url(#b91)"/><rect x="468.17" y="19.7" width="1.60" height="138.3" fill="url(#b92)"/><rect x="469.17" y="19.7" width="1.60" height="138.3" fill="url(#b93)"/><rect x="470.17" y="19.7" width="1.60" height="138.3" fill="url(#b94)"/><rect x="471.17" y="19.7" width="1.60" height="138.3" fill="url(#b95)"/><rect x="472.18" y="19.7" width="1.60" height="138.3" fill="url(#b96)"/><rect x="473.18" y="19.7" width="1.60" height="138.3" fill="url(#b97)"/><rect x="474.18" y="19.7" width="1.60" height="138.3" fill="url(#b98)"/><rect x="475.18" y="19.7" width="1.60" height="138.3" fill="url(#b99)"/><rect x="476.18" y="19.7" width="1.60" height="138.3" fill="url(#b100)"/><rect x="477.18" y="19.7" width="1.60" height="138.3" fill="url(#b101)"/><rect x="478.19" y="19.7" width="1.60" height="138.3" fill="url(#b102)"/><rect x="479.19" y="19.7" width="1.60" height="138.3" fill="url(#b103)"/><rect x="480.19" y="19.7" width="1.60" height="138.3" fill="url(#b104)"/><rect x="481.19" y="19.7" width="1.60" height="138.3" fill="url(#b105)"/><rect x="482.19" y="19.7" width="1.60" height="138.3" fill="url(#b106)"/><rect x="483.20" y="19.7" width="1.60" height="138.3" fill="url(#b107)"/><rect x="484.20" y="19.7" width="1.60" height="138.3" fill="url(#b108)"/><rect x="485.20" y="19.7" width="1.60" height="138.3" fill="url(#b109)"/><rect x="486.20" y="19.7" width="1.60" height="138.3" fill="url(#b110)"/><rect x="487.20" y="19.7" width="1.60" height="138.3" fill="url(#b111)"/><rect x="488.20" y="19.7" width="1.60" height="138.3" fill="url(#b112)"/><rect x="489.21" y="19.7" width="1.60" height="138.3" fill="url(#b113)"/><rect x="490.21" y="19.7" width="1.60" height="138.3" fill="url(#b114)"/><rect x="491.21" y="19.7" width="1.60" height="138.3" fill="url(#b115)"/><rect x="492.21" y="19.7" width="1.60" height="138.3" fill="url(#b116)"/><rect x="493.21" y="19.7" width="1.60" height="138.3" fill="url(#b117)"/><rect x="494.22" y="19.7" width="1.60" height="138.3" fill="url(#b118)"/><rect x="495.22" y="19.7" width="1.60" height="138.3" fill="url(#b119)"/><rect x="496.22" y="19.7" width="1.60" height="138.3" fill="url(#b120)"/><rect x="497.22" y="19.7" width="1.60" height="138.3" fill="url(#b121)"/><rect x="498.22" y="19.7" width="1.60" height="138.3" fill="url(#b122)"/><rect x="499.22" y="19.7" width="1.60" height="138.3" fill="url(#b123)"/><rect x="500.23" y="19.7" width="1.60" height="138.3" fill="url(#b124)"/><rect x="501.23" y="19.7" width="1.60" height="138.3" fill="url(#b125)"/><rect x="502.23" y="19.7" width="1.60" height="138.3" fill="url(#b126)"/><rect x="503.23" y="19.7" width="1.60" height="138.3" fill="url(#b127)"/><rect x="504.23" y="19.7" width="1.60" height="138.3" fill="url(#b128)"/><rect x="505.24" y="19.7" width="1.60" height="138.3" fill="url(#b129)"/><rect x="506.24" y="19.7" width="1.60" height="138.3" fill="url(#b130)"/><rect x="507.24" y="19.7" width="1.60" height="138.3" fill="url(#b131)"/><rect x="508.24" y="19.7" width="1.60" height="138.3" fill="url(#b132)"/><rect x="509.24" y="19.7" width="1.60" height="138.3" fill="url(#b133)"/><rect x="510.24" y="19.7" width="1.60" height="138.3" fill="url(#b134)"/><rect x="511.25" y="19.7" width="1.60" height="138.3" fill="url(#b135)"/><rect x="512.25" y="19.7" width="1.60" height="138.3" fill="url(#b136)"/><rect x="513.25" y="19.7" width="1.60" height="138.3" fill="url(#b137)"/><rect x="514.25" y="19.7" width="1.60" height="138.3" fill="url(#b138)"/><rect x="515.25" y="19.7" width="1.60" height="138.3" fill="url(#b139)"/><rect x="516.26" y="19.7" width="1.60" height="138.3" fill="url(#b140)"/><rect x="517.26" y="19.7" width="1.60" height="138.3" fill="url(#b141)"/><rect x="518.26" y="19.7" width="1.60" height="138.3" fill="url(#b142)"/><rect x="519.26" y="19.7" width="1.60" height="138.3" fill="url(#b143)"/><rect x="520.26" y="19.7" width="1.60" height="138.3" fill="url(#b144)"/><rect x="521.26" y="19.7" width="1.60" height="138.3" fill="url(#b145)"/><rect x="522.27" y="19.7" width="1.60" height="138.3" fill="url(#b146)"/><rect x="523.27" y="19.7" width="1.60" height="138.3" fill="url(#b147)"/><rect x="524.27" y="19.7" width="1.60" height="138.3" fill="url(#b148)"/><rect x="525.27" y="19.7" width="1.60" height="138.3" fill="url(#b149)"/><rect x="526.27" y="19.7" width="1.60" height="138.3" fill="url(#b150)"/><rect x="527.28" y="19.7" width="1.60" height="138.3" fill="url(#b151)"/><rect x="528.28" y="19.7" width="1.60" height="138.3" fill="url(#b152)"/><rect x="529.28" y="19.7" width="1.60" height="138.3" fill="url(#b153)"/><rect x="530.28" y="19.7" width="1.60" height="138.3" fill="url(#b154)"/><rect x="531.28" y="19.7" width="1.60" height="138.3" fill="url(#b155)"/><rect x="532.28" y="19.7" width="1.60" height="138.3" fill="url(#b156)"/><rect x="533.29" y="19.7" width="1.60" height="138.3" fill="url(#b157)"/><rect x="534.29" y="19.7" width="1.60" height="138.3" fill="url(#b158)"/><rect x="535.29" y="19.7" width="1.60" height="138.3" fill="url(#b159)"/><rect x="536.29" y="19.7" width="1.60" height="138.3" fill="url(#b160)"/><rect x="537.29" y="19.7" width="1.60" height="138.3" fill="url(#b161)"/><rect x="538.30" y="19.7" width="1.60" height="138.3" fill="url(#b162)"/><rect x="539.30" y="19.7" width="1.60" height="138.3" fill="url(#b163)"/><rect x="540.30" y="19.7" width="1.60" height="138.3" fill="url(#b164)"/><rect x="541.30" y="19.7" width="1.60" height="138.3" fill="url(#b165)"/><rect x="542.30" y="19.7" width="1.60" height="138.3" fill="url(#b166)"/><rect x="543.30" y="19.7" width="1.60" height="138.3" fill="url(#b167)"/><rect x="544.31" y="19.7" width="1.60" height="138.3" fill="url(#b168)"/><rect x="545.31" y="19.7" width="1.60" height="138.3" fill="url(#b169)"/><rect x="546.31" y="19.7" width="1.60" height="138.3" fill="url(#b170)"/><rect x="547.31" y="19.7" width="1.60" height="138.3" fill="url(#b171)"/><rect x="548.31" y="19.7" width="1.60" height="138.3" fill="url(#b172)"/><rect x="549.32" y="19.7" width="1.60" height="138.3" fill="url(#b173)"/><rect x="550.32" y="19.7" width="1.60" height="138.3" fill="url(#b174)"/><rect x="551.32" y="19.7" width="1.60" height="138.3" fill="url(#b175)"/><rect x="552.32" y="19.7" width="1.60" height="138.3" fill="url(#b176)"/><rect x="553.32" y="19.7" width="1.60" height="138.3" fill="url(#b177)"/><rect x="554.32" y="19.7" width="1.60" height="138.3" fill="url(#b178)"/><rect x="555.33" y="19.7" width="1.60" height="138.3" fill="url(#b179)"/><rect x="556.33" y="19.7" width="1.60" height="138.3" fill="url(#b180)"/><rect x="557.33" y="19.7" width="1.60" height="138.3" fill="url(#b181)"/><rect x="558.33" y="19.7" width="1.60" height="138.3" fill="url(#b182)"/><rect x="559.33" y="19.7" width="1.60" height="138.3" fill="url(#b183)"/><rect x="560.34" y="19.7" width="1.60" height="138.3" fill="url(#b184)"/><rect x="561.34" y="19.7" width="1.60" height="138.3" fill="url(#b185)"/><rect x="562.34" y="19.7" width="1.60" height="138.3" fill="url(#b186)"/><rect x="563.34" y="19.7" width="1.60" height="138.3" fill="url(#b187)"/><rect x="564.34" y="19.7" width="1.60" height="138.3" fill="url(#b188)"/><rect x="565.34" y="19.7" width="1.60" height="138.3" fill="url(#b189)"/><rect x="566.35" y="19.7" width="1.60" height="138.3" fill="url(#b190)"/><rect x="567.35" y="19.7" width="1.60" height="138.3" fill="url(#b191)"/><rect x="568.35" y="19.7" width="1.60" height="138.3" fill="url(#b192)"/><rect x="569.35" y="19.7" width="1.60" height="138.3" fill="url(#b193)"/><rect x="570.35" y="19.7" width="1.60" height="138.3" fill="url(#b194)"/><rect x="571.36" y="19.7" width="1.60" height="138.3" fill="url(#b195)"/><rect x="572.36" y="19.7" width="1.60" height="138.3" fill="url(#b196)"/><rect x="573.36" y="19.7" width="1.60" height="138.3" fill="url(#b197)"/><rect x="574.36" y="19.7" width="1.60" height="138.3" fill="url(#b198)"/><rect x="575.36" y="19.7" width="1.60" height="138.3" fill="url(#b199)"/><rect x="576.36" y="19.7" width="1.60" height="138.3" fill="url(#b200)"/><rect x="577.37" y="19.7" width="1.60" height="138.3" fill="url(#b201)"/><rect x="578.37" y="19.7" width="1.60" height="138.3" fill="url(#b202)"/><rect x="579.37" y="19.7" width="1.60" height="138.3" fill="url(#b203)"/><rect x="580.37" y="19.7" width="1.60" height="138.3" fill="url(#b204)"/><rect x="581.37" y="19.7" width="1.60" height="138.3" fill="url(#b205)"/><rect x="582.38" y="19.7" width="1.60" height="138.3" fill="url(#b206)"/><rect x="583.38" y="19.7" width="1.60" height="138.3" fill="url(#b207)"/><rect x="584.38" y="19.7" width="1.60" height="138.3" fill="url(#b208)"/><rect x="585.38" y="19.7" width="1.60" height="138.3" fill="url(#b209)"/><rect x="586.38" y="19.7" width="1.60" height="138.3" fill="url(#b210)"/><rect x="587.39" y="19.7" width="1.60" height="138.3" fill="url(#b211)"/><rect x="588.39" y="19.7" width="1.60" height="138.3" fill="url(#b212)"/><rect x="589.39" y="19.7" width="1.60" height="138.3" fill="url(#b213)"/><rect x="590.39" y="19.7" width="1.60" height="138.3" fill="url(#b214)"/><rect x="591.39" y="19.7" width="1.60" height="138.3" fill="url(#b215)"/><rect x="592.39" y="19.7" width="1.60" height="138.3" fill="url(#b216)"/><rect x="593.40" y="19.7" width="1.60" height="138.3" fill="url(#b217)"/><rect x="594.40" y="19.7" width="1.60" height="138.3" fill="url(#b218)"/><rect x="595.40" y="19.7" width="1.60" height="138.3" fill="url(#b219)"/><rect x="596.40" y="19.7" width="1.60" height="138.3" fill="url(#b220)"/><rect x="597.40" y="19.7" width="1.60" height="138.3" fill="url(#b221)"/><rect x="598.41" y="19.7" width="1.60" height="138.3" fill="url(#b222)"/><rect x="599.41" y="19.7" width="1.60" height="138.3" fill="url(#b223)"/><rect x="600.41" y="19.7" width="1.60" height="138.3" fill="url(#b224)"/><rect x="601.41" y="19.7" width="1.60" height="138.3" fill="url(#b225)"/><rect x="602.41" y="19.7" width="1.60" height="138.3" fill="url(#b226)"/><rect x="603.41" y="19.7" width="1.60" height="138.3" fill="url(#b227)"/><rect x="604.42" y="19.7" width="1.60" height="138.3" fill="url(#b228)"/><rect x="605.42" y="19.7" width="1.60" height="138.3" fill="url(#b229)"/><rect x="606.42" y="19.7" width="1.60" height="138.3" fill="url(#b230)"/><rect x="607.42" y="19.7" width="1.60" height="138.3" fill="url(#b231)"/><rect x="608.42" y="19.7" width="1.60" height="138.3" fill="url(#b232)"/><rect x="609.43" y="19.7" width="1.60" height="138.3" fill="url(#b233)"/><rect x="610.43" y="19.7" width="1.60" height="138.3" fill="url(#b234)"/><rect x="611.43" y="19.7" width="1.60" height="138.3" fill="url(#b235)"/><rect x="612.43" y="19.7" width="1.60" height="138.3" fill="url(#b236)"/><rect x="613.43" y="19.7" width="1.60" height="138.3" fill="url(#b237)"/><rect x="614.43" y="19.7" width="1.60" height="138.3" fill="url(#b238)"/><rect x="615.44" y="19.7" width="1.60" height="138.3" fill="url(#b239)"/><rect x="616.44" y="19.7" width="1.60" height="138.3" fill="url(#b240)"/><rect x="617.44" y="19.7" width="1.60" height="138.3" fill="url(#b241)"/><rect x="618.44" y="19.7" width="1.60" height="138.3" fill="url(#b242)"/><rect x="619.44" y="19.7" width="1.60" height="138.3" fill="url(#b243)"/><rect x="620.45" y="19.7" width="1.60" height="138.3" fill="url(#b244)"/><rect x="621.45" y="19.7" width="1.60" height="138.3" fill="url(#b245)"/><rect x="622.45" y="19.7" width="1.60" height="138.3" fill="url(#b246)"/><rect x="623.45" y="19.7" width="1.60" height="138.3" fill="url(#b247)"/><rect x="624.45" y="19.7" width="1.60" height="138.3" fill="url(#b248)"/><rect x="625.45" y="19.7" width="1.60" height="138.3" fill="url(#b249)"/><rect x="626.46" y="19.7" width="1.60" height="138.3" fill="url(#b250)"/><rect x="627.46" y="19.7" width="1.60" height="138.3" fill="url(#b251)"/><rect x="628.46" y="19.7" width="1.60" height="138.3" fill="url(#b252)"/><rect x="629.46" y="19.7" width="1.60" height="138.3" fill="url(#b253)"/><rect x="630.46" y="19.7" width="1.60" height="138.3" fill="url(#b254)"/><rect x="631.47" y="19.7" width="1.60" height="138.3" fill="url(#b255)"/><rect x="632.47" y="19.7" width="1.60" height="138.3" fill="url(#b256)"/><rect x="633.47" y="19.7" width="1.60" height="138.3" fill="url(#b257)"/><rect x="634.47" y="19.7" width="1.60" height="138.3" fill="url(#b258)"/><rect x="635.47" y="19.7" width="1.60" height="138.3" fill="url(#b259)"/><rect x="636.47" y="19.7" width="1.60" height="138.3" fill="url(#b260)"/><rect x="637.48" y="19.7" width="1.60" height="138.3" fill="url(#b261)"/><rect x="638.48" y="19.7" width="1.60" height="138.3" fill="url(#b262)"/><rect x="639.48" y="19.7" width="1.60" height="138.3" fill="url(#b263)"/><rect x="640.48" y="19.7" width="1.60" height="138.3" fill="url(#b264)"/><rect x="641.48" y="19.7" width="1.60" height="138.3" fill="url(#b265)"/><rect x="642.49" y="19.7" width="1.60" height="138.3" fill="url(#b266)"/><rect x="643.49" y="19.7" width="1.60" height="138.3" fill="url(#b267)"/><rect x="644.49" y="19.7" width="1.60" height="138.3" fill="url(#b268)"/><rect x="645.49" y="19.7" width="1.60" height="138.3" fill="url(#b269)"/><rect x="646.49" y="19.7" width="1.60" height="138.3" fill="url(#b270)"/><rect x="647.49" y="19.7" width="1.60" height="138.3" fill="url(#b271)"/><rect x="648.50" y="19.7" width="1.60" height="138.3" fill="url(#b272)"/><rect x="649.50" y="19.7" width="1.00" height="138.3" fill="url(#b273)"/>
<text x="375.6" y="170.6" font-size="9.7" text-anchor="middle" >0.3</text>
<text x="430.5" y="170.6" font-size="9.7" text-anchor="middle" >0.4</text>
<text x="485.4" y="170.6" font-size="9.7" text-anchor="middle" >0.5</text>
<text x="540.3" y="170.6" font-size="9.7" text-anchor="middle" >0.6</text>
<text x="595.2" y="170.6" font-size="9.7" text-anchor="middle" >0.7</text>
<text x="650.1" y="170.6" font-size="9.7" text-anchor="middle" >0.8</text>
<text x="372.9" y="162.1" font-size="9.7" text-anchor="end" >0.1</text>
<text x="372.9" y="134.4" font-size="9.7" text-anchor="end" >0.3</text>
<text x="372.9" y="106.8" font-size="9.7" text-anchor="end" >0.5</text>
<text x="372.9" y="79.1" font-size="9.7" text-anchor="end" >0.7</text>
<text x="372.9" y="51.5" font-size="9.7" text-anchor="end" >0.9</text>
<text x="372.9" y="23.8" font-size="9.7" text-anchor="end" >1.1</text>
<text x="517.9" y="11.2" font-size="15" text-anchor="middle" letter-spacing="0.6">(b)</text>
<text transform="translate(356.9 88.7) rotate(-90)" font-size="12" text-anchor="middle">W (μm)</text>
<rect x="659.6" y="19.7" width="5.6" height="138.3" fill="url(#cb)" stroke="#d8d8d8" stroke-width="0.5"/>
<text x="667.9" y="23.7" font-size="9.2" text-anchor="start" >1</text>
<text x="667.9" y="65.2" font-size="9.2" text-anchor="start" >0.85</text>
<path d="M665.2 61.2h-1.4" stroke="#333" stroke-width="0.7" fill="none"/>
<text x="667.9" y="106.7" font-size="9.2" text-anchor="start" >0.7</text>
<path d="M665.2 102.7h-1.4" stroke="#333" stroke-width="0.7" fill="none"/>
<text x="667.9" y="148.2" font-size="9.2" text-anchor="start" >0.55</text>
<path d="M665.2 144.2h-1.4" stroke="#333" stroke-width="0.7" fill="none"/>
<rect x="376.0" y="207.7" width="274.7" height="129.3" fill="url(#gd)"/>
<text x="376.3" y="349.6" font-size="9.7" text-anchor="middle" >0.1</text>
<text x="406.7" y="349.6" font-size="9.7" text-anchor="middle" >0.2</text>
<text x="437.0" y="349.6" font-size="9.7" text-anchor="middle" >0.3</text>
<text x="467.4" y="349.6" font-size="9.7" text-anchor="middle" >0.4</text>
<text x="497.8" y="349.6" font-size="9.7" text-anchor="middle" >0.5</text>
<text x="528.1" y="349.6" font-size="9.7" text-anchor="middle" >0.6</text>
<text x="558.5" y="349.6" font-size="9.7" text-anchor="middle" >0.7</text>
<text x="588.9" y="349.6" font-size="9.7" text-anchor="middle" >0.8</text>
<text x="619.2" y="349.6" font-size="9.7" text-anchor="middle" >0.9</text>
<text x="647.6" y="349.6" font-size="9.7" text-anchor="middle" >1</text>
<text x="363.0" y="340.9" font-size="9.7" text-anchor="start" >1</text>
<text x="373.0" y="324.8" font-size="9.7" text-anchor="end" >1.5</text>
<text x="363.0" y="308.8" font-size="9.7" text-anchor="start" >2</text>
<text x="373.0" y="292.7" font-size="9.7" text-anchor="end" >2.5</text>
<text x="363.0" y="276.7" font-size="9.7" text-anchor="start" >3</text>
<text x="373.0" y="260.6" font-size="9.7" text-anchor="end" >3.5</text>
<text x="363.0" y="244.6" font-size="9.7" text-anchor="start" >4</text>
<text x="373.0" y="228.5" font-size="9.7" text-anchor="end" >4.5</text>
<text x="363.0" y="212.5" font-size="9.7" text-anchor="start" >5</text>
<text x="508.3" y="200.0" font-size="15" text-anchor="middle" letter-spacing="0.6">(d)</text>
<text x="513.6" y="362.5" font-size="11.5" text-anchor="middle" >Frequency (THz)</text>
<text transform="translate(356.9 272.2) rotate(-90)" font-size="11.2" text-anchor="middle">Q (μm)</text>
<rect x="659.6" y="207.7" width="5.6" height="129.3" fill="url(#cb)" stroke="#d8d8d8" stroke-width="0.5"/>
<text x="667.9" y="211.9" font-size="9.2" text-anchor="start" >1</text>
<text x="667.9" y="250.7" font-size="9.2" text-anchor="start" >0.85</text>
<path d="M665.2 246.5h-1.4" stroke="#333" stroke-width="0.7" fill="none"/>
<text x="667.9" y="289.5" font-size="9.2" text-anchor="start" >0.7</text>
<path d="M665.2 285.3h-1.4" stroke="#333" stroke-width="0.7" fill="none"/>
<text x="667.9" y="328.3" font-size="9.2" text-anchor="start" >0.55</text>
<path d="M665.2 324.1h-1.4" stroke="#333" stroke-width="0.7" fill="none"/>
</g></svg></body></html>
